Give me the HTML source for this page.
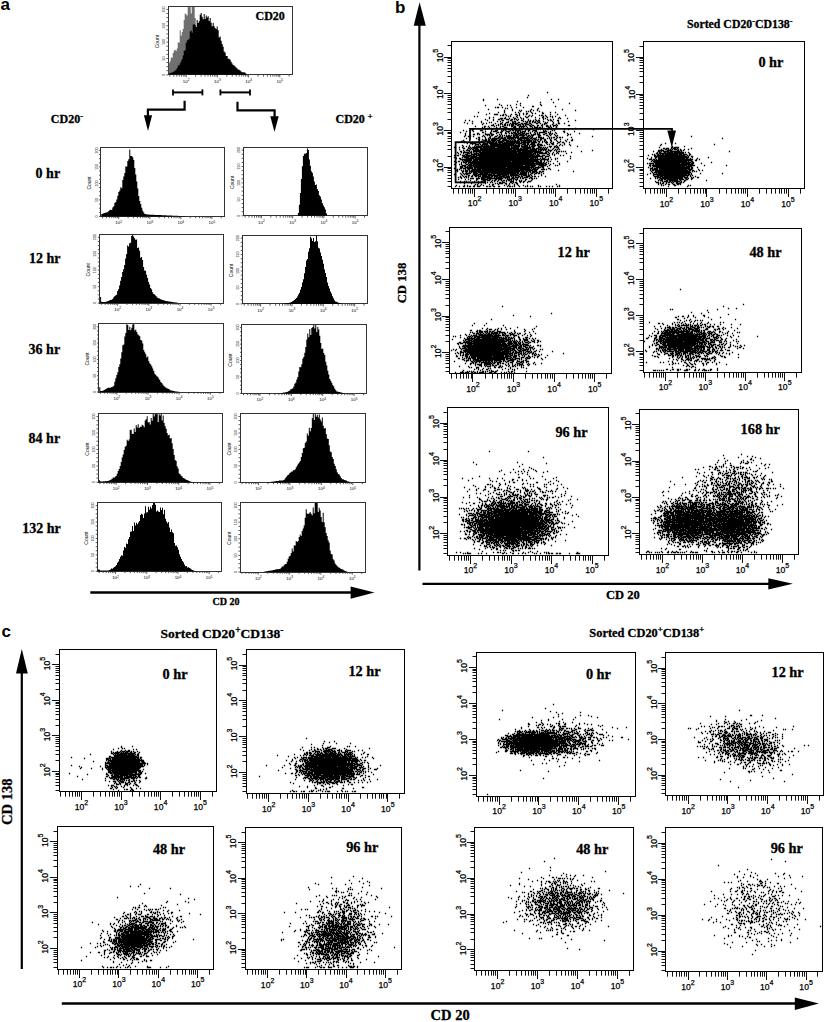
<!DOCTYPE html>
<html><head><meta charset="utf-8"><title>Figure</title>
<style>html,body{margin:0;padding:0;background:#fff;overflow:hidden;}svg{display:block;}text{fill:#000;}</style>
</head><body>
<svg width="826" height="1022" viewBox="0 0 826 1022"><text x="0.5" y="10" font-size="17" font-family="Liberation Sans" font-weight="bold" text-anchor="start" >a</text>
<text x="395" y="13.2" font-size="17" font-family="Liberation Sans" font-weight="bold" text-anchor="start" >b</text>
<text x="1.5" y="637.3" font-size="17" font-family="Liberation Sans" font-weight="bold" text-anchor="start" >c</text>
<line x1="90.3" y1="592.5" x2="352" y2="592.5" stroke="#000" stroke-width="2.7" />
<polygon points="350.6,586.4 374.5,592.5 350.6,598.8" fill="#000"/>
<line x1="419.4" y1="24" x2="419.4" y2="570.6" stroke="#000" stroke-width="2.2" />
<polygon points="413.7,25.7 419.6,2.2 425.8,25.7" fill="#000"/>
<line x1="422.5" y1="583.8" x2="770" y2="583.8" stroke="#000" stroke-width="2.2" />
<polygon points="768.3,578.3 792.9,583.8 768.3,589.6" fill="#000"/>
<line x1="21.8" y1="672" x2="21.8" y2="969" stroke="#000" stroke-width="2.2" />
<polygon points="16,673.5 21.8,649 27.8,673.5" fill="#000"/>
<line x1="61.8" y1="1003.5" x2="796" y2="1003.5" stroke="#000" stroke-width="2.4" />
<polygon points="794.8,997.5 818.9,1003.5 794.8,1010" fill="#000"/>
<polyline points="184.6,100.8 184.6,109.6 147.9,109.6 147.9,116" fill="none" stroke="#000" stroke-width="2.2"/>
<polygon points="143.9,115.2 152.1,115.2 148,131" fill="#000"/>
<polyline points="237.5,101.8 237.5,110.3 274.6,110.3 274.6,117" fill="none" stroke="#000" stroke-width="2.2"/>
<polygon points="270.3,116.3 278.7,116.3 274.5,132" fill="#000"/>
<line x1="173" y1="92.4" x2="202.4" y2="92.4" stroke="#000" stroke-width="2" />
<line x1="173" y1="89.4" x2="173" y2="95.4" stroke="#000" stroke-width="1.8" />
<line x1="202.4" y1="89.4" x2="202.4" y2="95.4" stroke="#000" stroke-width="1.8" />
<line x1="220.4" y1="92.4" x2="250" y2="92.4" stroke="#000" stroke-width="2" />
<line x1="220.4" y1="89.4" x2="220.4" y2="95.4" stroke="#000" stroke-width="1.8" />
<line x1="250" y1="89.4" x2="250" y2="95.4" stroke="#000" stroke-width="1.8" />
<text x="50.8" y="123.2" font-size="12" font-family="Liberation Serif" font-weight="bold" stroke="#000" stroke-width="0.3" text-anchor="start" ><tspan>CD20</tspan><tspan dy="-4.6" font-size="8.4">-</tspan></text>
<text x="335.5" y="123.2" font-size="12" font-family="Liberation Serif" font-weight="bold" stroke="#000" stroke-width="0.3" text-anchor="start" ><tspan>CD20 </tspan><tspan dy="-4.6" font-size="8.4">+</tspan></text>
<text x="35.6" y="178" font-size="14" font-family="Liberation Serif" font-weight="bold" stroke="#000" stroke-width="0.3" text-anchor="start" >0 hr</text>
<text x="29" y="263" font-size="14" font-family="Liberation Serif" font-weight="bold" stroke="#000" stroke-width="0.3" text-anchor="start" >12 hr</text>
<text x="28.6" y="354" font-size="14" font-family="Liberation Serif" font-weight="bold" stroke="#000" stroke-width="0.3" text-anchor="start" >36 hr</text>
<text x="28.6" y="443.3" font-size="14" font-family="Liberation Serif" font-weight="bold" stroke="#000" stroke-width="0.3" text-anchor="start" >84 hr</text>
<text x="22.3" y="533" font-size="14" font-family="Liberation Serif" font-weight="bold" stroke="#000" stroke-width="0.3" text-anchor="start" >132 hr</text>
<text x="212.5" y="605.4" font-size="10" font-family="Liberation Serif" font-weight="bold" stroke="#000" stroke-width="0.3" text-anchor="start" >CD 20</text>
<text x="606" y="598.8" font-size="12.5" font-family="Liberation Serif" font-weight="bold" stroke="#000" stroke-width="0.3" text-anchor="start" >CD 20</text>
<text x="430.6" y="1020" font-size="14.5" font-family="Liberation Serif" font-weight="bold" stroke="#000" stroke-width="0.3" text-anchor="start" >CD 20</text>
<text x="405.9" y="303.3" font-size="12.7" font-family="Liberation Serif" font-weight="bold" stroke="#000" stroke-width="0.3" text-anchor="start" transform="rotate(-90 405.9 303.3)">CD 138</text>
<text x="11.9" y="825" font-size="14.6" font-family="Liberation Serif" font-weight="bold" stroke="#000" stroke-width="0.3" text-anchor="start" transform="rotate(-90 11.9 825)">CD 138</text>
<text x="687" y="28.2" font-size="11.8" font-family="Liberation Serif" font-weight="bold" stroke="#000" stroke-width="0.3" text-anchor="start" ><tspan>Sorted CD20</tspan><tspan dy="-4.5" font-size="8.3">-</tspan><tspan dy="4.5">CD138</tspan><tspan dy="-4.5" font-size="8.3">-</tspan></text>
<text x="160.5" y="638" font-size="13.5" font-family="Liberation Serif" font-weight="bold" stroke="#000" stroke-width="0.3" text-anchor="start" ><tspan>Sorted CD20</tspan><tspan dy="-5.1" font-size="9.4">+</tspan><tspan dy="5.1">CD138</tspan><tspan dy="-5.1" font-size="9.4">-</tspan></text>
<text x="589.3" y="637" font-size="12.4" font-family="Liberation Serif" font-weight="bold" stroke="#000" stroke-width="0.3" text-anchor="start" ><tspan>Sorted CD20</tspan><tspan dy="-4.7" font-size="8.7">+</tspan><tspan dy="4.7">CD138</tspan><tspan dy="-4.7" font-size="8.7">+</tspan></text>
<rect x="168.5" y="6.5" width="124" height="68" fill="none" stroke="#333" stroke-width="1"/>
<line x1="166.4" y1="74.8" x2="168.2" y2="74.8" stroke="#333" stroke-width="0.8" />
<line x1="166.4" y1="70.7" x2="168.2" y2="70.7" stroke="#333" stroke-width="0.8" />
<line x1="166.4" y1="66.6" x2="168.2" y2="66.6" stroke="#333" stroke-width="0.8" />
<line x1="166.4" y1="62.5" x2="168.2" y2="62.5" stroke="#333" stroke-width="0.8" />
<line x1="166.4" y1="58.5" x2="168.2" y2="58.5" stroke="#333" stroke-width="0.8" />
<line x1="166.4" y1="54.4" x2="168.2" y2="54.4" stroke="#333" stroke-width="0.8" />
<line x1="166.4" y1="50.3" x2="168.2" y2="50.3" stroke="#333" stroke-width="0.8" />
<line x1="166.4" y1="46.2" x2="168.2" y2="46.2" stroke="#333" stroke-width="0.8" />
<line x1="166.4" y1="42.1" x2="168.2" y2="42.1" stroke="#333" stroke-width="0.8" />
<line x1="166.4" y1="38" x2="168.2" y2="38" stroke="#333" stroke-width="0.8" />
<line x1="166.4" y1="33.9" x2="168.2" y2="33.9" stroke="#333" stroke-width="0.8" />
<line x1="166.4" y1="29.8" x2="168.2" y2="29.8" stroke="#333" stroke-width="0.8" />
<line x1="166.4" y1="25.8" x2="168.2" y2="25.8" stroke="#333" stroke-width="0.8" />
<line x1="166.4" y1="21.7" x2="168.2" y2="21.7" stroke="#333" stroke-width="0.8" />
<line x1="166.4" y1="17.6" x2="168.2" y2="17.6" stroke="#333" stroke-width="0.8" />
<line x1="166.4" y1="13.5" x2="168.2" y2="13.5" stroke="#333" stroke-width="0.8" />
<line x1="166.4" y1="9.4" x2="168.2" y2="9.4" stroke="#333" stroke-width="0.8" />
<line x1="169.9" y1="74.8" x2="169.9" y2="76.6" stroke="#333" stroke-width="0.8" />
<line x1="173.8" y1="74.8" x2="173.8" y2="76.6" stroke="#333" stroke-width="0.8" />
<line x1="176.8" y1="74.8" x2="176.8" y2="76.6" stroke="#333" stroke-width="0.8" />
<line x1="179.3" y1="74.8" x2="179.3" y2="76.6" stroke="#333" stroke-width="0.8" />
<line x1="181.4" y1="74.8" x2="181.4" y2="76.6" stroke="#333" stroke-width="0.8" />
<line x1="183.2" y1="74.8" x2="183.2" y2="76.6" stroke="#333" stroke-width="0.8" />
<line x1="184.8" y1="74.8" x2="184.8" y2="76.6" stroke="#333" stroke-width="0.8" />
<line x1="186.2" y1="74.8" x2="186.2" y2="77.4" stroke="#333" stroke-width="0.8" />
<line x1="195.6" y1="74.8" x2="195.6" y2="76.6" stroke="#333" stroke-width="0.8" />
<line x1="201.1" y1="74.8" x2="201.1" y2="76.6" stroke="#333" stroke-width="0.8" />
<line x1="205" y1="74.8" x2="205" y2="76.6" stroke="#333" stroke-width="0.8" />
<line x1="208" y1="74.8" x2="208" y2="76.6" stroke="#333" stroke-width="0.8" />
<line x1="210.5" y1="74.8" x2="210.5" y2="76.6" stroke="#333" stroke-width="0.8" />
<line x1="212.6" y1="74.8" x2="212.6" y2="76.6" stroke="#333" stroke-width="0.8" />
<line x1="214.4" y1="74.8" x2="214.4" y2="76.6" stroke="#333" stroke-width="0.8" />
<line x1="216" y1="74.8" x2="216" y2="76.6" stroke="#333" stroke-width="0.8" />
<line x1="217.4" y1="74.8" x2="217.4" y2="77.4" stroke="#333" stroke-width="0.8" />
<line x1="226.8" y1="74.8" x2="226.8" y2="76.6" stroke="#333" stroke-width="0.8" />
<line x1="232.3" y1="74.8" x2="232.3" y2="76.6" stroke="#333" stroke-width="0.8" />
<line x1="236.2" y1="74.8" x2="236.2" y2="76.6" stroke="#333" stroke-width="0.8" />
<line x1="239.2" y1="74.8" x2="239.2" y2="76.6" stroke="#333" stroke-width="0.8" />
<line x1="241.7" y1="74.8" x2="241.7" y2="76.6" stroke="#333" stroke-width="0.8" />
<line x1="243.8" y1="74.8" x2="243.8" y2="76.6" stroke="#333" stroke-width="0.8" />
<line x1="245.6" y1="74.8" x2="245.6" y2="76.6" stroke="#333" stroke-width="0.8" />
<line x1="247.2" y1="74.8" x2="247.2" y2="76.6" stroke="#333" stroke-width="0.8" />
<line x1="248.6" y1="74.8" x2="248.6" y2="77.4" stroke="#333" stroke-width="0.8" />
<line x1="258" y1="74.8" x2="258" y2="76.6" stroke="#333" stroke-width="0.8" />
<line x1="263.5" y1="74.8" x2="263.5" y2="76.6" stroke="#333" stroke-width="0.8" />
<line x1="267.4" y1="74.8" x2="267.4" y2="76.6" stroke="#333" stroke-width="0.8" />
<line x1="270.4" y1="74.8" x2="270.4" y2="76.6" stroke="#333" stroke-width="0.8" />
<line x1="272.9" y1="74.8" x2="272.9" y2="76.6" stroke="#333" stroke-width="0.8" />
<line x1="275" y1="74.8" x2="275" y2="76.6" stroke="#333" stroke-width="0.8" />
<line x1="276.8" y1="74.8" x2="276.8" y2="76.6" stroke="#333" stroke-width="0.8" />
<line x1="278.4" y1="74.8" x2="278.4" y2="76.6" stroke="#333" stroke-width="0.8" />
<line x1="279.8" y1="74.8" x2="279.8" y2="77.4" stroke="#333" stroke-width="0.8" />
<line x1="289.2" y1="74.8" x2="289.2" y2="76.6" stroke="#333" stroke-width="0.8" />
<text x="186.2" y="82.8" font-size="4.4" font-family="Liberation Sans" fill="#333" text-anchor="middle">10<tspan dy="-1.7" font-size="3.2">2</tspan></text>
<text x="217.4" y="82.8" font-size="4.4" font-family="Liberation Sans" fill="#333" text-anchor="middle">10<tspan dy="-1.7" font-size="3.2">3</tspan></text>
<text x="248.6" y="82.8" font-size="4.4" font-family="Liberation Sans" fill="#333" text-anchor="middle">10<tspan dy="-1.7" font-size="3.2">4</tspan></text>
<text x="279.8" y="82.8" font-size="4.4" font-family="Liberation Sans" fill="#333" text-anchor="middle">10<tspan dy="-1.7" font-size="3.2">5</tspan></text>
<text x="158.8" y="41.6" font-size="5" font-family="Liberation Sans" fill="#222" text-anchor="middle" transform="rotate(-90 158.8 41.6)">Count</text>
<text x="165" y="74.8" font-size="3.6" font-family="Liberation Sans" fill="#444" text-anchor="middle" transform="rotate(-90 165 74.8)">0</text>
<text x="165" y="58.5" font-size="3.6" font-family="Liberation Sans" fill="#444" text-anchor="middle" transform="rotate(-90 165 58.5)">50</text>
<text x="165" y="42.1" font-size="3.6" font-family="Liberation Sans" fill="#444" text-anchor="middle" transform="rotate(-90 165 42.1)">100</text>
<text x="165" y="25.8" font-size="3.6" font-family="Liberation Sans" fill="#444" text-anchor="middle" transform="rotate(-90 165 25.8)">150</text>
<text x="165" y="9.4" font-size="3.6" font-family="Liberation Sans" fill="#444" text-anchor="middle" transform="rotate(-90 165 9.4)">200</text>
<path d="M168.7 74.8V63H169.7V61.2H170.7V57.4H171.7V57.8H172.7V53.1H173.7V50.6H174.7V49.7H175.7V51.1H176.7V48.4H177.7V42.3H178.7V42.7H179.7V30.2H180.7V35.7H181.7V32.1H182.7V29.1H183.7V19.9H184.7V13.6H185.7V14.6H186.7V15.4H187.7V6.9H188.7V7.3H189.7V6.9H190.7V13.5H191.7V6.9H192.7V6.9H193.7V6.9H194.7V18H195.7V28.6H196.7V30H197.7V28H198.7V36.4H199.7V42.4H200.7V51.8H201.7V62.6H202.7V71.5H203.7V74.8H204.7V74.8H205.7V74.8H206.7V74.8H207.7V74.8H208.7V74.8H209.7V74.8H210.7V74.8H211.7V74.8H212.7V74.8H213.7V74.8H214.7V74.8H215.7V74.8H216.7V74.8H217.7V74.8H218.7V74.8H219.7V74.8H220.7V74.8H221.7V74.8H222.7V74.8H223.7V74.8H224.7V74.8H225.7V74.8H226.7V74.8H227.7V74.8H228.7V74.8H229.7V74.8H230.7V74.8H231.7V74.8H232.7V74.8H233.7V74.8H234.7V74.8H235.7V74.8H236.7V74.8H237.7V74.8H238.7V74.8H239.7V74.8H240.7V74.8H241.7V74.8H242.7V74.8H243.7V74.8H244.7V74.8H245.7V74.8H246.7V74.8H247.7V74.8H248.7V74.8H249.7V74.8H250.7V74.8H251.7V74.8H252.7V74.8H253.7V74.8H254.7V74.8H255.7V74.8H256.7V74.8H257.7V74.8H258.7V74.8H259.7V74.8H260.7V74.8H261.7V74.8H262.7V74.8H263.7V74.8H264.7V74.8H265.7V74.8H266.7V74.8H267.7V74.8H268.7V74.8H269.7V74.8H270.7V74.8H271.7V74.8H272.7V74.8H273.7V74.8H274.7V74.8H275.7V74.8H276.7V74.8H277.7V74.8H278.7V74.8H279.7V74.8H280.7V74.8H281.7V74.8H282.7V74.8H283.7V74.8H284.7V74.8H285.7V74.8H286.7V74.8H287.7V74.8H288.7V74.8H289.7V74.8H290.7V74.8H291.7V74.8H292.7V74.8Z" fill="#707070"/>
<path d="M168.7 74.8V73.4H169.7V73.1H170.7V72.8H171.7V72.5H172.7V72H173.7V71.3H174.7V70.6H175.7V69.6H176.7V67.9H177.7V65.6H178.7V65.4H179.7V63.2H180.7V61.3H181.7V59.1H182.7V55.6H183.7V50.7H184.7V50.3H185.7V43H186.7V40.5H187.7V39.7H188.7V38.7H189.7V31.5H190.7V30.5H191.7V32.7H192.7V24.8H193.7V23.9H194.7V24.9H195.7V26.9H196.7V19.9H197.7V22.9H198.7V21.2H199.7V14.8H200.7V13.1H201.7V16.8H202.7V19.3H203.7V14.1H204.7V19H205.7V15.4H206.7V17.5H207.7V16.2H208.7V21H209.7V18H210.7V22.7H211.7V26.2H212.7V22.7H213.7V26.3H214.7V28.1H215.7V29.1H216.7V26.5H217.7V30.3H218.7V37.4H219.7V36.4H220.7V40.8H221.7V43.9H222.7V46.7H223.7V51.6H224.7V52.5H225.7V56H226.7V55.9H227.7V58.8H228.7V58.7H229.7V59.7H230.7V61.8H231.7V63.5H232.7V65.1H233.7V65.4H234.7V66.6H235.7V67.4H236.7V68.6H237.7V69.4H238.7V69.7H239.7V70.6H240.7V71.6H241.7V72.2H242.7V72.2H243.7V72.3H244.7V72.7H245.7V73.7H246.7V74.8H247.7V74.8H248.7V74.8H249.7V74.8H250.7V74.8H251.7V74.8H252.7V74.8H253.7V74.8H254.7V74.8H255.7V74.8H256.7V74.8H257.7V74.8H258.7V74.8H259.7V74.8H260.7V74.8H261.7V74.8H262.7V74.8H263.7V74.8H264.7V74.8H265.7V74.8H266.7V74.8H267.7V74.8H268.7V74.8H269.7V74.8H270.7V74.8H271.7V74.8H272.7V74.8H273.7V74.8H274.7V74.8H275.7V74.8H276.7V74.8H277.7V74.8H278.7V74.8H279.7V74.8H280.7V74.8H281.7V74.8H282.7V74.8H283.7V74.8H284.7V74.8H285.7V74.8H286.7V74.8H287.7V74.8H288.7V74.8H289.7V74.8H290.7V74.8H291.7V74.8H292.7V74.8Z" fill="#000"/>
<rect x="100.5" y="147.5" width="124" height="69" fill="none" stroke="#333" stroke-width="1"/>
<line x1="99" y1="216.4" x2="100.8" y2="216.4" stroke="#333" stroke-width="0.8" />
<line x1="99" y1="212.3" x2="100.8" y2="212.3" stroke="#333" stroke-width="0.8" />
<line x1="99" y1="208.2" x2="100.8" y2="208.2" stroke="#333" stroke-width="0.8" />
<line x1="99" y1="204" x2="100.8" y2="204" stroke="#333" stroke-width="0.8" />
<line x1="99" y1="199.9" x2="100.8" y2="199.9" stroke="#333" stroke-width="0.8" />
<line x1="99" y1="195.8" x2="100.8" y2="195.8" stroke="#333" stroke-width="0.8" />
<line x1="99" y1="191.7" x2="100.8" y2="191.7" stroke="#333" stroke-width="0.8" />
<line x1="99" y1="187.5" x2="100.8" y2="187.5" stroke="#333" stroke-width="0.8" />
<line x1="99" y1="183.4" x2="100.8" y2="183.4" stroke="#333" stroke-width="0.8" />
<line x1="99" y1="179.3" x2="100.8" y2="179.3" stroke="#333" stroke-width="0.8" />
<line x1="99" y1="175.2" x2="100.8" y2="175.2" stroke="#333" stroke-width="0.8" />
<line x1="99" y1="171" x2="100.8" y2="171" stroke="#333" stroke-width="0.8" />
<line x1="99" y1="166.9" x2="100.8" y2="166.9" stroke="#333" stroke-width="0.8" />
<line x1="99" y1="162.8" x2="100.8" y2="162.8" stroke="#333" stroke-width="0.8" />
<line x1="99" y1="158.7" x2="100.8" y2="158.7" stroke="#333" stroke-width="0.8" />
<line x1="99" y1="154.5" x2="100.8" y2="154.5" stroke="#333" stroke-width="0.8" />
<line x1="99" y1="150.4" x2="100.8" y2="150.4" stroke="#333" stroke-width="0.8" />
<line x1="102.5" y1="216.4" x2="102.5" y2="218.2" stroke="#333" stroke-width="0.8" />
<line x1="106.4" y1="216.4" x2="106.4" y2="218.2" stroke="#333" stroke-width="0.8" />
<line x1="109.4" y1="216.4" x2="109.4" y2="218.2" stroke="#333" stroke-width="0.8" />
<line x1="111.8" y1="216.4" x2="111.8" y2="218.2" stroke="#333" stroke-width="0.8" />
<line x1="113.9" y1="216.4" x2="113.9" y2="218.2" stroke="#333" stroke-width="0.8" />
<line x1="115.7" y1="216.4" x2="115.7" y2="218.2" stroke="#333" stroke-width="0.8" />
<line x1="117.3" y1="216.4" x2="117.3" y2="218.2" stroke="#333" stroke-width="0.8" />
<line x1="118.7" y1="216.4" x2="118.7" y2="219" stroke="#333" stroke-width="0.8" />
<line x1="128.1" y1="216.4" x2="128.1" y2="218.2" stroke="#333" stroke-width="0.8" />
<line x1="133.6" y1="216.4" x2="133.6" y2="218.2" stroke="#333" stroke-width="0.8" />
<line x1="137.4" y1="216.4" x2="137.4" y2="218.2" stroke="#333" stroke-width="0.8" />
<line x1="140.4" y1="216.4" x2="140.4" y2="218.2" stroke="#333" stroke-width="0.8" />
<line x1="142.9" y1="216.4" x2="142.9" y2="218.2" stroke="#333" stroke-width="0.8" />
<line x1="145" y1="216.4" x2="145" y2="218.2" stroke="#333" stroke-width="0.8" />
<line x1="146.8" y1="216.4" x2="146.8" y2="218.2" stroke="#333" stroke-width="0.8" />
<line x1="148.4" y1="216.4" x2="148.4" y2="218.2" stroke="#333" stroke-width="0.8" />
<line x1="149.8" y1="216.4" x2="149.8" y2="219" stroke="#333" stroke-width="0.8" />
<line x1="159.1" y1="216.4" x2="159.1" y2="218.2" stroke="#333" stroke-width="0.8" />
<line x1="164.6" y1="216.4" x2="164.6" y2="218.2" stroke="#333" stroke-width="0.8" />
<line x1="168.5" y1="216.4" x2="168.5" y2="218.2" stroke="#333" stroke-width="0.8" />
<line x1="171.5" y1="216.4" x2="171.5" y2="218.2" stroke="#333" stroke-width="0.8" />
<line x1="173.9" y1="216.4" x2="173.9" y2="218.2" stroke="#333" stroke-width="0.8" />
<line x1="176" y1="216.4" x2="176" y2="218.2" stroke="#333" stroke-width="0.8" />
<line x1="177.8" y1="216.4" x2="177.8" y2="218.2" stroke="#333" stroke-width="0.8" />
<line x1="179.4" y1="216.4" x2="179.4" y2="218.2" stroke="#333" stroke-width="0.8" />
<line x1="180.8" y1="216.4" x2="180.8" y2="219" stroke="#333" stroke-width="0.8" />
<line x1="190.2" y1="216.4" x2="190.2" y2="218.2" stroke="#333" stroke-width="0.8" />
<line x1="195.6" y1="216.4" x2="195.6" y2="218.2" stroke="#333" stroke-width="0.8" />
<line x1="199.5" y1="216.4" x2="199.5" y2="218.2" stroke="#333" stroke-width="0.8" />
<line x1="202.5" y1="216.4" x2="202.5" y2="218.2" stroke="#333" stroke-width="0.8" />
<line x1="205" y1="216.4" x2="205" y2="218.2" stroke="#333" stroke-width="0.8" />
<line x1="207.1" y1="216.4" x2="207.1" y2="218.2" stroke="#333" stroke-width="0.8" />
<line x1="208.9" y1="216.4" x2="208.9" y2="218.2" stroke="#333" stroke-width="0.8" />
<line x1="210.5" y1="216.4" x2="210.5" y2="218.2" stroke="#333" stroke-width="0.8" />
<line x1="211.9" y1="216.4" x2="211.9" y2="219" stroke="#333" stroke-width="0.8" />
<line x1="221.2" y1="216.4" x2="221.2" y2="218.2" stroke="#333" stroke-width="0.8" />
<text x="118.7" y="224.4" font-size="4.4" font-family="Liberation Sans" fill="#333" text-anchor="middle">10<tspan dy="-1.7" font-size="3.2">2</tspan></text>
<text x="149.8" y="224.4" font-size="4.4" font-family="Liberation Sans" fill="#333" text-anchor="middle">10<tspan dy="-1.7" font-size="3.2">3</tspan></text>
<text x="180.8" y="224.4" font-size="4.4" font-family="Liberation Sans" fill="#333" text-anchor="middle">10<tspan dy="-1.7" font-size="3.2">4</tspan></text>
<text x="211.9" y="224.4" font-size="4.4" font-family="Liberation Sans" fill="#333" text-anchor="middle">10<tspan dy="-1.7" font-size="3.2">5</tspan></text>
<text x="91.4" y="182.9" font-size="5" font-family="Liberation Sans" fill="#222" text-anchor="middle" transform="rotate(-90 91.4 182.9)">Count</text>
<text x="97.6" y="216.4" font-size="3.6" font-family="Liberation Sans" fill="#444" text-anchor="middle" transform="rotate(-90 97.6 216.4)">0</text>
<text x="97.6" y="199.9" font-size="3.6" font-family="Liberation Sans" fill="#444" text-anchor="middle" transform="rotate(-90 97.6 199.9)">50</text>
<text x="97.6" y="183.4" font-size="3.6" font-family="Liberation Sans" fill="#444" text-anchor="middle" transform="rotate(-90 97.6 183.4)">100</text>
<text x="97.6" y="166.9" font-size="3.6" font-family="Liberation Sans" fill="#444" text-anchor="middle" transform="rotate(-90 97.6 166.9)">150</text>
<text x="97.6" y="150.4" font-size="3.6" font-family="Liberation Sans" fill="#444" text-anchor="middle" transform="rotate(-90 97.6 150.4)">200</text>
<path d="M101.3 216.4V214.1H102.3V213.8H103.3V213.2H104.3V213.1H105.3V212.4H106.3V212.6H107.3V212.1H108.3V210.9H109.3V209.9H110.3V209.7H111.3V210.1H112.3V207.4H113.3V206.2H114.3V203H115.3V201.9H116.3V199.6H117.3V195.8H118.3V192H119.3V190.4H120.3V187.2H121.3V188.3H122.3V179.9H123.3V176.6H124.3V173H125.3V166.6H126.3V166.4H127.3V161H128.3V159.2H129.3V149.4H130.3V156H131.3V155.9H132.3V157.3H133.3V160.1H134.3V168.1H135.3V174.6H136.3V181.6H137.3V188.5H138.3V196.1H139.3V201H140.3V203.9H141.3V207.8H142.3V210.7H143.3V212.5H144.3V214.1H145.3V214.1H146.3V214.5H147.3V214.6H148.3V214.6H149.3V214.8H150.3V214.8H151.3V214.7H152.3V214.8H153.3V214.8H154.3V214.9H155.3V214.9H156.3V215H157.3V215H158.3V215H159.3V215.1H160.3V215.1H161.3V215.3H162.3V215.3H163.3V215.2H164.3V215.3H165.3V215.3H166.3V215.4H167.3V215.5H168.3V215.5H169.3V215.6H170.3V215.5H171.3V215.6H172.3V215.7H173.3V215.7H174.3V215.8H175.3V215.8H176.3V215.8H177.3V215.8H178.3V216H179.3V216H180.3V216.1H181.3V216.1H182.3V216.1H183.3V216.2H184.3V216.3H185.3V216.3H186.3V216.4H187.3V216.4H188.3V216.4H189.3V216.4H190.3V216.4H191.3V216.4H192.3V216.4H193.3V216.4H194.3V216.4H195.3V216.4H196.3V216.4H197.3V216.4H198.3V216.4H199.3V216.4H200.3V216.4H201.3V216.4H202.3V216.4H203.3V216.4H204.3V216.4H205.3V216.4H206.3V216.4H207.3V216.4H208.3V216.4H209.3V216.4H210.3V216.4H211.3V216.4H212.3V216.4H213.3V216.4H214.3V216.4H215.3V216.4H216.3V216.4H217.3V216.4H218.3V216.4H219.3V216.4H220.3V216.4H221.3V216.4H222.3V216.4H223.3V216.4H224.3V216.4Z" fill="#000"/>
<rect x="243.5" y="147.5" width="124" height="68" fill="none" stroke="#333" stroke-width="1"/>
<line x1="241.6" y1="215.8" x2="243.4" y2="215.8" stroke="#333" stroke-width="0.8" />
<line x1="241.6" y1="211.7" x2="243.4" y2="211.7" stroke="#333" stroke-width="0.8" />
<line x1="241.6" y1="207.6" x2="243.4" y2="207.6" stroke="#333" stroke-width="0.8" />
<line x1="241.6" y1="203.5" x2="243.4" y2="203.5" stroke="#333" stroke-width="0.8" />
<line x1="241.6" y1="199.4" x2="243.4" y2="199.4" stroke="#333" stroke-width="0.8" />
<line x1="241.6" y1="195.3" x2="243.4" y2="195.3" stroke="#333" stroke-width="0.8" />
<line x1="241.6" y1="191.2" x2="243.4" y2="191.2" stroke="#333" stroke-width="0.8" />
<line x1="241.6" y1="187.1" x2="243.4" y2="187.1" stroke="#333" stroke-width="0.8" />
<line x1="241.6" y1="182.9" x2="243.4" y2="182.9" stroke="#333" stroke-width="0.8" />
<line x1="241.6" y1="178.8" x2="243.4" y2="178.8" stroke="#333" stroke-width="0.8" />
<line x1="241.6" y1="174.7" x2="243.4" y2="174.7" stroke="#333" stroke-width="0.8" />
<line x1="241.6" y1="170.6" x2="243.4" y2="170.6" stroke="#333" stroke-width="0.8" />
<line x1="241.6" y1="166.5" x2="243.4" y2="166.5" stroke="#333" stroke-width="0.8" />
<line x1="241.6" y1="162.4" x2="243.4" y2="162.4" stroke="#333" stroke-width="0.8" />
<line x1="241.6" y1="158.3" x2="243.4" y2="158.3" stroke="#333" stroke-width="0.8" />
<line x1="241.6" y1="154.2" x2="243.4" y2="154.2" stroke="#333" stroke-width="0.8" />
<line x1="241.6" y1="150.1" x2="243.4" y2="150.1" stroke="#333" stroke-width="0.8" />
<line x1="245.1" y1="215.8" x2="245.1" y2="217.6" stroke="#333" stroke-width="0.8" />
<line x1="249" y1="215.8" x2="249" y2="217.6" stroke="#333" stroke-width="0.8" />
<line x1="252" y1="215.8" x2="252" y2="217.6" stroke="#333" stroke-width="0.8" />
<line x1="254.5" y1="215.8" x2="254.5" y2="217.6" stroke="#333" stroke-width="0.8" />
<line x1="256.6" y1="215.8" x2="256.6" y2="217.6" stroke="#333" stroke-width="0.8" />
<line x1="258.4" y1="215.8" x2="258.4" y2="217.6" stroke="#333" stroke-width="0.8" />
<line x1="260" y1="215.8" x2="260" y2="217.6" stroke="#333" stroke-width="0.8" />
<line x1="261.4" y1="215.8" x2="261.4" y2="218.4" stroke="#333" stroke-width="0.8" />
<line x1="270.8" y1="215.8" x2="270.8" y2="217.6" stroke="#333" stroke-width="0.8" />
<line x1="276.3" y1="215.8" x2="276.3" y2="217.6" stroke="#333" stroke-width="0.8" />
<line x1="280.2" y1="215.8" x2="280.2" y2="217.6" stroke="#333" stroke-width="0.8" />
<line x1="283.3" y1="215.8" x2="283.3" y2="217.6" stroke="#333" stroke-width="0.8" />
<line x1="285.7" y1="215.8" x2="285.7" y2="217.6" stroke="#333" stroke-width="0.8" />
<line x1="287.8" y1="215.8" x2="287.8" y2="217.6" stroke="#333" stroke-width="0.8" />
<line x1="289.6" y1="215.8" x2="289.6" y2="217.6" stroke="#333" stroke-width="0.8" />
<line x1="291.2" y1="215.8" x2="291.2" y2="217.6" stroke="#333" stroke-width="0.8" />
<line x1="292.7" y1="215.8" x2="292.7" y2="218.4" stroke="#333" stroke-width="0.8" />
<line x1="302.1" y1="215.8" x2="302.1" y2="217.6" stroke="#333" stroke-width="0.8" />
<line x1="307.6" y1="215.8" x2="307.6" y2="217.6" stroke="#333" stroke-width="0.8" />
<line x1="311.5" y1="215.8" x2="311.5" y2="217.6" stroke="#333" stroke-width="0.8" />
<line x1="314.5" y1="215.8" x2="314.5" y2="217.6" stroke="#333" stroke-width="0.8" />
<line x1="317" y1="215.8" x2="317" y2="217.6" stroke="#333" stroke-width="0.8" />
<line x1="319.1" y1="215.8" x2="319.1" y2="217.6" stroke="#333" stroke-width="0.8" />
<line x1="320.9" y1="215.8" x2="320.9" y2="217.6" stroke="#333" stroke-width="0.8" />
<line x1="322.5" y1="215.8" x2="322.5" y2="217.6" stroke="#333" stroke-width="0.8" />
<line x1="323.9" y1="215.8" x2="323.9" y2="218.4" stroke="#333" stroke-width="0.8" />
<line x1="333.3" y1="215.8" x2="333.3" y2="217.6" stroke="#333" stroke-width="0.8" />
<line x1="338.8" y1="215.8" x2="338.8" y2="217.6" stroke="#333" stroke-width="0.8" />
<line x1="342.7" y1="215.8" x2="342.7" y2="217.6" stroke="#333" stroke-width="0.8" />
<line x1="345.7" y1="215.8" x2="345.7" y2="217.6" stroke="#333" stroke-width="0.8" />
<line x1="348.2" y1="215.8" x2="348.2" y2="217.6" stroke="#333" stroke-width="0.8" />
<line x1="350.3" y1="215.8" x2="350.3" y2="217.6" stroke="#333" stroke-width="0.8" />
<line x1="352.1" y1="215.8" x2="352.1" y2="217.6" stroke="#333" stroke-width="0.8" />
<line x1="353.7" y1="215.8" x2="353.7" y2="217.6" stroke="#333" stroke-width="0.8" />
<line x1="355.1" y1="215.8" x2="355.1" y2="218.4" stroke="#333" stroke-width="0.8" />
<line x1="364.5" y1="215.8" x2="364.5" y2="217.6" stroke="#333" stroke-width="0.8" />
<text x="261.4" y="223.8" font-size="4.4" font-family="Liberation Sans" fill="#333" text-anchor="middle">10<tspan dy="-1.7" font-size="3.2">2</tspan></text>
<text x="292.7" y="223.8" font-size="4.4" font-family="Liberation Sans" fill="#333" text-anchor="middle">10<tspan dy="-1.7" font-size="3.2">3</tspan></text>
<text x="323.9" y="223.8" font-size="4.4" font-family="Liberation Sans" fill="#333" text-anchor="middle">10<tspan dy="-1.7" font-size="3.2">4</tspan></text>
<text x="355.1" y="223.8" font-size="4.4" font-family="Liberation Sans" fill="#333" text-anchor="middle">10<tspan dy="-1.7" font-size="3.2">5</tspan></text>
<text x="234" y="182.4" font-size="5" font-family="Liberation Sans" fill="#222" text-anchor="middle" transform="rotate(-90 234 182.4)">Count</text>
<text x="240.2" y="215.8" font-size="3.6" font-family="Liberation Sans" fill="#444" text-anchor="middle" transform="rotate(-90 240.2 215.8)">0</text>
<text x="240.2" y="199.4" font-size="3.6" font-family="Liberation Sans" fill="#444" text-anchor="middle" transform="rotate(-90 240.2 199.4)">50</text>
<text x="240.2" y="182.9" font-size="3.6" font-family="Liberation Sans" fill="#444" text-anchor="middle" transform="rotate(-90 240.2 182.9)">100</text>
<text x="240.2" y="166.5" font-size="3.6" font-family="Liberation Sans" fill="#444" text-anchor="middle" transform="rotate(-90 240.2 166.5)">150</text>
<text x="240.2" y="150.1" font-size="3.6" font-family="Liberation Sans" fill="#444" text-anchor="middle" transform="rotate(-90 240.2 150.1)">200</text>
<path d="M243.9 215.8V215.8H244.9V215.8H245.9V215.8H246.9V215.8H247.9V215.8H248.9V215.8H249.9V215.8H250.9V215.8H251.9V215.8H252.9V215.8H253.9V215.8H254.9V215.8H255.9V215.8H256.9V215.8H257.9V215.8H258.9V215.8H259.9V215.8H260.9V215.8H261.9V215.8H262.9V215.8H263.9V215.8H264.9V215.8H265.9V215.8H266.9V215.8H267.9V215.8H268.9V215.8H269.9V215.8H270.9V215.8H271.9V215.8H272.9V215.8H273.9V215.8H274.9V215.8H275.9V215.8H276.9V215.8H277.9V215.8H278.9V215.8H279.9V215.8H280.9V215.8H281.9V215.8H282.9V215.8H283.9V215.8H284.9V215.8H285.9V215.8H286.9V215.8H287.9V215.8H288.9V215.8H289.9V215.8H290.9V215.8H291.9V215.8H292.9V215.8H293.9V215.8H294.9V215.8H295.9V215.8H296.9V215.8H297.9V212.9H298.9V204.8H299.9V192.9H300.9V179H301.9V166.2H302.9V156H303.9V153.7H304.9V153.8H305.9V152.9H306.9V148.4H307.9V149.9H308.9V159.4H309.9V165.8H310.9V171.2H311.9V172.8H312.9V176.5H313.9V181.5H314.9V184.9H315.9V184.5H316.9V189.1H317.9V191.1H318.9V195.3H319.9V196.5H320.9V199.6H321.9V202.9H322.9V205.4H323.9V207.3H324.9V209.6H325.9V213.2H326.9V215.8H327.9V215.8H328.9V215.8H329.9V215.8H330.9V215.8H331.9V215.8H332.9V215.8H333.9V215.8H334.9V215.8H335.9V215.8H336.9V215.8H337.9V215.8H338.9V215.8H339.9V215.8H340.9V215.8H341.9V215.8H342.9V215.8H343.9V215.8H344.9V215.8H345.9V215.8H346.9V215.8H347.9V215.8H348.9V215.8H349.9V215.8H350.9V215.8H351.9V215.8H352.9V215.8H353.9V215.8H354.9V215.8H355.9V215.8H356.9V215.8H357.9V215.8H358.9V215.8H359.9V215.8H360.9V215.8H361.9V215.8H362.9V215.8H363.9V215.8H364.9V215.8H365.9V215.8H366.9V215.8H367.9V215.8Z" fill="#000"/>
<rect x="99.5" y="234.5" width="124" height="69" fill="none" stroke="#333" stroke-width="1"/>
<line x1="97.8" y1="303.1" x2="99.6" y2="303.1" stroke="#333" stroke-width="0.8" />
<line x1="97.8" y1="299" x2="99.6" y2="299" stroke="#333" stroke-width="0.8" />
<line x1="97.8" y1="294.9" x2="99.6" y2="294.9" stroke="#333" stroke-width="0.8" />
<line x1="97.8" y1="290.8" x2="99.6" y2="290.8" stroke="#333" stroke-width="0.8" />
<line x1="97.8" y1="286.7" x2="99.6" y2="286.7" stroke="#333" stroke-width="0.8" />
<line x1="97.8" y1="282.5" x2="99.6" y2="282.5" stroke="#333" stroke-width="0.8" />
<line x1="97.8" y1="278.4" x2="99.6" y2="278.4" stroke="#333" stroke-width="0.8" />
<line x1="97.8" y1="274.3" x2="99.6" y2="274.3" stroke="#333" stroke-width="0.8" />
<line x1="97.8" y1="270.2" x2="99.6" y2="270.2" stroke="#333" stroke-width="0.8" />
<line x1="97.8" y1="266.1" x2="99.6" y2="266.1" stroke="#333" stroke-width="0.8" />
<line x1="97.8" y1="262" x2="99.6" y2="262" stroke="#333" stroke-width="0.8" />
<line x1="97.8" y1="257.9" x2="99.6" y2="257.9" stroke="#333" stroke-width="0.8" />
<line x1="97.8" y1="253.8" x2="99.6" y2="253.8" stroke="#333" stroke-width="0.8" />
<line x1="97.8" y1="249.6" x2="99.6" y2="249.6" stroke="#333" stroke-width="0.8" />
<line x1="97.8" y1="245.5" x2="99.6" y2="245.5" stroke="#333" stroke-width="0.8" />
<line x1="97.8" y1="241.4" x2="99.6" y2="241.4" stroke="#333" stroke-width="0.8" />
<line x1="97.8" y1="237.3" x2="99.6" y2="237.3" stroke="#333" stroke-width="0.8" />
<line x1="101.3" y1="303.1" x2="101.3" y2="304.9" stroke="#333" stroke-width="0.8" />
<line x1="105.2" y1="303.1" x2="105.2" y2="304.9" stroke="#333" stroke-width="0.8" />
<line x1="108.2" y1="303.1" x2="108.2" y2="304.9" stroke="#333" stroke-width="0.8" />
<line x1="110.7" y1="303.1" x2="110.7" y2="304.9" stroke="#333" stroke-width="0.8" />
<line x1="112.8" y1="303.1" x2="112.8" y2="304.9" stroke="#333" stroke-width="0.8" />
<line x1="114.6" y1="303.1" x2="114.6" y2="304.9" stroke="#333" stroke-width="0.8" />
<line x1="116.2" y1="303.1" x2="116.2" y2="304.9" stroke="#333" stroke-width="0.8" />
<line x1="117.6" y1="303.1" x2="117.6" y2="305.7" stroke="#333" stroke-width="0.8" />
<line x1="127" y1="303.1" x2="127" y2="304.9" stroke="#333" stroke-width="0.8" />
<line x1="132.5" y1="303.1" x2="132.5" y2="304.9" stroke="#333" stroke-width="0.8" />
<line x1="136.4" y1="303.1" x2="136.4" y2="304.9" stroke="#333" stroke-width="0.8" />
<line x1="139.4" y1="303.1" x2="139.4" y2="304.9" stroke="#333" stroke-width="0.8" />
<line x1="141.9" y1="303.1" x2="141.9" y2="304.9" stroke="#333" stroke-width="0.8" />
<line x1="144" y1="303.1" x2="144" y2="304.9" stroke="#333" stroke-width="0.8" />
<line x1="145.8" y1="303.1" x2="145.8" y2="304.9" stroke="#333" stroke-width="0.8" />
<line x1="147.4" y1="303.1" x2="147.4" y2="304.9" stroke="#333" stroke-width="0.8" />
<line x1="148.8" y1="303.1" x2="148.8" y2="305.7" stroke="#333" stroke-width="0.8" />
<line x1="158.2" y1="303.1" x2="158.2" y2="304.9" stroke="#333" stroke-width="0.8" />
<line x1="163.7" y1="303.1" x2="163.7" y2="304.9" stroke="#333" stroke-width="0.8" />
<line x1="167.6" y1="303.1" x2="167.6" y2="304.9" stroke="#333" stroke-width="0.8" />
<line x1="170.6" y1="303.1" x2="170.6" y2="304.9" stroke="#333" stroke-width="0.8" />
<line x1="173" y1="303.1" x2="173" y2="304.9" stroke="#333" stroke-width="0.8" />
<line x1="175.1" y1="303.1" x2="175.1" y2="304.9" stroke="#333" stroke-width="0.8" />
<line x1="176.9" y1="303.1" x2="176.9" y2="304.9" stroke="#333" stroke-width="0.8" />
<line x1="178.5" y1="303.1" x2="178.5" y2="304.9" stroke="#333" stroke-width="0.8" />
<line x1="180" y1="303.1" x2="180" y2="305.7" stroke="#333" stroke-width="0.8" />
<line x1="189.3" y1="303.1" x2="189.3" y2="304.9" stroke="#333" stroke-width="0.8" />
<line x1="194.8" y1="303.1" x2="194.8" y2="304.9" stroke="#333" stroke-width="0.8" />
<line x1="198.7" y1="303.1" x2="198.7" y2="304.9" stroke="#333" stroke-width="0.8" />
<line x1="201.7" y1="303.1" x2="201.7" y2="304.9" stroke="#333" stroke-width="0.8" />
<line x1="204.2" y1="303.1" x2="204.2" y2="304.9" stroke="#333" stroke-width="0.8" />
<line x1="206.3" y1="303.1" x2="206.3" y2="304.9" stroke="#333" stroke-width="0.8" />
<line x1="208.1" y1="303.1" x2="208.1" y2="304.9" stroke="#333" stroke-width="0.8" />
<line x1="209.7" y1="303.1" x2="209.7" y2="304.9" stroke="#333" stroke-width="0.8" />
<line x1="211.1" y1="303.1" x2="211.1" y2="305.7" stroke="#333" stroke-width="0.8" />
<line x1="220.5" y1="303.1" x2="220.5" y2="304.9" stroke="#333" stroke-width="0.8" />
<text x="117.6" y="311.1" font-size="4.4" font-family="Liberation Sans" fill="#333" text-anchor="middle">10<tspan dy="-1.7" font-size="3.2">2</tspan></text>
<text x="148.8" y="311.1" font-size="4.4" font-family="Liberation Sans" fill="#333" text-anchor="middle">10<tspan dy="-1.7" font-size="3.2">3</tspan></text>
<text x="180" y="311.1" font-size="4.4" font-family="Liberation Sans" fill="#333" text-anchor="middle">10<tspan dy="-1.7" font-size="3.2">4</tspan></text>
<text x="211.1" y="311.1" font-size="4.4" font-family="Liberation Sans" fill="#333" text-anchor="middle">10<tspan dy="-1.7" font-size="3.2">5</tspan></text>
<text x="90.2" y="269.7" font-size="5" font-family="Liberation Sans" fill="#222" text-anchor="middle" transform="rotate(-90 90.2 269.7)">Count</text>
<text x="96.4" y="303.1" font-size="3.6" font-family="Liberation Sans" fill="#444" text-anchor="middle" transform="rotate(-90 96.4 303.1)">0</text>
<text x="96.4" y="286.7" font-size="3.6" font-family="Liberation Sans" fill="#444" text-anchor="middle" transform="rotate(-90 96.4 286.7)">50</text>
<text x="96.4" y="270.2" font-size="3.6" font-family="Liberation Sans" fill="#444" text-anchor="middle" transform="rotate(-90 96.4 270.2)">100</text>
<text x="96.4" y="253.8" font-size="3.6" font-family="Liberation Sans" fill="#444" text-anchor="middle" transform="rotate(-90 96.4 253.8)">150</text>
<text x="96.4" y="237.3" font-size="3.6" font-family="Liberation Sans" fill="#444" text-anchor="middle" transform="rotate(-90 96.4 237.3)">200</text>
<path d="M100.1 303.1V296.9H101.1V301.7H102.1V301.9H103.1V301.9H104.1V302H105.1V301.9H106.1V301.6H107.1V301.3H108.1V300.9H109.1V300.3H110.1V300H111.1V299.7H112.1V298.9H113.1V297.6H114.1V296.3H115.1V295.6H116.1V294.7H117.1V290.9H118.1V289.2H119.1V285.6H120.1V280.8H121.1V276.9H122.1V272H123.1V269.2H124.1V265H125.1V258.4H126.1V253.9H127.1V245.4H128.1V246.4H129.1V243.2H130.1V242.7H131.1V235.9H132.1V234.8H133.1V236.4H134.1V238.2H135.1V239.7H136.1V239.5H137.1V247.9H138.1V247.5H139.1V250.8H140.1V257.7H141.1V256.9H142.1V260H143.1V267H144.1V270.5H145.1V270.7H146.1V274.7H147.1V277.9H148.1V282H149.1V284.6H150.1V288.1H151.1V289.2H152.1V292.2H153.1V294.1H154.1V294.4H155.1V295.5H156.1V296.5H157.1V297.8H158.1V298.2H159.1V298.6H160.1V299.2H161.1V299.4H162.1V299.9H163.1V300.3H164.1V300.6H165.1V300.9H166.1V301.1H167.1V301.2H168.1V301.4H169.1V301.6H170.1V301.7H171.1V301.8H172.1V302.1H173.1V302.2H174.1V302.3H175.1V302.5H176.1V302.6H177.1V302.7H178.1V302.9H179.1V303H180.1V303.1H181.1V303.1H182.1V303.1H183.1V303.1H184.1V303.1H185.1V303.1H186.1V303.1H187.1V303.1H188.1V303.1H189.1V303.1H190.1V303.1H191.1V303.1H192.1V303.1H193.1V303.1H194.1V303.1H195.1V303.1H196.1V303.1H197.1V303.1H198.1V303.1H199.1V303.1H200.1V303.1H201.1V303.1H202.1V303.1H203.1V303.1H204.1V303.1H205.1V303.1H206.1V303.1H207.1V303.1H208.1V303.1H209.1V303.1H210.1V303.1H211.1V303.1H212.1V303.1H213.1V303.1H214.1V303.1H215.1V303.1H216.1V303.1H217.1V303.1H218.1V303.1H219.1V303.1H220.1V303.1H221.1V303.1H222.1V303.1H223.1V303.1H224.1V303.1Z" fill="#000"/>
<rect x="242.5" y="235.5" width="125" height="68" fill="none" stroke="#333" stroke-width="1"/>
<line x1="240.7" y1="303.9" x2="242.5" y2="303.9" stroke="#333" stroke-width="0.8" />
<line x1="240.7" y1="299.8" x2="242.5" y2="299.8" stroke="#333" stroke-width="0.8" />
<line x1="240.7" y1="295.7" x2="242.5" y2="295.7" stroke="#333" stroke-width="0.8" />
<line x1="240.7" y1="291.6" x2="242.5" y2="291.6" stroke="#333" stroke-width="0.8" />
<line x1="240.7" y1="287.5" x2="242.5" y2="287.5" stroke="#333" stroke-width="0.8" />
<line x1="240.7" y1="283.4" x2="242.5" y2="283.4" stroke="#333" stroke-width="0.8" />
<line x1="240.7" y1="279.3" x2="242.5" y2="279.3" stroke="#333" stroke-width="0.8" />
<line x1="240.7" y1="275.2" x2="242.5" y2="275.2" stroke="#333" stroke-width="0.8" />
<line x1="240.7" y1="271" x2="242.5" y2="271" stroke="#333" stroke-width="0.8" />
<line x1="240.7" y1="266.9" x2="242.5" y2="266.9" stroke="#333" stroke-width="0.8" />
<line x1="240.7" y1="262.8" x2="242.5" y2="262.8" stroke="#333" stroke-width="0.8" />
<line x1="240.7" y1="258.7" x2="242.5" y2="258.7" stroke="#333" stroke-width="0.8" />
<line x1="240.7" y1="254.6" x2="242.5" y2="254.6" stroke="#333" stroke-width="0.8" />
<line x1="240.7" y1="250.5" x2="242.5" y2="250.5" stroke="#333" stroke-width="0.8" />
<line x1="240.7" y1="246.4" x2="242.5" y2="246.4" stroke="#333" stroke-width="0.8" />
<line x1="240.7" y1="242.3" x2="242.5" y2="242.3" stroke="#333" stroke-width="0.8" />
<line x1="240.7" y1="238.2" x2="242.5" y2="238.2" stroke="#333" stroke-width="0.8" />
<line x1="244.2" y1="303.9" x2="244.2" y2="305.7" stroke="#333" stroke-width="0.8" />
<line x1="248.1" y1="303.9" x2="248.1" y2="305.7" stroke="#333" stroke-width="0.8" />
<line x1="251.2" y1="303.9" x2="251.2" y2="305.7" stroke="#333" stroke-width="0.8" />
<line x1="253.7" y1="303.9" x2="253.7" y2="305.7" stroke="#333" stroke-width="0.8" />
<line x1="255.8" y1="303.9" x2="255.8" y2="305.7" stroke="#333" stroke-width="0.8" />
<line x1="257.6" y1="303.9" x2="257.6" y2="305.7" stroke="#333" stroke-width="0.8" />
<line x1="259.2" y1="303.9" x2="259.2" y2="305.7" stroke="#333" stroke-width="0.8" />
<line x1="260.6" y1="303.9" x2="260.6" y2="306.5" stroke="#333" stroke-width="0.8" />
<line x1="270" y1="303.9" x2="270" y2="305.7" stroke="#333" stroke-width="0.8" />
<line x1="275.6" y1="303.9" x2="275.6" y2="305.7" stroke="#333" stroke-width="0.8" />
<line x1="279.5" y1="303.9" x2="279.5" y2="305.7" stroke="#333" stroke-width="0.8" />
<line x1="282.5" y1="303.9" x2="282.5" y2="305.7" stroke="#333" stroke-width="0.8" />
<line x1="285" y1="303.9" x2="285" y2="305.7" stroke="#333" stroke-width="0.8" />
<line x1="287.1" y1="303.9" x2="287.1" y2="305.7" stroke="#333" stroke-width="0.8" />
<line x1="288.9" y1="303.9" x2="288.9" y2="305.7" stroke="#333" stroke-width="0.8" />
<line x1="290.5" y1="303.9" x2="290.5" y2="305.7" stroke="#333" stroke-width="0.8" />
<line x1="292" y1="303.9" x2="292" y2="306.5" stroke="#333" stroke-width="0.8" />
<line x1="301.4" y1="303.9" x2="301.4" y2="305.7" stroke="#333" stroke-width="0.8" />
<line x1="306.9" y1="303.9" x2="306.9" y2="305.7" stroke="#333" stroke-width="0.8" />
<line x1="310.8" y1="303.9" x2="310.8" y2="305.7" stroke="#333" stroke-width="0.8" />
<line x1="313.9" y1="303.9" x2="313.9" y2="305.7" stroke="#333" stroke-width="0.8" />
<line x1="316.4" y1="303.9" x2="316.4" y2="305.7" stroke="#333" stroke-width="0.8" />
<line x1="318.5" y1="303.9" x2="318.5" y2="305.7" stroke="#333" stroke-width="0.8" />
<line x1="320.3" y1="303.9" x2="320.3" y2="305.7" stroke="#333" stroke-width="0.8" />
<line x1="321.9" y1="303.9" x2="321.9" y2="305.7" stroke="#333" stroke-width="0.8" />
<line x1="323.3" y1="303.9" x2="323.3" y2="306.5" stroke="#333" stroke-width="0.8" />
<line x1="332.7" y1="303.9" x2="332.7" y2="305.7" stroke="#333" stroke-width="0.8" />
<line x1="338.3" y1="303.9" x2="338.3" y2="305.7" stroke="#333" stroke-width="0.8" />
<line x1="342.2" y1="303.9" x2="342.2" y2="305.7" stroke="#333" stroke-width="0.8" />
<line x1="345.2" y1="303.9" x2="345.2" y2="305.7" stroke="#333" stroke-width="0.8" />
<line x1="347.7" y1="303.9" x2="347.7" y2="305.7" stroke="#333" stroke-width="0.8" />
<line x1="349.8" y1="303.9" x2="349.8" y2="305.7" stroke="#333" stroke-width="0.8" />
<line x1="351.6" y1="303.9" x2="351.6" y2="305.7" stroke="#333" stroke-width="0.8" />
<line x1="353.2" y1="303.9" x2="353.2" y2="305.7" stroke="#333" stroke-width="0.8" />
<line x1="354.7" y1="303.9" x2="354.7" y2="306.5" stroke="#333" stroke-width="0.8" />
<line x1="364.1" y1="303.9" x2="364.1" y2="305.7" stroke="#333" stroke-width="0.8" />
<text x="260.6" y="311.9" font-size="4.4" font-family="Liberation Sans" fill="#333" text-anchor="middle">10<tspan dy="-1.7" font-size="3.2">2</tspan></text>
<text x="292" y="311.9" font-size="4.4" font-family="Liberation Sans" fill="#333" text-anchor="middle">10<tspan dy="-1.7" font-size="3.2">3</tspan></text>
<text x="323.3" y="311.9" font-size="4.4" font-family="Liberation Sans" fill="#333" text-anchor="middle">10<tspan dy="-1.7" font-size="3.2">4</tspan></text>
<text x="354.7" y="311.9" font-size="4.4" font-family="Liberation Sans" fill="#333" text-anchor="middle">10<tspan dy="-1.7" font-size="3.2">5</tspan></text>
<text x="233.1" y="270.5" font-size="5" font-family="Liberation Sans" fill="#222" text-anchor="middle" transform="rotate(-90 233.1 270.5)">Count</text>
<text x="239.3" y="303.9" font-size="3.6" font-family="Liberation Sans" fill="#444" text-anchor="middle" transform="rotate(-90 239.3 303.9)">0</text>
<text x="239.3" y="287.5" font-size="3.6" font-family="Liberation Sans" fill="#444" text-anchor="middle" transform="rotate(-90 239.3 287.5)">50</text>
<text x="239.3" y="271" font-size="3.6" font-family="Liberation Sans" fill="#444" text-anchor="middle" transform="rotate(-90 239.3 271)">100</text>
<text x="239.3" y="254.6" font-size="3.6" font-family="Liberation Sans" fill="#444" text-anchor="middle" transform="rotate(-90 239.3 254.6)">150</text>
<text x="239.3" y="238.2" font-size="3.6" font-family="Liberation Sans" fill="#444" text-anchor="middle" transform="rotate(-90 239.3 238.2)">200</text>
<path d="M243 303.9V303.9H244V303.9H245V303.9H246V303.9H247V303.9H248V303.9H249V303.9H250V303.9H251V303.9H252V303.9H253V303.9H254V303.9H255V303.9H256V303.9H257V303.9H258V303.9H259V303.9H260V303.9H261V303.9H262V303.9H263V303.9H264V303.9H265V303.9H266V303.9H267V303.9H268V303.9H269V303.9H270V303.9H271V303.9H272V303.9H273V303.9H274V303.9H275V303.9H276V303.9H277V303.9H278V303.9H279V303.9H280V303.9H281V303.9H282V303.9H283V303.6H284V303.5H285V303.4H286V303.2H287V303.1H288V302.9H289V302.7H290V302.5H291V301.9H292V301.2H293V300.8H294V300.1H295V299.1H296V297.9H297V296.5H298V294.4H299V292.7H300V289.7H301V287H302V282.5H303V279.2H304V273.2H305V267.1H306V260.6H307V259.1H308V251.8H309V248.3H310V236.8H311V238.3H312V240.9H313V237.9H314V242.1H315V241.2H316V235.7H317V241.5H318V247.7H319V248.6H320V252.4H321V256H322V259.8H323V263.8H324V269.6H325V273H326V277.1H327V282.6H328V286H329V288.6H330V291.6H331V293.5H332V296.2H333V298.3H334V300.3H335V301.4H336V301.8H337V302.3H338V302.7H339V303.1H340V303.4H341V303.6H342V303.9H343V303.9H344V303.9H345V303.9H346V303.9H347V303.9H348V303.9H349V303.9H350V303.9H351V303.9H352V303.9H353V303.9H354V303.9H355V303.9H356V303.9H357V303.9H358V303.9H359V303.9H360V303.9H361V303.9H362V303.9H363V303.9H364V303.9H365V303.9H366V303.9H367V303.9Z" fill="#000"/>
<rect x="98.5" y="323.5" width="125" height="69" fill="none" stroke="#333" stroke-width="1"/>
<line x1="97" y1="392" x2="98.8" y2="392" stroke="#333" stroke-width="0.8" />
<line x1="97" y1="387.9" x2="98.8" y2="387.9" stroke="#333" stroke-width="0.8" />
<line x1="97" y1="383.9" x2="98.8" y2="383.9" stroke="#333" stroke-width="0.8" />
<line x1="97" y1="379.8" x2="98.8" y2="379.8" stroke="#333" stroke-width="0.8" />
<line x1="97" y1="375.7" x2="98.8" y2="375.7" stroke="#333" stroke-width="0.8" />
<line x1="97" y1="371.6" x2="98.8" y2="371.6" stroke="#333" stroke-width="0.8" />
<line x1="97" y1="367.6" x2="98.8" y2="367.6" stroke="#333" stroke-width="0.8" />
<line x1="97" y1="363.5" x2="98.8" y2="363.5" stroke="#333" stroke-width="0.8" />
<line x1="97" y1="359.4" x2="98.8" y2="359.4" stroke="#333" stroke-width="0.8" />
<line x1="97" y1="355.3" x2="98.8" y2="355.3" stroke="#333" stroke-width="0.8" />
<line x1="97" y1="351.2" x2="98.8" y2="351.2" stroke="#333" stroke-width="0.8" />
<line x1="97" y1="347.2" x2="98.8" y2="347.2" stroke="#333" stroke-width="0.8" />
<line x1="97" y1="343.1" x2="98.8" y2="343.1" stroke="#333" stroke-width="0.8" />
<line x1="97" y1="339" x2="98.8" y2="339" stroke="#333" stroke-width="0.8" />
<line x1="97" y1="334.9" x2="98.8" y2="334.9" stroke="#333" stroke-width="0.8" />
<line x1="97" y1="330.9" x2="98.8" y2="330.9" stroke="#333" stroke-width="0.8" />
<line x1="97" y1="326.8" x2="98.8" y2="326.8" stroke="#333" stroke-width="0.8" />
<line x1="100.5" y1="392" x2="100.5" y2="393.8" stroke="#333" stroke-width="0.8" />
<line x1="104.4" y1="392" x2="104.4" y2="393.8" stroke="#333" stroke-width="0.8" />
<line x1="107.4" y1="392" x2="107.4" y2="393.8" stroke="#333" stroke-width="0.8" />
<line x1="109.9" y1="392" x2="109.9" y2="393.8" stroke="#333" stroke-width="0.8" />
<line x1="112" y1="392" x2="112" y2="393.8" stroke="#333" stroke-width="0.8" />
<line x1="113.8" y1="392" x2="113.8" y2="393.8" stroke="#333" stroke-width="0.8" />
<line x1="115.4" y1="392" x2="115.4" y2="393.8" stroke="#333" stroke-width="0.8" />
<line x1="116.8" y1="392" x2="116.8" y2="394.6" stroke="#333" stroke-width="0.8" />
<line x1="126.2" y1="392" x2="126.2" y2="393.8" stroke="#333" stroke-width="0.8" />
<line x1="131.7" y1="392" x2="131.7" y2="393.8" stroke="#333" stroke-width="0.8" />
<line x1="135.6" y1="392" x2="135.6" y2="393.8" stroke="#333" stroke-width="0.8" />
<line x1="138.6" y1="392" x2="138.6" y2="393.8" stroke="#333" stroke-width="0.8" />
<line x1="141.1" y1="392" x2="141.1" y2="393.8" stroke="#333" stroke-width="0.8" />
<line x1="143.2" y1="392" x2="143.2" y2="393.8" stroke="#333" stroke-width="0.8" />
<line x1="145" y1="392" x2="145" y2="393.8" stroke="#333" stroke-width="0.8" />
<line x1="146.6" y1="392" x2="146.6" y2="393.8" stroke="#333" stroke-width="0.8" />
<line x1="148" y1="392" x2="148" y2="394.6" stroke="#333" stroke-width="0.8" />
<line x1="157.4" y1="392" x2="157.4" y2="393.8" stroke="#333" stroke-width="0.8" />
<line x1="162.9" y1="392" x2="162.9" y2="393.8" stroke="#333" stroke-width="0.8" />
<line x1="166.8" y1="392" x2="166.8" y2="393.8" stroke="#333" stroke-width="0.8" />
<line x1="169.8" y1="392" x2="169.8" y2="393.8" stroke="#333" stroke-width="0.8" />
<line x1="172.3" y1="392" x2="172.3" y2="393.8" stroke="#333" stroke-width="0.8" />
<line x1="174.4" y1="392" x2="174.4" y2="393.8" stroke="#333" stroke-width="0.8" />
<line x1="176.2" y1="392" x2="176.2" y2="393.8" stroke="#333" stroke-width="0.8" />
<line x1="177.8" y1="392" x2="177.8" y2="393.8" stroke="#333" stroke-width="0.8" />
<line x1="179.2" y1="392" x2="179.2" y2="394.6" stroke="#333" stroke-width="0.8" />
<line x1="188.6" y1="392" x2="188.6" y2="393.8" stroke="#333" stroke-width="0.8" />
<line x1="194.1" y1="392" x2="194.1" y2="393.8" stroke="#333" stroke-width="0.8" />
<line x1="198" y1="392" x2="198" y2="393.8" stroke="#333" stroke-width="0.8" />
<line x1="201" y1="392" x2="201" y2="393.8" stroke="#333" stroke-width="0.8" />
<line x1="203.5" y1="392" x2="203.5" y2="393.8" stroke="#333" stroke-width="0.8" />
<line x1="205.6" y1="392" x2="205.6" y2="393.8" stroke="#333" stroke-width="0.8" />
<line x1="207.4" y1="392" x2="207.4" y2="393.8" stroke="#333" stroke-width="0.8" />
<line x1="209" y1="392" x2="209" y2="393.8" stroke="#333" stroke-width="0.8" />
<line x1="210.4" y1="392" x2="210.4" y2="394.6" stroke="#333" stroke-width="0.8" />
<line x1="219.8" y1="392" x2="219.8" y2="393.8" stroke="#333" stroke-width="0.8" />
<text x="116.8" y="400" font-size="4.4" font-family="Liberation Sans" fill="#333" text-anchor="middle">10<tspan dy="-1.7" font-size="3.2">2</tspan></text>
<text x="148" y="400" font-size="4.4" font-family="Liberation Sans" fill="#333" text-anchor="middle">10<tspan dy="-1.7" font-size="3.2">3</tspan></text>
<text x="179.2" y="400" font-size="4.4" font-family="Liberation Sans" fill="#333" text-anchor="middle">10<tspan dy="-1.7" font-size="3.2">4</tspan></text>
<text x="210.4" y="400" font-size="4.4" font-family="Liberation Sans" fill="#333" text-anchor="middle">10<tspan dy="-1.7" font-size="3.2">5</tspan></text>
<text x="89.4" y="358.9" font-size="5" font-family="Liberation Sans" fill="#222" text-anchor="middle" transform="rotate(-90 89.4 358.9)">Count</text>
<text x="95.6" y="392" font-size="3.6" font-family="Liberation Sans" fill="#444" text-anchor="middle" transform="rotate(-90 95.6 392)">0</text>
<text x="95.6" y="375.7" font-size="3.6" font-family="Liberation Sans" fill="#444" text-anchor="middle" transform="rotate(-90 95.6 375.7)">50</text>
<text x="95.6" y="359.4" font-size="3.6" font-family="Liberation Sans" fill="#444" text-anchor="middle" transform="rotate(-90 95.6 359.4)">100</text>
<text x="95.6" y="343.1" font-size="3.6" font-family="Liberation Sans" fill="#444" text-anchor="middle" transform="rotate(-90 95.6 343.1)">150</text>
<text x="95.6" y="326.8" font-size="3.6" font-family="Liberation Sans" fill="#444" text-anchor="middle" transform="rotate(-90 95.6 326.8)">200</text>
<path d="M99.3 392V387.3H100.3V391H101.3V391H102.3V390.7H103.3V390.2H104.3V389.7H105.3V389.1H106.3V388.5H107.3V388.1H108.3V387.6H109.3V387.9H110.3V387.5H111.3V386.9H112.3V386.8H113.3V385.7H114.3V381.8H115.3V378.3H116.3V375H117.3V372.2H118.3V366.9H119.3V364.3H120.3V358.5H121.3V352.3H122.3V345.3H123.3V344.5H124.3V336.4H125.3V333H126.3V324.3H127.3V324.9H128.3V330H129.3V326.8H130.3V330.2H131.3V327.8H132.3V324.3H133.3V324.3H134.3V330.4H135.3V329.4H136.3V332H137.3V334.2H138.3V335.3H139.3V336.3H140.3V340.1H141.3V340.4H142.3V343.6H143.3V350.1H144.3V352.3H145.3V354.3H146.3V357.4H147.3V356.4H148.3V360.9H149.3V363.3H150.3V364.5H151.3V366.3H152.3V368.4H153.3V371.1H154.3V373.7H155.3V374.7H156.3V376.3H157.3V376.7H158.3V378.4H159.3V380.1H160.3V382H161.3V383H162.3V384.6H163.3V385.8H164.3V386.7H165.3V387.5H166.3V388.3H167.3V388.5H168.3V389.1H169.3V389.8H170.3V390.4H171.3V390.6H172.3V390.8H173.3V391H174.3V391.2H175.3V391.4H176.3V391.6H177.3V391.7H178.3V391.8H179.3V391.9H180.3V392H181.3V392H182.3V392H183.3V392H184.3V392H185.3V392H186.3V392H187.3V392H188.3V392H189.3V392H190.3V392H191.3V392H192.3V392H193.3V392H194.3V392H195.3V392H196.3V392H197.3V392H198.3V392H199.3V392H200.3V392H201.3V392H202.3V392H203.3V392H204.3V392H205.3V392H206.3V392H207.3V392H208.3V392H209.3V392H210.3V392H211.3V392H212.3V392H213.3V392H214.3V392H215.3V392H216.3V392H217.3V392H218.3V392H219.3V392H220.3V392H221.3V392H222.3V392H223.3V392Z" fill="#000"/>
<rect x="241.5" y="324.5" width="125" height="69" fill="none" stroke="#333" stroke-width="1"/>
<line x1="240" y1="393.4" x2="241.8" y2="393.4" stroke="#333" stroke-width="0.8" />
<line x1="240" y1="389.3" x2="241.8" y2="389.3" stroke="#333" stroke-width="0.8" />
<line x1="240" y1="385.2" x2="241.8" y2="385.2" stroke="#333" stroke-width="0.8" />
<line x1="240" y1="381.1" x2="241.8" y2="381.1" stroke="#333" stroke-width="0.8" />
<line x1="240" y1="376.9" x2="241.8" y2="376.9" stroke="#333" stroke-width="0.8" />
<line x1="240" y1="372.8" x2="241.8" y2="372.8" stroke="#333" stroke-width="0.8" />
<line x1="240" y1="368.7" x2="241.8" y2="368.7" stroke="#333" stroke-width="0.8" />
<line x1="240" y1="364.6" x2="241.8" y2="364.6" stroke="#333" stroke-width="0.8" />
<line x1="240" y1="360.5" x2="241.8" y2="360.5" stroke="#333" stroke-width="0.8" />
<line x1="240" y1="356.4" x2="241.8" y2="356.4" stroke="#333" stroke-width="0.8" />
<line x1="240" y1="352.3" x2="241.8" y2="352.3" stroke="#333" stroke-width="0.8" />
<line x1="240" y1="348.2" x2="241.8" y2="348.2" stroke="#333" stroke-width="0.8" />
<line x1="240" y1="344.1" x2="241.8" y2="344.1" stroke="#333" stroke-width="0.8" />
<line x1="240" y1="339.9" x2="241.8" y2="339.9" stroke="#333" stroke-width="0.8" />
<line x1="240" y1="335.8" x2="241.8" y2="335.8" stroke="#333" stroke-width="0.8" />
<line x1="240" y1="331.7" x2="241.8" y2="331.7" stroke="#333" stroke-width="0.8" />
<line x1="240" y1="327.6" x2="241.8" y2="327.6" stroke="#333" stroke-width="0.8" />
<line x1="243.5" y1="393.4" x2="243.5" y2="395.2" stroke="#333" stroke-width="0.8" />
<line x1="247.4" y1="393.4" x2="247.4" y2="395.2" stroke="#333" stroke-width="0.8" />
<line x1="250.5" y1="393.4" x2="250.5" y2="395.2" stroke="#333" stroke-width="0.8" />
<line x1="253" y1="393.4" x2="253" y2="395.2" stroke="#333" stroke-width="0.8" />
<line x1="255.1" y1="393.4" x2="255.1" y2="395.2" stroke="#333" stroke-width="0.8" />
<line x1="256.9" y1="393.4" x2="256.9" y2="395.2" stroke="#333" stroke-width="0.8" />
<line x1="258.5" y1="393.4" x2="258.5" y2="395.2" stroke="#333" stroke-width="0.8" />
<line x1="259.9" y1="393.4" x2="259.9" y2="396" stroke="#333" stroke-width="0.8" />
<line x1="269.4" y1="393.4" x2="269.4" y2="395.2" stroke="#333" stroke-width="0.8" />
<line x1="274.9" y1="393.4" x2="274.9" y2="395.2" stroke="#333" stroke-width="0.8" />
<line x1="278.8" y1="393.4" x2="278.8" y2="395.2" stroke="#333" stroke-width="0.8" />
<line x1="281.9" y1="393.4" x2="281.9" y2="395.2" stroke="#333" stroke-width="0.8" />
<line x1="284.4" y1="393.4" x2="284.4" y2="395.2" stroke="#333" stroke-width="0.8" />
<line x1="286.5" y1="393.4" x2="286.5" y2="395.2" stroke="#333" stroke-width="0.8" />
<line x1="288.3" y1="393.4" x2="288.3" y2="395.2" stroke="#333" stroke-width="0.8" />
<line x1="289.9" y1="393.4" x2="289.9" y2="395.2" stroke="#333" stroke-width="0.8" />
<line x1="291.3" y1="393.4" x2="291.3" y2="396" stroke="#333" stroke-width="0.8" />
<line x1="300.8" y1="393.4" x2="300.8" y2="395.2" stroke="#333" stroke-width="0.8" />
<line x1="306.3" y1="393.4" x2="306.3" y2="395.2" stroke="#333" stroke-width="0.8" />
<line x1="310.2" y1="393.4" x2="310.2" y2="395.2" stroke="#333" stroke-width="0.8" />
<line x1="313.3" y1="393.4" x2="313.3" y2="395.2" stroke="#333" stroke-width="0.8" />
<line x1="315.8" y1="393.4" x2="315.8" y2="395.2" stroke="#333" stroke-width="0.8" />
<line x1="317.9" y1="393.4" x2="317.9" y2="395.2" stroke="#333" stroke-width="0.8" />
<line x1="319.7" y1="393.4" x2="319.7" y2="395.2" stroke="#333" stroke-width="0.8" />
<line x1="321.3" y1="393.4" x2="321.3" y2="395.2" stroke="#333" stroke-width="0.8" />
<line x1="322.7" y1="393.4" x2="322.7" y2="396" stroke="#333" stroke-width="0.8" />
<line x1="332.2" y1="393.4" x2="332.2" y2="395.2" stroke="#333" stroke-width="0.8" />
<line x1="337.7" y1="393.4" x2="337.7" y2="395.2" stroke="#333" stroke-width="0.8" />
<line x1="341.6" y1="393.4" x2="341.6" y2="395.2" stroke="#333" stroke-width="0.8" />
<line x1="344.7" y1="393.4" x2="344.7" y2="395.2" stroke="#333" stroke-width="0.8" />
<line x1="347.2" y1="393.4" x2="347.2" y2="395.2" stroke="#333" stroke-width="0.8" />
<line x1="349.3" y1="393.4" x2="349.3" y2="395.2" stroke="#333" stroke-width="0.8" />
<line x1="351.1" y1="393.4" x2="351.1" y2="395.2" stroke="#333" stroke-width="0.8" />
<line x1="352.7" y1="393.4" x2="352.7" y2="395.2" stroke="#333" stroke-width="0.8" />
<line x1="354.1" y1="393.4" x2="354.1" y2="396" stroke="#333" stroke-width="0.8" />
<line x1="363.6" y1="393.4" x2="363.6" y2="395.2" stroke="#333" stroke-width="0.8" />
<text x="259.9" y="401.4" font-size="4.4" font-family="Liberation Sans" fill="#333" text-anchor="middle">10<tspan dy="-1.7" font-size="3.2">2</tspan></text>
<text x="291.3" y="401.4" font-size="4.4" font-family="Liberation Sans" fill="#333" text-anchor="middle">10<tspan dy="-1.7" font-size="3.2">3</tspan></text>
<text x="322.7" y="401.4" font-size="4.4" font-family="Liberation Sans" fill="#333" text-anchor="middle">10<tspan dy="-1.7" font-size="3.2">4</tspan></text>
<text x="354.1" y="401.4" font-size="4.4" font-family="Liberation Sans" fill="#333" text-anchor="middle">10<tspan dy="-1.7" font-size="3.2">5</tspan></text>
<text x="232.4" y="360" font-size="5" font-family="Liberation Sans" fill="#222" text-anchor="middle" transform="rotate(-90 232.4 360)">Count</text>
<text x="238.6" y="393.4" font-size="3.6" font-family="Liberation Sans" fill="#444" text-anchor="middle" transform="rotate(-90 238.6 393.4)">0</text>
<text x="238.6" y="376.9" font-size="3.6" font-family="Liberation Sans" fill="#444" text-anchor="middle" transform="rotate(-90 238.6 376.9)">50</text>
<text x="238.6" y="360.5" font-size="3.6" font-family="Liberation Sans" fill="#444" text-anchor="middle" transform="rotate(-90 238.6 360.5)">100</text>
<text x="238.6" y="344.1" font-size="3.6" font-family="Liberation Sans" fill="#444" text-anchor="middle" transform="rotate(-90 238.6 344.1)">150</text>
<text x="238.6" y="327.6" font-size="3.6" font-family="Liberation Sans" fill="#444" text-anchor="middle" transform="rotate(-90 238.6 327.6)">200</text>
<path d="M242.3 393.4V393.4H243.3V393.4H244.3V393.4H245.3V393.4H246.3V393.4H247.3V393.4H248.3V393.4H249.3V393.4H250.3V393.4H251.3V393.4H252.3V393.4H253.3V393.4H254.3V393.4H255.3V393.4H256.3V393.4H257.3V393.4H258.3V393.4H259.3V393.4H260.3V393.4H261.3V393.4H262.3V393.4H263.3V393.4H264.3V393.4H265.3V393.4H266.3V393.4H267.3V393.4H268.3V393.4H269.3V393.4H270.3V393.4H271.3V393.4H272.3V393.4H273.3V393.4H274.3V393.4H275.3V393.4H276.3V393.4H277.3V393.4H278.3V393.4H279.3V393.4H280.3V393.1H281.3V393H282.3V392.7H283.3V392.6H284.3V392.5H285.3V392.3H286.3V392.1H287.3V391.8H288.3V391H289.3V390.6H290.3V389.2H291.3V389H292.3V388.2H293.3V386.5H294.3V383.8H295.3V382.4H296.3V379.6H297.3V376.9H298.3V371.6H299.3V367.1H300.3V367.2H301.3V364.2H302.3V358.8H303.3V357H304.3V352.8H305.3V347.1H306.3V339.5H307.3V333.4H308.3V337.2H309.3V328.9H310.3V334.9H311.3V327.9H312.3V326.9H313.3V325.1H314.3V328.4H315.3V325.1H316.3V332H317.3V327.1H318.3V329.6H319.3V335.8H320.3V343.1H321.3V349.1H322.3V348.4H323.3V353H324.3V355.1H325.3V361.8H326.3V365.5H327.3V370.7H328.3V374.6H329.3V379.1H330.3V380.8H331.3V382.7H332.3V385.1H333.3V386.6H334.3V388.7H335.3V390.3H336.3V391.4H337.3V391.5H338.3V391.9H339.3V392.1H340.3V392.4H341.3V392.6H342.3V392.9H343.3V393H344.3V393.3H345.3V393.4H346.3V393.4H347.3V393.4H348.3V393.4H349.3V393.4H350.3V393.4H351.3V393.4H352.3V393.4H353.3V393.4H354.3V393.4H355.3V393.4H356.3V393.4H357.3V393.4H358.3V393.4H359.3V393.4H360.3V393.4H361.3V393.4H362.3V393.4H363.3V393.4H364.3V393.4H365.3V393.4H366.3V393.4H367.3V393.4Z" fill="#000"/>
<rect x="98.5" y="413.5" width="124" height="69" fill="none" stroke="#333" stroke-width="1"/>
<line x1="96.4" y1="482.3" x2="98.2" y2="482.3" stroke="#333" stroke-width="0.8" />
<line x1="96.4" y1="478.2" x2="98.2" y2="478.2" stroke="#333" stroke-width="0.8" />
<line x1="96.4" y1="474.1" x2="98.2" y2="474.1" stroke="#333" stroke-width="0.8" />
<line x1="96.4" y1="470" x2="98.2" y2="470" stroke="#333" stroke-width="0.8" />
<line x1="96.4" y1="465.9" x2="98.2" y2="465.9" stroke="#333" stroke-width="0.8" />
<line x1="96.4" y1="461.8" x2="98.2" y2="461.8" stroke="#333" stroke-width="0.8" />
<line x1="96.4" y1="457.7" x2="98.2" y2="457.7" stroke="#333" stroke-width="0.8" />
<line x1="96.4" y1="453.6" x2="98.2" y2="453.6" stroke="#333" stroke-width="0.8" />
<line x1="96.4" y1="449.5" x2="98.2" y2="449.5" stroke="#333" stroke-width="0.8" />
<line x1="96.4" y1="445.3" x2="98.2" y2="445.3" stroke="#333" stroke-width="0.8" />
<line x1="96.4" y1="441.2" x2="98.2" y2="441.2" stroke="#333" stroke-width="0.8" />
<line x1="96.4" y1="437.1" x2="98.2" y2="437.1" stroke="#333" stroke-width="0.8" />
<line x1="96.4" y1="433" x2="98.2" y2="433" stroke="#333" stroke-width="0.8" />
<line x1="96.4" y1="428.9" x2="98.2" y2="428.9" stroke="#333" stroke-width="0.8" />
<line x1="96.4" y1="424.8" x2="98.2" y2="424.8" stroke="#333" stroke-width="0.8" />
<line x1="96.4" y1="420.7" x2="98.2" y2="420.7" stroke="#333" stroke-width="0.8" />
<line x1="96.4" y1="416.6" x2="98.2" y2="416.6" stroke="#333" stroke-width="0.8" />
<line x1="99.9" y1="482.3" x2="99.9" y2="484.1" stroke="#333" stroke-width="0.8" />
<line x1="103.8" y1="482.3" x2="103.8" y2="484.1" stroke="#333" stroke-width="0.8" />
<line x1="106.8" y1="482.3" x2="106.8" y2="484.1" stroke="#333" stroke-width="0.8" />
<line x1="109.3" y1="482.3" x2="109.3" y2="484.1" stroke="#333" stroke-width="0.8" />
<line x1="111.4" y1="482.3" x2="111.4" y2="484.1" stroke="#333" stroke-width="0.8" />
<line x1="113.2" y1="482.3" x2="113.2" y2="484.1" stroke="#333" stroke-width="0.8" />
<line x1="114.8" y1="482.3" x2="114.8" y2="484.1" stroke="#333" stroke-width="0.8" />
<line x1="116.2" y1="482.3" x2="116.2" y2="484.9" stroke="#333" stroke-width="0.8" />
<line x1="125.6" y1="482.3" x2="125.6" y2="484.1" stroke="#333" stroke-width="0.8" />
<line x1="131.1" y1="482.3" x2="131.1" y2="484.1" stroke="#333" stroke-width="0.8" />
<line x1="135" y1="482.3" x2="135" y2="484.1" stroke="#333" stroke-width="0.8" />
<line x1="138.1" y1="482.3" x2="138.1" y2="484.1" stroke="#333" stroke-width="0.8" />
<line x1="140.5" y1="482.3" x2="140.5" y2="484.1" stroke="#333" stroke-width="0.8" />
<line x1="142.6" y1="482.3" x2="142.6" y2="484.1" stroke="#333" stroke-width="0.8" />
<line x1="144.4" y1="482.3" x2="144.4" y2="484.1" stroke="#333" stroke-width="0.8" />
<line x1="146" y1="482.3" x2="146" y2="484.1" stroke="#333" stroke-width="0.8" />
<line x1="147.5" y1="482.3" x2="147.5" y2="484.9" stroke="#333" stroke-width="0.8" />
<line x1="156.9" y1="482.3" x2="156.9" y2="484.1" stroke="#333" stroke-width="0.8" />
<line x1="162.4" y1="482.3" x2="162.4" y2="484.1" stroke="#333" stroke-width="0.8" />
<line x1="166.3" y1="482.3" x2="166.3" y2="484.1" stroke="#333" stroke-width="0.8" />
<line x1="169.3" y1="482.3" x2="169.3" y2="484.1" stroke="#333" stroke-width="0.8" />
<line x1="171.8" y1="482.3" x2="171.8" y2="484.1" stroke="#333" stroke-width="0.8" />
<line x1="173.9" y1="482.3" x2="173.9" y2="484.1" stroke="#333" stroke-width="0.8" />
<line x1="175.7" y1="482.3" x2="175.7" y2="484.1" stroke="#333" stroke-width="0.8" />
<line x1="177.3" y1="482.3" x2="177.3" y2="484.1" stroke="#333" stroke-width="0.8" />
<line x1="178.7" y1="482.3" x2="178.7" y2="484.9" stroke="#333" stroke-width="0.8" />
<line x1="188.1" y1="482.3" x2="188.1" y2="484.1" stroke="#333" stroke-width="0.8" />
<line x1="193.6" y1="482.3" x2="193.6" y2="484.1" stroke="#333" stroke-width="0.8" />
<line x1="197.5" y1="482.3" x2="197.5" y2="484.1" stroke="#333" stroke-width="0.8" />
<line x1="200.5" y1="482.3" x2="200.5" y2="484.1" stroke="#333" stroke-width="0.8" />
<line x1="203" y1="482.3" x2="203" y2="484.1" stroke="#333" stroke-width="0.8" />
<line x1="205.1" y1="482.3" x2="205.1" y2="484.1" stroke="#333" stroke-width="0.8" />
<line x1="206.9" y1="482.3" x2="206.9" y2="484.1" stroke="#333" stroke-width="0.8" />
<line x1="208.5" y1="482.3" x2="208.5" y2="484.1" stroke="#333" stroke-width="0.8" />
<line x1="209.9" y1="482.3" x2="209.9" y2="484.9" stroke="#333" stroke-width="0.8" />
<line x1="219.3" y1="482.3" x2="219.3" y2="484.1" stroke="#333" stroke-width="0.8" />
<text x="116.2" y="490.3" font-size="4.4" font-family="Liberation Sans" fill="#333" text-anchor="middle">10<tspan dy="-1.7" font-size="3.2">2</tspan></text>
<text x="147.5" y="490.3" font-size="4.4" font-family="Liberation Sans" fill="#333" text-anchor="middle">10<tspan dy="-1.7" font-size="3.2">3</tspan></text>
<text x="178.7" y="490.3" font-size="4.4" font-family="Liberation Sans" fill="#333" text-anchor="middle">10<tspan dy="-1.7" font-size="3.2">4</tspan></text>
<text x="209.9" y="490.3" font-size="4.4" font-family="Liberation Sans" fill="#333" text-anchor="middle">10<tspan dy="-1.7" font-size="3.2">5</tspan></text>
<text x="88.8" y="449" font-size="5" font-family="Liberation Sans" fill="#222" text-anchor="middle" transform="rotate(-90 88.8 449)">Count</text>
<text x="95" y="482.3" font-size="3.6" font-family="Liberation Sans" fill="#444" text-anchor="middle" transform="rotate(-90 95 482.3)">0</text>
<text x="95" y="465.9" font-size="3.6" font-family="Liberation Sans" fill="#444" text-anchor="middle" transform="rotate(-90 95 465.9)">50</text>
<text x="95" y="449.5" font-size="3.6" font-family="Liberation Sans" fill="#444" text-anchor="middle" transform="rotate(-90 95 449.5)">100</text>
<text x="95" y="433" font-size="3.6" font-family="Liberation Sans" fill="#444" text-anchor="middle" transform="rotate(-90 95 433)">150</text>
<text x="95" y="416.6" font-size="3.6" font-family="Liberation Sans" fill="#444" text-anchor="middle" transform="rotate(-90 95 416.6)">200</text>
<path d="M98.7 482.3V480H99.7V481.2H100.7V481.5H101.7V481.5H102.7V481.3H103.7V481.4H104.7V481.1H105.7V481.2H106.7V481H107.7V480.9H108.7V480.5H109.7V479.9H110.7V479.4H111.7V478.8H112.7V477.6H113.7V477.7H114.7V476.7H115.7V476.1H116.7V473.7H117.7V471.1H118.7V469.1H119.7V466H120.7V461.9H121.7V457.6H122.7V454.4H123.7V449.9H124.7V446.8H125.7V445.8H126.7V439.8H127.7V441.1H128.7V439.6H129.7V429.9H130.7V429.8H131.7V433.7H132.7V434.1H133.7V428.5H134.7V432.1H135.7V425.1H136.7V427.5H137.7V424.3H138.7V428.1H139.7V426.8H140.7V426.7H141.7V424.8H142.7V425.6H143.7V427.2H144.7V420.5H145.7V419.3H146.7V416.3H147.7V422.6H148.7V422.1H149.7V424.5H150.7V418H151.7V420.8H152.7V414.1H153.7V416.6H154.7V414.1H155.7V414.2H156.7V414.1H157.7V422H158.7V414.2H159.7V415.5H160.7V414.1H161.7V420.5H162.7V415.6H163.7V423H164.7V426.2H165.7V428.8H166.7V433.1H167.7V435.2H168.7V434.7H169.7V438.4H170.7V438.1H171.7V443.3H172.7V448.9H173.7V455.1H174.7V460.1H175.7V461H176.7V466.2H177.7V468.6H178.7V473.6H179.7V474.2H180.7V475.8H181.7V476.5H182.7V477.9H183.7V478.3H184.7V479.1H185.7V479.7H186.7V480.1H187.7V480.5H188.7V481.1H189.7V481.6H190.7V481.7H191.7V481.9H192.7V482H193.7V482.1H194.7V482.3H195.7V482.3H196.7V482.3H197.7V482.3H198.7V482.3H199.7V482.3H200.7V482.3H201.7V482.3H202.7V482.3H203.7V482.3H204.7V482.3H205.7V482.3H206.7V482.3H207.7V482.3H208.7V482.3H209.7V482.3H210.7V482.3H211.7V482.3H212.7V482.3H213.7V482.3H214.7V482.3H215.7V482.3H216.7V482.3H217.7V482.3H218.7V482.3H219.7V482.3H220.7V482.3H221.7V482.3H222.7V482.3Z" fill="#000"/>
<rect x="240.5" y="413.5" width="125" height="69" fill="none" stroke="#333" stroke-width="1"/>
<line x1="238.5" y1="482.4" x2="240.3" y2="482.4" stroke="#333" stroke-width="0.8" />
<line x1="238.5" y1="478.3" x2="240.3" y2="478.3" stroke="#333" stroke-width="0.8" />
<line x1="238.5" y1="474.2" x2="240.3" y2="474.2" stroke="#333" stroke-width="0.8" />
<line x1="238.5" y1="470" x2="240.3" y2="470" stroke="#333" stroke-width="0.8" />
<line x1="238.5" y1="465.9" x2="240.3" y2="465.9" stroke="#333" stroke-width="0.8" />
<line x1="238.5" y1="461.8" x2="240.3" y2="461.8" stroke="#333" stroke-width="0.8" />
<line x1="238.5" y1="457.7" x2="240.3" y2="457.7" stroke="#333" stroke-width="0.8" />
<line x1="238.5" y1="453.6" x2="240.3" y2="453.6" stroke="#333" stroke-width="0.8" />
<line x1="238.5" y1="449.4" x2="240.3" y2="449.4" stroke="#333" stroke-width="0.8" />
<line x1="238.5" y1="445.3" x2="240.3" y2="445.3" stroke="#333" stroke-width="0.8" />
<line x1="238.5" y1="441.2" x2="240.3" y2="441.2" stroke="#333" stroke-width="0.8" />
<line x1="238.5" y1="437.1" x2="240.3" y2="437.1" stroke="#333" stroke-width="0.8" />
<line x1="238.5" y1="433" x2="240.3" y2="433" stroke="#333" stroke-width="0.8" />
<line x1="238.5" y1="428.9" x2="240.3" y2="428.9" stroke="#333" stroke-width="0.8" />
<line x1="238.5" y1="424.7" x2="240.3" y2="424.7" stroke="#333" stroke-width="0.8" />
<line x1="238.5" y1="420.6" x2="240.3" y2="420.6" stroke="#333" stroke-width="0.8" />
<line x1="238.5" y1="416.5" x2="240.3" y2="416.5" stroke="#333" stroke-width="0.8" />
<line x1="242" y1="482.4" x2="242" y2="484.2" stroke="#333" stroke-width="0.8" />
<line x1="246" y1="482.4" x2="246" y2="484.2" stroke="#333" stroke-width="0.8" />
<line x1="249" y1="482.4" x2="249" y2="484.2" stroke="#333" stroke-width="0.8" />
<line x1="251.5" y1="482.4" x2="251.5" y2="484.2" stroke="#333" stroke-width="0.8" />
<line x1="253.6" y1="482.4" x2="253.6" y2="484.2" stroke="#333" stroke-width="0.8" />
<line x1="255.4" y1="482.4" x2="255.4" y2="484.2" stroke="#333" stroke-width="0.8" />
<line x1="257" y1="482.4" x2="257" y2="484.2" stroke="#333" stroke-width="0.8" />
<line x1="258.5" y1="482.4" x2="258.5" y2="485" stroke="#333" stroke-width="0.8" />
<line x1="267.9" y1="482.4" x2="267.9" y2="484.2" stroke="#333" stroke-width="0.8" />
<line x1="273.5" y1="482.4" x2="273.5" y2="484.2" stroke="#333" stroke-width="0.8" />
<line x1="277.4" y1="482.4" x2="277.4" y2="484.2" stroke="#333" stroke-width="0.8" />
<line x1="280.5" y1="482.4" x2="280.5" y2="484.2" stroke="#333" stroke-width="0.8" />
<line x1="282.9" y1="482.4" x2="282.9" y2="484.2" stroke="#333" stroke-width="0.8" />
<line x1="285" y1="482.4" x2="285" y2="484.2" stroke="#333" stroke-width="0.8" />
<line x1="286.9" y1="482.4" x2="286.9" y2="484.2" stroke="#333" stroke-width="0.8" />
<line x1="288.5" y1="482.4" x2="288.5" y2="484.2" stroke="#333" stroke-width="0.8" />
<line x1="289.9" y1="482.4" x2="289.9" y2="485" stroke="#333" stroke-width="0.8" />
<line x1="299.4" y1="482.4" x2="299.4" y2="484.2" stroke="#333" stroke-width="0.8" />
<line x1="304.9" y1="482.4" x2="304.9" y2="484.2" stroke="#333" stroke-width="0.8" />
<line x1="308.9" y1="482.4" x2="308.9" y2="484.2" stroke="#333" stroke-width="0.8" />
<line x1="311.9" y1="482.4" x2="311.9" y2="484.2" stroke="#333" stroke-width="0.8" />
<line x1="314.4" y1="482.4" x2="314.4" y2="484.2" stroke="#333" stroke-width="0.8" />
<line x1="316.5" y1="482.4" x2="316.5" y2="484.2" stroke="#333" stroke-width="0.8" />
<line x1="318.3" y1="482.4" x2="318.3" y2="484.2" stroke="#333" stroke-width="0.8" />
<line x1="319.9" y1="482.4" x2="319.9" y2="484.2" stroke="#333" stroke-width="0.8" />
<line x1="321.4" y1="482.4" x2="321.4" y2="485" stroke="#333" stroke-width="0.8" />
<line x1="330.8" y1="482.4" x2="330.8" y2="484.2" stroke="#333" stroke-width="0.8" />
<line x1="336.4" y1="482.4" x2="336.4" y2="484.2" stroke="#333" stroke-width="0.8" />
<line x1="340.3" y1="482.4" x2="340.3" y2="484.2" stroke="#333" stroke-width="0.8" />
<line x1="343.4" y1="482.4" x2="343.4" y2="484.2" stroke="#333" stroke-width="0.8" />
<line x1="345.8" y1="482.4" x2="345.8" y2="484.2" stroke="#333" stroke-width="0.8" />
<line x1="347.9" y1="482.4" x2="347.9" y2="484.2" stroke="#333" stroke-width="0.8" />
<line x1="349.8" y1="482.4" x2="349.8" y2="484.2" stroke="#333" stroke-width="0.8" />
<line x1="351.4" y1="482.4" x2="351.4" y2="484.2" stroke="#333" stroke-width="0.8" />
<line x1="352.8" y1="482.4" x2="352.8" y2="485" stroke="#333" stroke-width="0.8" />
<line x1="362.3" y1="482.4" x2="362.3" y2="484.2" stroke="#333" stroke-width="0.8" />
<text x="258.5" y="490.4" font-size="4.4" font-family="Liberation Sans" fill="#333" text-anchor="middle">10<tspan dy="-1.7" font-size="3.2">2</tspan></text>
<text x="289.9" y="490.4" font-size="4.4" font-family="Liberation Sans" fill="#333" text-anchor="middle">10<tspan dy="-1.7" font-size="3.2">3</tspan></text>
<text x="321.4" y="490.4" font-size="4.4" font-family="Liberation Sans" fill="#333" text-anchor="middle">10<tspan dy="-1.7" font-size="3.2">4</tspan></text>
<text x="352.8" y="490.4" font-size="4.4" font-family="Liberation Sans" fill="#333" text-anchor="middle">10<tspan dy="-1.7" font-size="3.2">5</tspan></text>
<text x="230.9" y="448.9" font-size="5" font-family="Liberation Sans" fill="#222" text-anchor="middle" transform="rotate(-90 230.9 448.9)">Count</text>
<text x="237.1" y="482.4" font-size="3.6" font-family="Liberation Sans" fill="#444" text-anchor="middle" transform="rotate(-90 237.1 482.4)">0</text>
<text x="237.1" y="465.9" font-size="3.6" font-family="Liberation Sans" fill="#444" text-anchor="middle" transform="rotate(-90 237.1 465.9)">50</text>
<text x="237.1" y="449.4" font-size="3.6" font-family="Liberation Sans" fill="#444" text-anchor="middle" transform="rotate(-90 237.1 449.4)">100</text>
<text x="237.1" y="433" font-size="3.6" font-family="Liberation Sans" fill="#444" text-anchor="middle" transform="rotate(-90 237.1 433)">150</text>
<text x="237.1" y="416.5" font-size="3.6" font-family="Liberation Sans" fill="#444" text-anchor="middle" transform="rotate(-90 237.1 416.5)">200</text>
<path d="M240.8 482.4V482.4H241.8V482.4H242.8V482.4H243.8V482.4H244.8V482.4H245.8V482.4H246.8V482.4H247.8V482.4H248.8V482.4H249.8V482.4H250.8V482.4H251.8V482.4H252.8V482.4H253.8V482.4H254.8V482.4H255.8V482.4H256.8V482.4H257.8V482.4H258.8V482.4H259.8V482.4H260.8V482.4H261.8V482.4H262.8V482.4H263.8V482.4H264.8V482.4H265.8V482.4H266.8V482.4H267.8V482.1H268.8V482H269.8V481.9H270.8V481.7H271.8V481.7H272.8V481.5H273.8V481.5H274.8V481.2H275.8V481.1H276.8V481H277.8V480.9H278.8V480.6H279.8V480.5H280.8V480.6H281.8V480.4H282.8V480.2H283.8V479.7H284.8V478.2H285.8V477H286.8V475.6H287.8V475.1H288.8V473.5H289.8V472.7H290.8V471.7H291.8V471.5H292.8V470.3H293.8V470.3H294.8V469.3H295.8V467.2H296.8V465.6H297.8V463.7H298.8V462.5H299.8V461H300.8V457.1H301.8V453H302.8V448.2H303.8V447.8H304.8V442.9H305.8V441.5H306.8V433.4H307.8V435.8H308.8V427.7H309.8V431.2H310.8V427.9H311.8V418.2H312.8V414H313.8V419.9H314.8V414H315.8V416.8H316.8V414.8H317.8V417.5H318.8V414.5H319.8V419.4H320.8V421.5H321.8V417.6H322.8V425.8H323.8V428.5H324.8V427.9H325.8V434.1H326.8V438.6H327.8V438.9H328.8V445.3H329.8V451.5H330.8V452.3H331.8V457H332.8V458.9H333.8V463.7H334.8V466H335.8V469.2H336.8V472.2H337.8V474H338.8V474.6H339.8V476.2H340.8V478.1H341.8V479.2H342.8V479.2H343.8V480H344.8V480.3H345.8V480.6H346.8V481.2H347.8V481.4H348.8V481.8H349.8V482.2H350.8V482.4H351.8V482.4H352.8V482.4H353.8V482.4H354.8V482.4H355.8V482.4H356.8V482.4H357.8V482.4H358.8V482.4H359.8V482.4H360.8V482.4H361.8V482.4H362.8V482.4H363.8V482.4H364.8V482.4H365.8V482.4Z" fill="#000"/>
<rect x="97.5" y="502.5" width="124" height="69" fill="none" stroke="#333" stroke-width="1"/>
<line x1="95.7" y1="571.3" x2="97.5" y2="571.3" stroke="#333" stroke-width="0.8" />
<line x1="95.7" y1="567.2" x2="97.5" y2="567.2" stroke="#333" stroke-width="0.8" />
<line x1="95.7" y1="563.1" x2="97.5" y2="563.1" stroke="#333" stroke-width="0.8" />
<line x1="95.7" y1="559" x2="97.5" y2="559" stroke="#333" stroke-width="0.8" />
<line x1="95.7" y1="554.9" x2="97.5" y2="554.9" stroke="#333" stroke-width="0.8" />
<line x1="95.7" y1="550.8" x2="97.5" y2="550.8" stroke="#333" stroke-width="0.8" />
<line x1="95.7" y1="546.7" x2="97.5" y2="546.7" stroke="#333" stroke-width="0.8" />
<line x1="95.7" y1="542.6" x2="97.5" y2="542.6" stroke="#333" stroke-width="0.8" />
<line x1="95.7" y1="538.5" x2="97.5" y2="538.5" stroke="#333" stroke-width="0.8" />
<line x1="95.7" y1="534.3" x2="97.5" y2="534.3" stroke="#333" stroke-width="0.8" />
<line x1="95.7" y1="530.2" x2="97.5" y2="530.2" stroke="#333" stroke-width="0.8" />
<line x1="95.7" y1="526.1" x2="97.5" y2="526.1" stroke="#333" stroke-width="0.8" />
<line x1="95.7" y1="522" x2="97.5" y2="522" stroke="#333" stroke-width="0.8" />
<line x1="95.7" y1="517.9" x2="97.5" y2="517.9" stroke="#333" stroke-width="0.8" />
<line x1="95.7" y1="513.8" x2="97.5" y2="513.8" stroke="#333" stroke-width="0.8" />
<line x1="95.7" y1="509.7" x2="97.5" y2="509.7" stroke="#333" stroke-width="0.8" />
<line x1="95.7" y1="505.6" x2="97.5" y2="505.6" stroke="#333" stroke-width="0.8" />
<line x1="99.2" y1="571.3" x2="99.2" y2="573.1" stroke="#333" stroke-width="0.8" />
<line x1="103.1" y1="571.3" x2="103.1" y2="573.1" stroke="#333" stroke-width="0.8" />
<line x1="106.1" y1="571.3" x2="106.1" y2="573.1" stroke="#333" stroke-width="0.8" />
<line x1="108.6" y1="571.3" x2="108.6" y2="573.1" stroke="#333" stroke-width="0.8" />
<line x1="110.7" y1="571.3" x2="110.7" y2="573.1" stroke="#333" stroke-width="0.8" />
<line x1="112.5" y1="571.3" x2="112.5" y2="573.1" stroke="#333" stroke-width="0.8" />
<line x1="114.1" y1="571.3" x2="114.1" y2="573.1" stroke="#333" stroke-width="0.8" />
<line x1="115.5" y1="571.3" x2="115.5" y2="573.9" stroke="#333" stroke-width="0.8" />
<line x1="124.9" y1="571.3" x2="124.9" y2="573.1" stroke="#333" stroke-width="0.8" />
<line x1="130.4" y1="571.3" x2="130.4" y2="573.1" stroke="#333" stroke-width="0.8" />
<line x1="134.3" y1="571.3" x2="134.3" y2="573.1" stroke="#333" stroke-width="0.8" />
<line x1="137.4" y1="571.3" x2="137.4" y2="573.1" stroke="#333" stroke-width="0.8" />
<line x1="139.8" y1="571.3" x2="139.8" y2="573.1" stroke="#333" stroke-width="0.8" />
<line x1="141.9" y1="571.3" x2="141.9" y2="573.1" stroke="#333" stroke-width="0.8" />
<line x1="143.7" y1="571.3" x2="143.7" y2="573.1" stroke="#333" stroke-width="0.8" />
<line x1="145.3" y1="571.3" x2="145.3" y2="573.1" stroke="#333" stroke-width="0.8" />
<line x1="146.8" y1="571.3" x2="146.8" y2="573.9" stroke="#333" stroke-width="0.8" />
<line x1="156.2" y1="571.3" x2="156.2" y2="573.1" stroke="#333" stroke-width="0.8" />
<line x1="161.7" y1="571.3" x2="161.7" y2="573.1" stroke="#333" stroke-width="0.8" />
<line x1="165.6" y1="571.3" x2="165.6" y2="573.1" stroke="#333" stroke-width="0.8" />
<line x1="168.6" y1="571.3" x2="168.6" y2="573.1" stroke="#333" stroke-width="0.8" />
<line x1="171.1" y1="571.3" x2="171.1" y2="573.1" stroke="#333" stroke-width="0.8" />
<line x1="173.2" y1="571.3" x2="173.2" y2="573.1" stroke="#333" stroke-width="0.8" />
<line x1="175" y1="571.3" x2="175" y2="573.1" stroke="#333" stroke-width="0.8" />
<line x1="176.6" y1="571.3" x2="176.6" y2="573.1" stroke="#333" stroke-width="0.8" />
<line x1="178" y1="571.3" x2="178" y2="573.9" stroke="#333" stroke-width="0.8" />
<line x1="187.4" y1="571.3" x2="187.4" y2="573.1" stroke="#333" stroke-width="0.8" />
<line x1="192.9" y1="571.3" x2="192.9" y2="573.1" stroke="#333" stroke-width="0.8" />
<line x1="196.8" y1="571.3" x2="196.8" y2="573.1" stroke="#333" stroke-width="0.8" />
<line x1="199.8" y1="571.3" x2="199.8" y2="573.1" stroke="#333" stroke-width="0.8" />
<line x1="202.3" y1="571.3" x2="202.3" y2="573.1" stroke="#333" stroke-width="0.8" />
<line x1="204.4" y1="571.3" x2="204.4" y2="573.1" stroke="#333" stroke-width="0.8" />
<line x1="206.2" y1="571.3" x2="206.2" y2="573.1" stroke="#333" stroke-width="0.8" />
<line x1="207.8" y1="571.3" x2="207.8" y2="573.1" stroke="#333" stroke-width="0.8" />
<line x1="209.2" y1="571.3" x2="209.2" y2="573.9" stroke="#333" stroke-width="0.8" />
<line x1="218.6" y1="571.3" x2="218.6" y2="573.1" stroke="#333" stroke-width="0.8" />
<text x="115.5" y="579.3" font-size="4.4" font-family="Liberation Sans" fill="#333" text-anchor="middle">10<tspan dy="-1.7" font-size="3.2">2</tspan></text>
<text x="146.8" y="579.3" font-size="4.4" font-family="Liberation Sans" fill="#333" text-anchor="middle">10<tspan dy="-1.7" font-size="3.2">3</tspan></text>
<text x="178" y="579.3" font-size="4.4" font-family="Liberation Sans" fill="#333" text-anchor="middle">10<tspan dy="-1.7" font-size="3.2">4</tspan></text>
<text x="209.2" y="579.3" font-size="4.4" font-family="Liberation Sans" fill="#333" text-anchor="middle">10<tspan dy="-1.7" font-size="3.2">5</tspan></text>
<text x="88.1" y="538" font-size="5" font-family="Liberation Sans" fill="#222" text-anchor="middle" transform="rotate(-90 88.1 538)">Count</text>
<text x="94.3" y="571.3" font-size="3.6" font-family="Liberation Sans" fill="#444" text-anchor="middle" transform="rotate(-90 94.3 571.3)">0</text>
<text x="94.3" y="554.9" font-size="3.6" font-family="Liberation Sans" fill="#444" text-anchor="middle" transform="rotate(-90 94.3 554.9)">50</text>
<text x="94.3" y="538.5" font-size="3.6" font-family="Liberation Sans" fill="#444" text-anchor="middle" transform="rotate(-90 94.3 538.5)">100</text>
<text x="94.3" y="522" font-size="3.6" font-family="Liberation Sans" fill="#444" text-anchor="middle" transform="rotate(-90 94.3 522)">150</text>
<text x="94.3" y="505.6" font-size="3.6" font-family="Liberation Sans" fill="#444" text-anchor="middle" transform="rotate(-90 94.3 505.6)">200</text>
<path d="M98 571.3V569.4H99V569.7H100V570.6H101V570.6H102V570.6H103V570.6H104V570.5H105V570.6H106V570.6H107V570.6H108V570.6H109V570H110V569.6H111V568.6H112V568.7H113V567.8H114V567.1H115V566.2H116V565H117V562.8H118V561.6H119V558.9H120V556.8H121V555.2H122V555.7H123V550.6H124V547.1H125V547.7H126V543.5H127V544H128V539.2H129V537.1H130V531.7H131V531.5H132V525.9H133V530.9H134V522.6H135V525.6H136V522.7H137V524.3H138V522.4H139V520.9H140V515.1H141V513.7H142V514.6H143V517.9H144V513.4H145V506.3H146V512.5H147V512.3H148V506.7H149V509.8H150V506.7H151V508.4H152V505.1H153V503.1H154V503.1H155V504.8H156V511.4H157V510.5H158V511.6H159V511.9H160V507.5H161V509.9H162V507.8H163V514.3H164V509.8H165V518.8H166V521.6H167V523.2H168V521.9H169V527.5H170V532H171V529.4H172V532.2H173V533.3H174V542.9H175V545.8H176V545.4H177V547.2H178V549.7H179V554.3H180V556.8H181V558.9H182V561H183V562.3H184V564.6H185V566.3H186V566.1H187V567.4H188V567.3H189V568.1H190V568.6H191V569.6H192V570.1H193V570.6H194V570.8H195V570.9H196V571.1H197V571.3H198V571.3H199V571.3H200V571.3H201V571.3H202V571.3H203V571.3H204V571.3H205V571.3H206V571.3H207V571.3H208V571.3H209V571.3H210V571.3H211V571.3H212V571.3H213V571.3H214V571.3H215V571.3H216V571.3H217V571.3H218V571.3H219V571.3H220V571.3H221V571.3H222V571.3Z" fill="#000"/>
<rect x="240.5" y="502.5" width="125" height="70" fill="none" stroke="#333" stroke-width="1"/>
<line x1="238.4" y1="572" x2="240.2" y2="572" stroke="#333" stroke-width="0.8" />
<line x1="238.4" y1="567.9" x2="240.2" y2="567.9" stroke="#333" stroke-width="0.8" />
<line x1="238.4" y1="563.7" x2="240.2" y2="563.7" stroke="#333" stroke-width="0.8" />
<line x1="238.4" y1="559.5" x2="240.2" y2="559.5" stroke="#333" stroke-width="0.8" />
<line x1="238.4" y1="555.4" x2="240.2" y2="555.4" stroke="#333" stroke-width="0.8" />
<line x1="238.4" y1="551.2" x2="240.2" y2="551.2" stroke="#333" stroke-width="0.8" />
<line x1="238.4" y1="547.1" x2="240.2" y2="547.1" stroke="#333" stroke-width="0.8" />
<line x1="238.4" y1="543" x2="240.2" y2="543" stroke="#333" stroke-width="0.8" />
<line x1="238.4" y1="538.8" x2="240.2" y2="538.8" stroke="#333" stroke-width="0.8" />
<line x1="238.4" y1="534.6" x2="240.2" y2="534.6" stroke="#333" stroke-width="0.8" />
<line x1="238.4" y1="530.5" x2="240.2" y2="530.5" stroke="#333" stroke-width="0.8" />
<line x1="238.4" y1="526.4" x2="240.2" y2="526.4" stroke="#333" stroke-width="0.8" />
<line x1="238.4" y1="522.2" x2="240.2" y2="522.2" stroke="#333" stroke-width="0.8" />
<line x1="238.4" y1="518.1" x2="240.2" y2="518.1" stroke="#333" stroke-width="0.8" />
<line x1="238.4" y1="513.9" x2="240.2" y2="513.9" stroke="#333" stroke-width="0.8" />
<line x1="238.4" y1="509.8" x2="240.2" y2="509.8" stroke="#333" stroke-width="0.8" />
<line x1="238.4" y1="505.6" x2="240.2" y2="505.6" stroke="#333" stroke-width="0.8" />
<line x1="241.9" y1="572" x2="241.9" y2="573.8" stroke="#333" stroke-width="0.8" />
<line x1="245.8" y1="572" x2="245.8" y2="573.8" stroke="#333" stroke-width="0.8" />
<line x1="248.9" y1="572" x2="248.9" y2="573.8" stroke="#333" stroke-width="0.8" />
<line x1="251.3" y1="572" x2="251.3" y2="573.8" stroke="#333" stroke-width="0.8" />
<line x1="253.4" y1="572" x2="253.4" y2="573.8" stroke="#333" stroke-width="0.8" />
<line x1="255.3" y1="572" x2="255.3" y2="573.8" stroke="#333" stroke-width="0.8" />
<line x1="256.9" y1="572" x2="256.9" y2="573.8" stroke="#333" stroke-width="0.8" />
<line x1="258.3" y1="572" x2="258.3" y2="574.6" stroke="#333" stroke-width="0.8" />
<line x1="267.7" y1="572" x2="267.7" y2="573.8" stroke="#333" stroke-width="0.8" />
<line x1="273.2" y1="572" x2="273.2" y2="573.8" stroke="#333" stroke-width="0.8" />
<line x1="277.2" y1="572" x2="277.2" y2="573.8" stroke="#333" stroke-width="0.8" />
<line x1="280.2" y1="572" x2="280.2" y2="573.8" stroke="#333" stroke-width="0.8" />
<line x1="282.7" y1="572" x2="282.7" y2="573.8" stroke="#333" stroke-width="0.8" />
<line x1="284.8" y1="572" x2="284.8" y2="573.8" stroke="#333" stroke-width="0.8" />
<line x1="286.6" y1="572" x2="286.6" y2="573.8" stroke="#333" stroke-width="0.8" />
<line x1="288.2" y1="572" x2="288.2" y2="573.8" stroke="#333" stroke-width="0.8" />
<line x1="289.6" y1="572" x2="289.6" y2="574.6" stroke="#333" stroke-width="0.8" />
<line x1="299.1" y1="572" x2="299.1" y2="573.8" stroke="#333" stroke-width="0.8" />
<line x1="304.6" y1="572" x2="304.6" y2="573.8" stroke="#333" stroke-width="0.8" />
<line x1="308.5" y1="572" x2="308.5" y2="573.8" stroke="#333" stroke-width="0.8" />
<line x1="311.5" y1="572" x2="311.5" y2="573.8" stroke="#333" stroke-width="0.8" />
<line x1="314" y1="572" x2="314" y2="573.8" stroke="#333" stroke-width="0.8" />
<line x1="316.1" y1="572" x2="316.1" y2="573.8" stroke="#333" stroke-width="0.8" />
<line x1="317.9" y1="572" x2="317.9" y2="573.8" stroke="#333" stroke-width="0.8" />
<line x1="319.5" y1="572" x2="319.5" y2="573.8" stroke="#333" stroke-width="0.8" />
<line x1="320.9" y1="572" x2="320.9" y2="574.6" stroke="#333" stroke-width="0.8" />
<line x1="330.4" y1="572" x2="330.4" y2="573.8" stroke="#333" stroke-width="0.8" />
<line x1="335.9" y1="572" x2="335.9" y2="573.8" stroke="#333" stroke-width="0.8" />
<line x1="339.8" y1="572" x2="339.8" y2="573.8" stroke="#333" stroke-width="0.8" />
<line x1="342.8" y1="572" x2="342.8" y2="573.8" stroke="#333" stroke-width="0.8" />
<line x1="345.3" y1="572" x2="345.3" y2="573.8" stroke="#333" stroke-width="0.8" />
<line x1="347.4" y1="572" x2="347.4" y2="573.8" stroke="#333" stroke-width="0.8" />
<line x1="349.2" y1="572" x2="349.2" y2="573.8" stroke="#333" stroke-width="0.8" />
<line x1="350.8" y1="572" x2="350.8" y2="573.8" stroke="#333" stroke-width="0.8" />
<line x1="352.3" y1="572" x2="352.3" y2="574.6" stroke="#333" stroke-width="0.8" />
<line x1="361.7" y1="572" x2="361.7" y2="573.8" stroke="#333" stroke-width="0.8" />
<text x="258.3" y="580" font-size="4.4" font-family="Liberation Sans" fill="#333" text-anchor="middle">10<tspan dy="-1.7" font-size="3.2">2</tspan></text>
<text x="289.6" y="580" font-size="4.4" font-family="Liberation Sans" fill="#333" text-anchor="middle">10<tspan dy="-1.7" font-size="3.2">3</tspan></text>
<text x="320.9" y="580" font-size="4.4" font-family="Liberation Sans" fill="#333" text-anchor="middle">10<tspan dy="-1.7" font-size="3.2">4</tspan></text>
<text x="352.3" y="580" font-size="4.4" font-family="Liberation Sans" fill="#333" text-anchor="middle">10<tspan dy="-1.7" font-size="3.2">5</tspan></text>
<text x="230.8" y="538.3" font-size="5" font-family="Liberation Sans" fill="#222" text-anchor="middle" transform="rotate(-90 230.8 538.3)">Count</text>
<text x="237" y="572" font-size="3.6" font-family="Liberation Sans" fill="#444" text-anchor="middle" transform="rotate(-90 237 572)">0</text>
<text x="237" y="555.4" font-size="3.6" font-family="Liberation Sans" fill="#444" text-anchor="middle" transform="rotate(-90 237 555.4)">50</text>
<text x="237" y="538.8" font-size="3.6" font-family="Liberation Sans" fill="#444" text-anchor="middle" transform="rotate(-90 237 538.8)">100</text>
<text x="237" y="522.2" font-size="3.6" font-family="Liberation Sans" fill="#444" text-anchor="middle" transform="rotate(-90 237 522.2)">150</text>
<text x="237" y="505.6" font-size="3.6" font-family="Liberation Sans" fill="#444" text-anchor="middle" transform="rotate(-90 237 505.6)">200</text>
<path d="M240.7 572V572H241.7V572H242.7V572H243.7V572H244.7V572H245.7V572H246.7V572H247.7V572H248.7V572H249.7V572H250.7V572H251.7V572H252.7V572H253.7V572H254.7V572H255.7V572H256.7V572H257.7V572H258.7V572H259.7V572H260.7V572H261.7V572H262.7V572H263.7V571.7H264.7V571.5H265.7V571.3H266.7V571.2H267.7V570.9H268.7V570.8H269.7V570.7H270.7V570.5H271.7V570.4H272.7V570H273.7V570.1H274.7V569.6H275.7V569.4H276.7V569H277.7V569.2H278.7V569.1H279.7V568.8H280.7V567.8H281.7V566.6H282.7V566.4H283.7V565.1H284.7V564H285.7V564H286.7V561.8H287.7V558.8H288.7V556.5H289.7V555.8H290.7V552.9H291.7V548.6H292.7V551.5H293.7V545.4H294.7V545.5H295.7V541.1H296.7V542.1H297.7V541H298.7V536.9H299.7V534.6H300.7V535.9H301.7V531.1H302.7V528.6H303.7V525.5H304.7V517.8H305.7V509.3H306.7V513.4H307.7V513.9H308.7V513.3H309.7V511.9H310.7V513.8H311.7V515.3H312.7V507.5H313.7V513.3H314.7V503.1H315.7V503.1H316.7V503.1H317.7V512H318.7V507.8H319.7V510.5H320.7V516.9H321.7V521.9H322.7V512.7H323.7V522.3H324.7V527.3H325.7V533.1H326.7V535.9H327.7V540.2H328.7V542.5H329.7V550.5H330.7V554H331.7V554.5H332.7V559.3H333.7V560.4H334.7V563.4H335.7V564.7H336.7V566H337.7V567.2H338.7V567.5H339.7V568.3H340.7V569H341.7V569.2H342.7V569.8H343.7V570.6H344.7V571H345.7V571.3H346.7V571.8H347.7V572H348.7V572H349.7V572H350.7V572H351.7V572H352.7V572H353.7V572H354.7V572H355.7V572H356.7V572H357.7V572H358.7V572H359.7V572H360.7V572H361.7V572H362.7V572H363.7V572H364.7V572Z" fill="#000"/>
<text x="255.5" y="20.4" font-size="12" font-family="Liberation Serif" font-weight="bold" stroke="#000" stroke-width="0.3" text-anchor="start" >CD20</text>
<rect x="451.5" y="41.5" width="161" height="147" fill="none" stroke="#000" stroke-width="1"/>
<path d="M453.5 188.5v5.2M451.5 186.5h-4M458.5 188.5v5.2M451.5 181.5h-4M462.5 188.5v5.2M451.5 178.5h-4M465.5 188.5v5.2M451.5 175.5h-4M468.5 188.5v5.2M451.5 172.5h-4M470.5 188.5v5.2M451.5 170.5h-4M472.5 188.5v5.2M451.5 168.5h-4M474.5 188.5v8.5M451.5 167.5h-7.6M486.5 188.5v5.2M451.5 156.5h-4M493.5 188.5v5.2M451.5 149.5h-4M499.5 188.5v5.2M451.5 145.5h-4M502.5 188.5v5.2M451.5 141.5h-4M506.5 188.5v5.2M451.5 138.5h-4M508.5 188.5v5.2M451.5 136.5h-4M511.5 188.5v5.2M451.5 133.5h-4M513.5 188.5v5.2M451.5 132.5h-4M515.5 188.5v8.5M451.5 130.5h-7.6M527.5 188.5v5.2M451.5 119.5h-4M534.5 188.5v5.2M451.5 112.5h-4M539.5 188.5v5.2M451.5 108.5h-4M543.5 188.5v5.2M451.5 104.5h-4M546.5 188.5v5.2M451.5 101.5h-4M549.5 188.5v5.2M451.5 99.5h-4M551.5 188.5v5.2M451.5 97.5h-4M553.5 188.5v5.2M451.5 95.5h-4M555.5 188.5v8.5M451.5 93.5h-7.6M567.5 188.5v5.2M451.5 82.5h-4M575.5 188.5v5.2M451.5 76.5h-4M580.5 188.5v5.2M451.5 71.5h-4M584.5 188.5v5.2M451.5 68.5h-4M587.5 188.5v5.2M451.5 65.5h-4M590.5 188.5v5.2M451.5 62.5h-4M592.5 188.5v5.2M451.5 60.5h-4M594.5 188.5v5.2M451.5 58.5h-4M596.5 188.5v8.5M451.5 57.5h-7.6M608.5 188.5v5.2M451.5 45.5h-4" stroke="#111" stroke-width="1" fill="none"/>
<text x="474.6" y="206.4" font-size="8.6" font-family="Liberation Sans" text-anchor="middle" stroke="#000" stroke-width="0.25">10<tspan dy="-5" font-size="7">2</tspan></text>
<text x="442.6" y="165.6" font-size="8.6" font-family="Liberation Sans" text-anchor="middle" stroke="#000" stroke-width="0.25" transform="rotate(-90 442.6 165.6)">10<tspan dy="-5" font-size="7">2</tspan></text>
<text x="515.2" y="206.4" font-size="8.6" font-family="Liberation Sans" text-anchor="middle" stroke="#000" stroke-width="0.25">10<tspan dy="-5" font-size="7">3</tspan></text>
<text x="442.6" y="128.9" font-size="8.6" font-family="Liberation Sans" text-anchor="middle" stroke="#000" stroke-width="0.25" transform="rotate(-90 442.6 128.9)">10<tspan dy="-5" font-size="7">3</tspan></text>
<text x="555.7" y="206.4" font-size="8.6" font-family="Liberation Sans" text-anchor="middle" stroke="#000" stroke-width="0.25">10<tspan dy="-5" font-size="7">4</tspan></text>
<text x="442.6" y="92.2" font-size="8.6" font-family="Liberation Sans" text-anchor="middle" stroke="#000" stroke-width="0.25" transform="rotate(-90 442.6 92.2)">10<tspan dy="-5" font-size="7">4</tspan></text>
<text x="596.3" y="206.4" font-size="8.6" font-family="Liberation Sans" text-anchor="middle" stroke="#000" stroke-width="0.25">10<tspan dy="-5" font-size="7">5</tspan></text>
<text x="442.6" y="55.5" font-size="8.6" font-family="Liberation Sans" text-anchor="middle" stroke="#000" stroke-width="0.25" transform="rotate(-90 442.6 55.5)">10<tspan dy="-5" font-size="7">5</tspan></text>
<path d="M547 92h0M528 95h0M527 97h0M483 99h0m14 0h0m54 0h0m7 0h0M483 100h0M517 101h0M540 102h0m13 0h0M520 103h0m49 0h0M499 104h0m17 0h0m24 0h0M485 105h0m16 0h0m6 0h0m3 0h0m10 0h0m21 0h0M532 106h1m22 0h0M495 107h0m2 0h1m4 0h0m9 0h0m5 0h0m7 0h0M505 108h0m2 0h0m31 0h0M488 109h0m24 0h0m19 0h0m6 0h0m25 0h0M504 110h0m8 0h0m7 0h0m2 0h0m9 0h0m3 0h0m4 0h0m38 0h0M504 111h0m16 0h0m6 0h0m2 0h0m2 0h0m9 0h0M478 112h0m20 0h0m6 0h0m11 0h0m3 0h0m13 0h0m11 0h0m8 0h0m5 0h0M489 113h0m30 0h0m4 0h0m3 0h1m5 0h0m3 0h0m7 0h1M486 114h0m8 0h3m6 0h0m2 0h0m6 0h0m4 0h1m3 0h0m4 0h0m3 0h0m24 0h0m7 0h0M500 115h0m2 0h1m3 0h0m4 0h0m7 0h0m2 0h0m10 0h0m3 0h0m7 0h0m2 0h1m3 0h0m20 0h0M474 116h0m3 0h0m31 0h0m2 0h0m6 0h0m9 0h0m3 0h0m3 0h0m12 0h0m3 0h0m4 0h0m2 0h0m3 0h0M489 117h0m4 0h0m12 0h0m8 0h0m4 0h0m3 0h0m6 0h1m8 0h0m7 0h1m4 0h0m5 0h0m7 0h0M489 118h0m11 0h2m2 0h1m4 0h0m5 0h1m6 0h0m2 0h0m16 0h0m4 0h0m2 0h0m13 0h0m2 0h0m7 0h0M485 119h0m8 0h0m5 0h1m2 0h0m5 0h2m3 0h1m2 0h0m2 0h0m2 0h0m5 0h0m5 0h0m7 0h0m8 0h0m4 0h0m3 0h0m3 0h0M465 120h0m4 0h0m18 0h0m6 0h0m9 0h1m7 0h1m6 0h0m4 0h1m6 0h0m2 0h0m3 0h0m3 0h0m2 0h1m9 0h0m2 0h1m6 0h1m17 0h0M472 121h0m9 0h0m16 0h0m3 0h0m8 0h0m4 0h0m2 0h1m8 0h0m2 0h0m2 0h0m2 0h1m2 0h1m2 0h0m2 0h0m2 0h0m4 0h0m9 0h0m6 0h0m10 0h0M464 122h0m17 0h0m8 0h0m2 0h0m11 0h0m4 0h2m4 0h1m2 0h0m3 0h1m7 0h1m2 0h0m3 0h0m2 0h1m3 0h1m6 0h0m2 0h0m6 0h0m5 0h0M467 123h0m5 0h0m11 0h0m3 0h0m9 0h0m5 0h1m4 0h0m5 0h0m2 0h5m4 0h1m2 0h2m3 0h1m6 0h1m3 0h0m4 0h2m7 0h0m5 0h1m5 0h0M482 124h0m11 0h0m5 0h0m2 0h0m2 0h0m2 0h1m2 0h0m2 0h0m2 0h2m2 0h1m2 0h2m2 0h1m2 0h3m3 0h0m11 0h0m2 0h0m8 0h0m4 0h0M491 125h2m3 0h0m2 0h0m6 0h1m2 0h0m2 0h0m2 0h2m4 0h1m2 0h0m3 0h0m2 0h0m4 0h1m2 0h1m4 0h1m3 0h1m4 0h1m3 0h0m3 0h2m2 0h0m11 0h1M475 126h0m9 0h1m3 0h0m6 0h0m6 0h0m2 0h1m8 0h1m2 0h1m4 0h5m2 0h0m4 0h1m3 0h0m3 0h0m5 0h0m4 0h2m2 0h0m3 0h0m3 0h0M482 127h0m2 0h0m5 0h0m7 0h0m4 0h0m4 0h2m7 0h2m4 0h0m2 0h0m2 0h0m4 0h0m5 0h0m2 0h3m2 0h1m2 0h0m6 0h1m2 0h0m5 0h0M487 128h0m4 0h0m2 0h0m4 0h0m2 0h0m4 0h2m2 0h0m4 0h0m5 0h0m2 0h1m3 0h0m3 0h0m4 0h1m6 0h2m2 0h2m2 0h0m6 0h0m5 0h0m2 0h0m18 0h0M472 129h1m12 0h0m7 0h0m5 0h0m5 0h4m2 0h1m2 0h1m2 0h2m3 0h0m2 0h1m3 0h5m2 0h0m4 0h0m2 0h0m2 0h0m7 0h1m3 0h0m3 0h0m10 0h0m4 0h0m25 0h0M463 130h0m7 0h0m2 0h0m8 0h2m9 0h0m4 0h2m4 0h0m2 0h0m2 0h0m5 0h0m2 0h1m2 0h5m5 0h0m3 0h1m4 0h3m7 0h0m2 0h0m7 0h0m2 0h0M466 131h0m7 0h0m12 0h0m6 0h0m2 0h3m5 0h1m4 0h3m6 0h0m2 0h1m2 0h0m2 0h3m3 0h0m4 0h0m3 0h1m7 0h3m4 0h0m13 0h1m10 0h0M460 132h0m22 0h1m7 0h0m7 0h1m2 0h1m4 0h0m3 0h0m3 0h0m2 0h2m2 0h1m2 0h2m2 0h0m6 0h0m4 0h0m3 0h0m2 0h5m4 0h0m2 0h0m5 0h0m9 0h0M465 133h0m12 0h1m7 0h0m5 0h1m5 0h0m5 0h0m4 0h1m3 0h0m2 0h1m2 0h2m2 0h2m2 0h2m2 0h2m2 0h0m5 0h0m2 0h0m2 0h0m6 0h1m3 0h1m2 0h0m4 0h0m11 0h0m12 0h0M465 134h0m8 0h1m3 0h0m2 0h0m6 0h4m2 0h2m6 0h0m2 0h0m12 0h0m2 0h3m2 0h3m2 0h1m5 0h0m2 0h2m2 0h2m4 0h1m5 0h0m2 0h0m3 0h0m14 0h0m2 0h0M465 135h0m5 0h0m13 0h0m4 0h0m2 0h0m2 0h1m5 0h0m3 0h0m2 0h0m2 0h0m2 0h0m2 0h1m2 0h0m2 0h4m2 0h5m2 0h0m2 0h1m2 0h2m5 0h2m6 0h1m3 0h0m5 0h0m2 0h0m10 0h0M464 136h0m4 0h0m2 0h0m3 0h0m9 0h0m2 0h0m6 0h0m5 0h1m3 0h1m2 0h0m4 0h4m3 0h1m2 0h2m4 0h1m4 0h1m2 0h0m2 0h0m6 0h1m9 0h0m8 0h0m36 0h0M478 137h1m6 0h0m4 0h1m4 0h0m4 0h1m2 0h1m2 0h1m2 0h11m2 0h7m2 0h0m2 0h1m4 0h0m2 0h3m2 0h0m6 0h0m2 0h0m2 0h1m3 0h0m2 0h1m2 0h0m9 0h0M466 138h0m10 0h0m3 0h0m6 0h0m3 0h0m2 0h0m2 0h6m2 0h5m2 0h6m2 0h0m2 0h11m2 0h1m2 0h2m5 0h3m4 0h0m2 0h0m2 0h0m5 0h0M478 139h1m3 0h0m3 0h1m2 0h1m2 0h5m3 0h1m3 0h3m3 0h0m2 0h0m2 0h1m4 0h3m3 0h0m2 0h3m3 0h0m2 0h2m2 0h0m2 0h1m3 0h1m5 0h0m4 0h1m5 0h0m7 0h0m5 0h0M463 140h0m6 0h0m10 0h0m4 0h3m2 0h1m2 0h4m2 0h2m3 0h6m2 0h0m2 0h0m2 0h1m2 0h1m2 0h11m2 0h0m2 0h0m2 0h0m3 0h0m4 0h1m5 0h1m5 0h0m9 0h0m6 0h1M461 141h1m2 0h0m14 0h0m3 0h1m3 0h5m2 0h2m2 0h0m2 0h5m3 0h13m2 0h0m2 0h2m2 0h4m2 0h2m3 0h1m3 0h0m2 0h0m2 0h0m5 0h0m6 0h0m3 0h0m6 0h0M458 142h0m6 0h0m2 0h0m6 0h0m3 0h5m2 0h1m4 0h6m2 0h1m2 0h4m2 0h15m2 0h8m2 0h5m3 0h0m3 0h0m3 0h2m3 0h0m3 0h0m5 0h1m3 0h1m6 0h0M467 143h0m3 0h5m4 0h0m4 0h0m2 0h2m2 0h8m2 0h1m2 0h12m2 0h5m2 0h2m2 0h1m3 0h3m4 0h0m8 0h0m5 0h2m4 0h0m7 0h0M472 144h0m3 0h3m2 0h0m2 0h5m3 0h23m2 0h0m3 0h1m3 0h3m2 0h1m2 0h4m3 0h4m6 0h0m2 0h0m3 0h1m7 0h0m4 0h0m5 0h0M462 145h0m7 0h0m6 0h0m3 0h0m3 0h1m4 0h2m2 0h29m2 0h0m3 0h3m2 0h0m3 0h3m2 0h1m2 0h2m2 0h0m12 0h0m3 0h0m3 0h0m8 0h0M463 146h0m3 0h0m3 0h0m5 0h0m2 0h7m2 0h24m2 0h0m2 0h6m2 0h6m2 0h0m2 0h3m4 0h1m10 0h2m3 0h1m2 0h0m20 0h0M454 147h1m4 0h0m3 0h0m6 0h0m2 0h0m2 0h9m2 0h0m2 0h9m3 0h12m2 0h7m4 0h8m2 0h1m5 0h3m2 0h0m2 0h0m2 0h0m3 0h0m4 0h0m2 0h2M463 148h1m4 0h1m2 0h0m2 0h4m3 0h38m2 0h1m2 0h7m2 0h2m2 0h2m2 0h0m2 0h0m2 0h0m2 0h0m7 0h0m5 0h0M455 149h0m4 0h0m8 0h0m3 0h0m2 0h1m2 0h3m2 0h31m2 0h14m3 0h6m2 0h8m2 0h0m4 0h0m3 0h0m2 0h0m2 0h0M463 150h0m3 0h3m4 0h42m2 0h19m2 0h0m2 0h1m2 0h0m2 0h0m3 0h3m3 0h0m2 0h0m36 0h0M460 151h1m3 0h0m5 0h0m2 0h0m2 0h7m2 0h38m2 0h18m6 0h1m3 0h0m6 0h0m2 0h1m2 0h0m2 0h0m2 0h0m16 0h0M457 152h0m4 0h0m2 0h5m2 0h1m2 0h0m3 0h0m3 0h4m2 0h31m2 0h14m2 0h8m3 0h1m2 0h0m5 0h0m4 0h0m14 0h0M458 153h0m5 0h0m4 0h2m2 0h0m3 0h4m2 0h51m2 0h2m2 0h0m2 0h7m3 0h0m3 0h0m4 0h0m2 0h0m8 0h0M460 154h0m5 0h2m4 0h5m2 0h55m2 0h0m2 0h1m9 0h1m4 0h0m2 0h0M454 155h0m3 0h1m4 0h2m2 0h5m2 0h1m2 0h58m2 0h3m3 0h2m5 0h0m5 0h0m6 0h0m3 0h0M463 156h6m2 0h5m3 0h63m3 0h3m22 0h0M454 157h1m7 0h0m2 0h4m2 0h67m5 0h0m3 0h0m5 0h0M456 158h0m3 0h1m6 0h7m2 0h53m2 0h3m2 0h0m2 0h0m3 0h0m2 0h2m4 0h0m7 0h0m2 0h0m13 0h0M460 159h11m2 0h66m2 0h7m3 0h0m4 0h0M462 160h0m2 0h7m2 0h4m2 0h58m3 0h1m3 0h0m3 0h0M454 161h0m4 0h1m4 0h0m2 0h5m2 0h38m2 0h26m2 0h1m3 0h0m4 0h0m2 0h0m7 0h0m10 0h0M456 162h0m5 0h0m2 0h3m2 0h65m3 0h5m2 0h0m3 0h0M461 163h0m4 0h0m3 0h0m2 0h75m3 0h0m5 0h0m6 0h0M454 164h0m5 0h0m2 0h0m5 0h1m2 0h2m2 0h61m2 0h7m2 0h1m4 0h0m9 0h0M462 165h3m3 0h54m3 0h10m4 0h6m4 0h0m6 0h0m2 0h0M460 166h2m2 0h1m2 0h0m2 0h2m2 0h56m2 0h3m4 0h0m3 0h2m4 0h0M460 167h2m3 0h7m2 0h31m2 0h26m2 0h5m2 0h1M454 168h0m6 0h1m2 0h2m2 0h5m2 0h1m2 0h52m2 0h0m2 0h2m2 0h1m5 0h0m5 0h1M457 169h0m2 0h0m6 0h0m3 0h1m3 0h8m2 0h36m2 0h10m2 0h5m4 0h3m2 0h0m4 0h0M456 170h1m4 0h0m2 0h0m2 0h2m2 0h0m2 0h52m2 0h7m2 0h2m22 0h0M457 171h0m5 0h1m2 0h2m2 0h50m2 0h3m2 0h1m2 0h1m2 0h4m3 0h1m2 0h1m30 0h0M462 172h0m4 0h0m3 0h0m2 0h0m2 0h3m2 0h40m2 0h6m2 0h0m2 0h0m2 0h2m2 0h1m2 0h0m2 0h0M460 173h0m3 0h0m2 0h5m3 0h4m3 0h2m2 0h3m2 0h0m2 0h24m2 0h1m2 0h6m2 0h0m3 0h1m3 0h1m2 0h1m4 0h0M454 174h1m6 0h0m3 0h0m2 0h1m6 0h3m2 0h5m2 0h6m2 0h1m3 0h11m2 0h7m2 0h7m2 0h0m2 0h0m4 0h0m7 0h0M462 175h0m6 0h1m3 0h0m2 0h4m2 0h0m2 0h4m2 0h12m2 0h4m2 0h0m2 0h8m3 0h0m2 0h3m2 0h1m2 0h0m10 0h0M460 176h0m3 0h0m2 0h1m2 0h0m3 0h1m3 0h1m2 0h2m2 0h7m2 0h1m2 0h3m2 0h5m2 0h3m2 0h0m2 0h0m2 0h0m3 0h1m2 0h1m4 0h3m3 0h0m2 0h1m3 0h0m7 0h0M458 177h0m2 0h1m3 0h0m2 0h0m2 0h0m10 0h0m3 0h10m3 0h0m2 0h5m2 0h6m3 0h1m2 0h3m2 0h0m2 0h0m2 0h3m3 0h1M461 178h0m9 0h3m3 0h3m2 0h2m4 0h15m3 0h0m2 0h0m2 0h0m2 0h3m3 0h0m3 0h0m2 0h1m6 0h0m2 0h1m2 0h0m2 0h0M458 179h0m7 0h0m3 0h0m8 0h1m4 0h6m2 0h1m5 0h1m2 0h3m6 0h4m2 0h0m2 0h2m8 0h1m6 0h0M470 180h0m6 0h0m7 0h0m2 0h0m2 0h2m3 0h0m2 0h1m3 0h0m3 0h0m2 0h1m2 0h0m2 0h1m2 0h0m2 0h0m3 0h0m3 0h0m2 0h0m4 0h0m6 0h0M460 181h0m4 0h0m2 0h0m8 0h0m4 0h0m3 0h1m2 0h1m6 0h0m3 0h0m3 0h0m5 0h0m4 0h0m4 0h3m6 0h2m2 0h1m4 0h2M460 182h0m8 0h0m4 0h0m2 0h0m6 0h1m2 0h0m2 0h0m2 0h0m3 0h0m2 0h0m7 0h1m2 0h2m6 0h1m2 0h0m2 0h1m4 0h0m3 0h0m4 0h0M464 183h0m7 0h0m7 0h0m7 0h0m10 0h0m2 0h0m2 0h3m3 0h1m3 0h0m3 0h0m4 0h1M475 184h0m2 0h0m4 0h0m8 0h0m3 0h1m5 0h0m8 0h0m3 0h0m5 0h0m3 0h0m39 0h0M456 185h0m8 0h0m3 0h0m7 0h0m3 0h0m3 0h0m3 0h0m9 0h0m12 0h0m4 0h0m6 0h0m4 0h0m5 0h0m4 0h0m11 0h0m21 0h0M455 186h0m4 0h0m4 0h1m3 0h0m2 0h1m3 0h1m3 0h2m7 0h1m2 0h1m3 0h1m4 0h1m8 0h0m2 0h1m2 0h0m2 0h0m5 0h0m6 0h0m2 0h0m3 0h0m2 0h0m6 0h0m2 0h0m6 0h0m3 0h0m3 0h0m5 0h0m2 0h0" stroke="#000" stroke-width="1.3" stroke-linecap="square" fill="none" transform="translate(0.5 0.5)"/>
<rect x="643.5" y="41.5" width="161" height="147" fill="none" stroke="#000" stroke-width="1"/>
<path d="M645.5 188.5v5.2M643.5 186.5h-4M650.5 188.5v5.2M643.5 182.5h-4M654.5 188.5v5.2M643.5 178.5h-4M657.5 188.5v5.2M643.5 175.5h-4M660.5 188.5v5.2M643.5 173.5h-4M662.5 188.5v5.2M643.5 170.5h-4M664.5 188.5v5.2M643.5 169.5h-4M666.5 188.5v8.5M643.5 167.5h-7.6M678.5 188.5v5.2M643.5 156.5h-4M685.5 188.5v5.2M643.5 149.5h-4M690.5 188.5v5.2M643.5 145.5h-4M694.5 188.5v5.2M643.5 141.5h-4M697.5 188.5v5.2M643.5 138.5h-4M700.5 188.5v5.2M643.5 136.5h-4M703.5 188.5v5.2M643.5 134.5h-4M705.5 188.5v5.2M643.5 132.5h-4M706.5 188.5v8.5M643.5 130.5h-7.6M719.5 188.5v5.2M643.5 119.5h-4M726.5 188.5v5.2M643.5 113.5h-4M731.5 188.5v5.2M643.5 108.5h-4M735.5 188.5v5.2M643.5 105.5h-4M738.5 188.5v5.2M643.5 102.5h-4M741.5 188.5v5.2M643.5 99.5h-4M743.5 188.5v5.2M643.5 97.5h-4M745.5 188.5v5.2M643.5 95.5h-4M747.5 188.5v8.5M643.5 94.5h-7.6M759.5 188.5v5.2M643.5 82.5h-4M766.5 188.5v5.2M643.5 76.5h-4M771.5 188.5v5.2M643.5 71.5h-4M775.5 188.5v5.2M643.5 68.5h-4M779.5 188.5v5.2M643.5 65.5h-4M781.5 188.5v5.2M643.5 62.5h-4M784.5 188.5v5.2M643.5 60.5h-4M786.5 188.5v5.2M643.5 58.5h-4M788.5 188.5v8.5M643.5 57.5h-7.6M800.5 188.5v5.2M643.5 46.5h-4" stroke="#111" stroke-width="1" fill="none"/>
<text x="666.5" y="206.7" font-size="8.6" font-family="Liberation Sans" text-anchor="middle" stroke="#000" stroke-width="0.25">10<tspan dy="-5" font-size="7">2</tspan></text>
<text x="634.5" y="165.9" font-size="8.6" font-family="Liberation Sans" text-anchor="middle" stroke="#000" stroke-width="0.25" transform="rotate(-90 634.5 165.9)">10<tspan dy="-5" font-size="7">2</tspan></text>
<text x="707" y="206.7" font-size="8.6" font-family="Liberation Sans" text-anchor="middle" stroke="#000" stroke-width="0.25">10<tspan dy="-5" font-size="7">3</tspan></text>
<text x="634.5" y="129.2" font-size="8.6" font-family="Liberation Sans" text-anchor="middle" stroke="#000" stroke-width="0.25" transform="rotate(-90 634.5 129.2)">10<tspan dy="-5" font-size="7">3</tspan></text>
<text x="747.5" y="206.7" font-size="8.6" font-family="Liberation Sans" text-anchor="middle" stroke="#000" stroke-width="0.25">10<tspan dy="-5" font-size="7">4</tspan></text>
<text x="634.5" y="92.5" font-size="8.6" font-family="Liberation Sans" text-anchor="middle" stroke="#000" stroke-width="0.25" transform="rotate(-90 634.5 92.5)">10<tspan dy="-5" font-size="7">4</tspan></text>
<text x="788" y="206.7" font-size="8.6" font-family="Liberation Sans" text-anchor="middle" stroke="#000" stroke-width="0.25">10<tspan dy="-5" font-size="7">5</tspan></text>
<text x="634.5" y="55.8" font-size="8.6" font-family="Liberation Sans" text-anchor="middle" stroke="#000" stroke-width="0.25" transform="rotate(-90 634.5 55.8)">10<tspan dy="-5" font-size="7">5</tspan></text>
<path d="M691 136h0M722 138h0M665 143h0m10 0h0M661 144h0m53 0h0M660 145h0M672 146h0m12 0h0M659 147h0m12 0h1m2 0h4M663 148h1m2 0h2m3 0h0m2 0h2m2 0h0m14 0h0M661 149h0m4 0h1m2 0h0m2 0h0m2 0h0m2 0h2m2 0h0m2 0h0m4 0h0m4 0h0M658 150h5m4 0h4m6 0h1m2 0h1m2 0h0M653 151h0m5 0h1m2 0h0m2 0h5m2 0h9m2 0h0m48 0h0M657 152h0m2 0h1m4 0h1m2 0h5m2 0h9m2 0h0m3 0h0M656 153h1m2 0h24m6 0h0M652 154h0m2 0h0m3 0h1m2 0h0m2 0h1m2 0h12m2 0h2m2 0h3m3 0h1M648 155h0m6 0h1m2 0h27m3 0h0m2 0h0M654 156h32m2 0h0m3 0h1M651 157h0m4 0h1m2 0h30m4 0h0m16 0h0M647 158h0m4 0h0m4 0h0m3 0h26m2 0h1m3 0h0m7 0h0M649 159h2m2 0h1m2 0h0m2 0h34m4 0h0m3 0h0M652 160h0m2 0h37m4 0h1M651 161h0m2 0h33m2 0h0m3 0h1M654 162h36m2 0h1m18 0h0M647 163h0m2 0h4m2 0h24m2 0h8m2 0h2m8 0h0M650 164h0m3 0h0m2 0h37M649 165h1m2 0h34m2 0h6m10 0h0m22 0h0M650 166h0m3 0h31m2 0h5M648 167h0m4 0h0m4 0h33m2 0h1m5 0h0M650 168h2m2 0h3m2 0h30m2 0h1M650 169h0m2 0h5m2 0h27m2 0h3m7 0h0M650 170h0m2 0h1m2 0h32m2 0h1m2 0h1m6 0h0m3 0h0M651 171h0m4 0h34m3 0h0m2 0h0m2 0h0M652 172h0m2 0h36M650 173h0m3 0h0m3 0h0m2 0h31m2 0h0m9 0h0m22 0h0M647 174h0m6 0h33m2 0h1m2 0h0M653 175h0m4 0h31m2 0h0m2 0h0M654 176h4m2 0h2m2 0h20m3 0h0m3 0h0m5 0h0M655 177h0m2 0h3m2 0h20m2 0h3m4 0h0m2 0h0m4 0h1M650 178h0m5 0h0m2 0h0m3 0h22m3 0h1m2 0h0m3 0h1M659 179h0m2 0h1m2 0h1m2 0h10m2 0h4m3 0h1m4 0h0M658 180h0m2 0h2m4 0h1m2 0h8m3 0h0m4 0h1m21 0h0M655 181h0m7 0h0m2 0h3m2 0h1m2 0h0m2 0h5m2 0h0m3 0h0M656 182h2m2 0h0m3 0h0m3 0h0m2 0h1m2 0h0m2 0h0m3 0h1m3 0h1m2 0h0M658 183h0m2 0h0m2 0h1m3 0h0m6 0h0m4 0h4M658 184h0m3 0h0m4 0h0m3 0h1m4 0h1m3 0h1m2 0h0M661 185h0m2 0h0m11 0h1m13 0h0m2 0h0M668 186h0m19 0h0" stroke="#000" stroke-width="1.3" stroke-linecap="square" fill="none" transform="translate(0.5 0.5)"/>
<rect x="449.5" y="227.5" width="162" height="146" fill="none" stroke="#000" stroke-width="1"/>
<path d="M451.5 373.5v5.2M449.5 371.5h-4M456.5 373.5v5.2M449.5 367.5h-4M460.5 373.5v5.2M449.5 363.5h-4M463.5 373.5v5.2M449.5 360.5h-4M466.5 373.5v5.2M449.5 358.5h-4M468.5 373.5v5.2M449.5 356.5h-4M471.5 373.5v5.2M449.5 354.5h-4M472.5 373.5v8.5M449.5 352.5h-7.6M485.5 373.5v5.2M449.5 341.5h-4M492.5 373.5v5.2M449.5 335.5h-4M497.5 373.5v5.2M449.5 330.5h-4M501.5 373.5v5.2M449.5 327.5h-4M504.5 373.5v5.2M449.5 324.5h-4M507.5 373.5v5.2M449.5 321.5h-4M509.5 373.5v5.2M449.5 319.5h-4M511.5 373.5v5.2M449.5 317.5h-4M513.5 373.5v8.5M449.5 316.5h-7.6M525.5 373.5v5.2M449.5 305.5h-4M532.5 373.5v5.2M449.5 298.5h-4M537.5 373.5v5.2M449.5 294.5h-4M541.5 373.5v5.2M449.5 290.5h-4M545.5 373.5v5.2M449.5 287.5h-4M547.5 373.5v5.2M449.5 285.5h-4M550.5 373.5v5.2M449.5 283.5h-4M552.5 373.5v5.2M449.5 281.5h-4M554.5 373.5v8.5M449.5 279.5h-7.6M566.5 373.5v5.2M449.5 268.5h-4M573.5 373.5v5.2M449.5 262.5h-4M578.5 373.5v5.2M449.5 257.5h-4M582.5 373.5v5.2M449.5 253.5h-4M585.5 373.5v5.2M449.5 251.5h-4M588.5 373.5v5.2M449.5 248.5h-4M590.5 373.5v5.2M449.5 246.5h-4M592.5 373.5v5.2M449.5 244.5h-4M594.5 373.5v8.5M449.5 242.5h-7.6M606.5 373.5v5.2M449.5 231.5h-4" stroke="#111" stroke-width="1" fill="none"/>
<text x="472.9" y="392" font-size="8.6" font-family="Liberation Sans" text-anchor="middle" stroke="#000" stroke-width="0.25">10<tspan dy="-5" font-size="7">2</tspan></text>
<text x="440.9" y="351.3" font-size="8.6" font-family="Liberation Sans" text-anchor="middle" stroke="#000" stroke-width="0.25" transform="rotate(-90 440.9 351.3)">10<tspan dy="-5" font-size="7">2</tspan></text>
<text x="513.5" y="392" font-size="8.6" font-family="Liberation Sans" text-anchor="middle" stroke="#000" stroke-width="0.25">10<tspan dy="-5" font-size="7">3</tspan></text>
<text x="440.9" y="314.7" font-size="8.6" font-family="Liberation Sans" text-anchor="middle" stroke="#000" stroke-width="0.25" transform="rotate(-90 440.9 314.7)">10<tspan dy="-5" font-size="7">3</tspan></text>
<text x="554.1" y="392" font-size="8.6" font-family="Liberation Sans" text-anchor="middle" stroke="#000" stroke-width="0.25">10<tspan dy="-5" font-size="7">4</tspan></text>
<text x="440.9" y="278.1" font-size="8.6" font-family="Liberation Sans" text-anchor="middle" stroke="#000" stroke-width="0.25" transform="rotate(-90 440.9 278.1)">10<tspan dy="-5" font-size="7">4</tspan></text>
<text x="594.7" y="392" font-size="8.6" font-family="Liberation Sans" text-anchor="middle" stroke="#000" stroke-width="0.25">10<tspan dy="-5" font-size="7">5</tspan></text>
<text x="440.9" y="241.5" font-size="8.6" font-family="Liberation Sans" text-anchor="middle" stroke="#000" stroke-width="0.25" transform="rotate(-90 440.9 241.5)">10<tspan dy="-5" font-size="7">5</tspan></text>
<path d="M502 306h0M551 313h0M513 315h0M530 316h0M491 319h0M474 323h0m12 0h0M472 325h0m12 0h0m19 0h0M536 326h0M505 327h0m12 0h0M482 328h0m5 0h0m11 0h0m3 0h0m9 0h0m24 0h0M486 329h0m3 0h2m4 0h0m2 0h0m4 0h0m5 0h0m18 0h0m8 0h0M470 330h1m6 0h0m2 0h1m7 0h0m7 0h0m3 0h0m17 0h0m11 0h0M476 331h1m2 0h3m2 0h3m2 0h1m2 0h1m4 0h3m14 0h0m10 0h0m9 0h0M470 332h0m2 0h0m5 0h0m2 0h3m3 0h0m2 0h0m2 0h0m2 0h1m2 0h3m2 0h5m3 0h0m4 0h0m4 0h0m14 0h0M473 333h1m2 0h2m2 0h0m3 0h0m3 0h0m2 0h1m2 0h6m2 0h0m3 0h0m2 0h1m4 0h1m2 0h0m2 0h0m3 0h0m2 0h1m5 0h0m10 0h0M465 334h0m4 0h0m7 0h0m2 0h4m2 0h1m2 0h4m2 0h0m2 0h1m2 0h0m4 0h1m2 0h0m5 0h3m5 0h0m6 0h0m6 0h0M460 335h0m6 0h0m5 0h0m2 0h3m3 0h13m2 0h6m2 0h2m2 0h2m2 0h0m3 0h3m6 0h0m5 0h0m4 0h0M453 336h0m2 0h0m13 0h2m2 0h0m2 0h5m2 0h17m7 0h0m2 0h0m7 0h0m4 0h0m12 0h0M460 337h0m7 0h0m2 0h0m2 0h0m3 0h1m2 0h13m2 0h9m2 0h0m2 0h1m2 0h1m2 0h0m2 0h0m5 0h1m6 0h2M464 338h0m3 0h7m2 0h3m3 0h15m2 0h0m2 0h5m2 0h0m2 0h2m2 0h0m5 0h0m4 0h0m3 0h0m3 0h0m3 0h0m3 0h0M452 339h0m13 0h4m2 0h1m2 0h29m2 0h5m4 0h0m5 0h1m3 0h4m6 0h0M463 340h0m2 0h0m3 0h3m2 0h31m2 0h2m2 0h0m2 0h0m2 0h0m2 0h0m4 0h0m4 0h3m4 0h0m3 0h0m3 0h1M464 341h0m2 0h3m2 0h35m2 0h3m2 0h2m2 0h0m2 0h0m3 0h0m2 0h0m4 0h0m4 0h2m4 0h0m2 0h0M459 342h1m3 0h8m2 0h31m4 0h3m2 0h3m2 0h0m2 0h0m2 0h0m3 0h2m2 0h1m4 0h0m3 0h0M457 343h1m2 0h2m3 0h0m2 0h33m2 0h3m2 0h5m2 0h2m2 0h2m3 0h0m5 0h0M458 344h0m7 0h0m3 0h3m2 0h33m2 0h3m2 0h0m2 0h2m2 0h1m2 0h5M463 345h46m3 0h6m2 0h1m2 0h0m2 0h3m2 0h0m7 0h1m2 0h0M459 346h0m3 0h45m2 0h7m3 0h2m2 0h2m4 0h0m4 0h0m7 0h0M459 347h0m5 0h1m2 0h34m2 0h7m3 0h3m2 0h3m4 0h2m2 0h3M460 348h0m2 0h4m2 0h46m2 0h0m2 0h2m2 0h1m3 0h0m2 0h0m2 0h0m2 0h0m2 0h0M453 349h0m3 0h0m5 0h0m4 0h45m2 0h2m3 0h0m3 0h1m2 0h5m2 0h0m3 0h0m7 0h0m2 0h0M451 350h0m4 0h0m8 0h39m2 0h4m2 0h2m2 0h1m3 0h2m2 0h3m2 0h0m3 0h0m6 0h0M460 351h1m3 0h36m2 0h8m3 0h0m2 0h1m3 0h2m2 0h0m3 0h3m2 0h0m3 0h1m4 0h0m13 0h0M457 352h0m3 0h3m2 0h0m2 0h41m2 0h0m2 0h1m2 0h4m2 0h0m2 0h0m2 0h0m3 0h0m2 0h1m2 0h0M455 353h0m3 0h0m2 0h0m3 0h0m3 0h1m2 0h43m2 0h2m2 0h0m2 0h1m2 0h1m3 0h0m2 0h0m3 0h1m2 0h0m28 0h0M460 354h0m3 0h0m2 0h3m2 0h37m2 0h1m2 0h0m2 0h0m4 0h1m2 0h0m2 0h0m2 0h1m6 0h0m2 0h0m2 0h0m2 0h0m3 0h0M456 355h0m4 0h0m2 0h1m2 0h2m3 0h33m2 0h3m2 0h2m2 0h2m2 0h0m4 0h0m2 0h0m4 0h0m6 0h1m4 0h0m8 0h0M456 356h1m8 0h2m2 0h0m2 0h20m2 0h10m2 0h5m3 0h3m3 0h0m5 0h0m4 0h1m3 0h0m5 0h1M462 357h0m4 0h1m2 0h0m2 0h4m2 0h30m3 0h1m2 0h2m6 0h2m3 0h1m2 0h1m4 0h0m3 0h0m8 0h0M458 358h1m5 0h0m2 0h0m2 0h2m2 0h3m2 0h27m2 0h4m2 0h0m3 0h4m2 0h0m4 0h0m2 0h2m12 0h0M462 359h1m5 0h0m2 0h0m3 0h5m2 0h24m2 0h1m3 0h5m4 0h0m2 0h0m5 0h0m16 0h0M464 360h0m2 0h2m2 0h0m3 0h0m2 0h17m2 0h6m3 0h1m4 0h5m4 0h0m6 0h0m2 0h1M454 361h0m12 0h0m5 0h1m2 0h0m2 0h4m3 0h0m2 0h1m2 0h1m2 0h1m2 0h0m2 0h0m3 0h2m2 0h0m2 0h0m2 0h1m4 0h1m4 0h2m2 0h2m3 0h2M472 362h1m2 0h1m3 0h0m2 0h9m2 0h0m2 0h1m2 0h3m6 0h0m4 0h2m4 0h0m4 0h1m2 0h0m3 0h0m8 0h0M465 363h0m5 0h1m2 0h0m2 0h0m6 0h0m3 0h7m2 0h1m3 0h1m2 0h0m2 0h1m5 0h0m4 0h0m5 0h2m3 0h0m6 0h0m5 0h0m8 0h0M470 364h0m5 0h0m2 0h4m3 0h6m2 0h0m5 0h1m7 0h0m3 0h0m4 0h0m3 0h0m2 0h0m2 0h3m5 0h0m2 0h0m6 0h0M475 365h0m4 0h2m3 0h0m2 0h0m4 0h0m2 0h1m2 0h1m4 0h0m6 0h0m3 0h0m3 0h0m2 0h0m3 0h0m2 0h0m2 0h0m2 0h0m5 0h0M459 366h0m9 0h0m13 0h0m4 0h0m2 0h3m4 0h0m5 0h1m2 0h0m6 0h0m4 0h1m2 0h0m6 0h0M469 367h0m2 0h0m5 0h2m16 0h1m3 0h1m2 0h0m9 0h0m11 0h0m2 0h0M476 368h0m2 0h0m5 0h0m5 0h0m2 0h0m15 0h0m5 0h0m7 0h0m9 0h0M474 369h0m4 0h0m4 0h0m4 0h1m15 0h0m6 0h0m4 0h0m2 0h0M463 370h0m17 0h0m9 0h0m2 0h0m6 0h0m17 0h0M462 371h0m5 0h0m2 0h0m2 0h0m2 0h0m4 0h0m5 0h1m2 0h0m2 0h0m4 0h2m2 0h1m12 0h0m3 0h1m14 0h0M455 372h0m5 0h3m2 0h3m3 0h1m2 0h1m2 0h0m2 0h4m2 0h0m4 0h2m3 0h1m6 0h0m3 0h0m2 0h0m3 0h0m2 0h0m3 0h0" stroke="#000" stroke-width="1.3" stroke-linecap="square" fill="none" transform="translate(0.5 0.5)"/>
<rect x="643.5" y="228.5" width="158" height="144" fill="none" stroke="#000" stroke-width="1"/>
<path d="M644.5 372.5v5.2M643.5 370.5h-4M649.5 372.5v5.2M643.5 365.5h-4M653.5 372.5v5.2M643.5 362.5h-4M656.5 372.5v5.2M643.5 359.5h-4M659.5 372.5v5.2M643.5 357.5h-4M661.5 372.5v5.2M643.5 354.5h-4M663.5 372.5v5.2M643.5 353.5h-4M665.5 372.5v8.5M643.5 351.5h-7.6M677.5 372.5v5.2M643.5 340.5h-4M684.5 372.5v5.2M643.5 334.5h-4M689.5 372.5v5.2M643.5 329.5h-4M693.5 372.5v5.2M643.5 326.5h-4M696.5 372.5v5.2M643.5 323.5h-4M699.5 372.5v5.2M643.5 321.5h-4M701.5 372.5v5.2M643.5 319.5h-4M703.5 372.5v5.2M643.5 317.5h-4M705.5 372.5v8.5M643.5 315.5h-7.6M717.5 372.5v5.2M643.5 304.5h-4M724.5 372.5v5.2M643.5 298.5h-4M729.5 372.5v5.2M643.5 294.5h-4M733.5 372.5v5.2M643.5 290.5h-4M736.5 372.5v5.2M643.5 287.5h-4M738.5 372.5v5.2M643.5 285.5h-4M741.5 372.5v5.2M643.5 283.5h-4M743.5 372.5v5.2M643.5 281.5h-4M745.5 372.5v8.5M643.5 279.5h-7.6M757.5 372.5v5.2M643.5 269.5h-4M764.5 372.5v5.2M643.5 262.5h-4M768.5 372.5v5.2M643.5 258.5h-4M772.5 372.5v5.2M643.5 254.5h-4M775.5 372.5v5.2M643.5 251.5h-4M778.5 372.5v5.2M643.5 249.5h-4M780.5 372.5v5.2M643.5 247.5h-4M782.5 372.5v5.2M643.5 245.5h-4M784.5 372.5v8.5M643.5 243.5h-7.6M796.5 372.5v5.2M643.5 233.5h-4" stroke="#111" stroke-width="1" fill="none"/>
<text x="665.5" y="390.3" font-size="8.6" font-family="Liberation Sans" text-anchor="middle" stroke="#000" stroke-width="0.25">10<tspan dy="-5" font-size="7">2</tspan></text>
<text x="634" y="350" font-size="8.6" font-family="Liberation Sans" text-anchor="middle" stroke="#000" stroke-width="0.25" transform="rotate(-90 634 350)">10<tspan dy="-5" font-size="7">2</tspan></text>
<text x="705.3" y="390.3" font-size="8.6" font-family="Liberation Sans" text-anchor="middle" stroke="#000" stroke-width="0.25">10<tspan dy="-5" font-size="7">3</tspan></text>
<text x="634" y="314.1" font-size="8.6" font-family="Liberation Sans" text-anchor="middle" stroke="#000" stroke-width="0.25" transform="rotate(-90 634 314.1)">10<tspan dy="-5" font-size="7">3</tspan></text>
<text x="745.1" y="390.3" font-size="8.6" font-family="Liberation Sans" text-anchor="middle" stroke="#000" stroke-width="0.25">10<tspan dy="-5" font-size="7">4</tspan></text>
<text x="634" y="278.3" font-size="8.6" font-family="Liberation Sans" text-anchor="middle" stroke="#000" stroke-width="0.25" transform="rotate(-90 634 278.3)">10<tspan dy="-5" font-size="7">4</tspan></text>
<text x="784.8" y="390.3" font-size="8.6" font-family="Liberation Sans" text-anchor="middle" stroke="#000" stroke-width="0.25">10<tspan dy="-5" font-size="7">5</tspan></text>
<text x="634" y="242.4" font-size="8.6" font-family="Liberation Sans" text-anchor="middle" stroke="#000" stroke-width="0.25" transform="rotate(-90 634 242.4)">10<tspan dy="-5" font-size="7">5</tspan></text>
<path d="M680 289h0M743 304h0M723 306h0M728 308h0m8 0h0M670 309h0m2 0h0m45 0h0M707 310h0M691 312h0m17 0h0M701 313h0M728 314h0M688 315h0m5 0h0m10 0h1M678 316h0m4 0h1m5 0h0m5 0h0m11 0h0M675 317h1m11 0h0m8 0h0m13 0h0m12 0h0M684 318h0M677 319h1m12 0h0m21 0h0m24 0h0M680 320h0m6 0h0m3 0h0m6 0h0m2 0h0m3 0h0m2 0h0M684 321h0m7 0h0m3 0h0M649 322h0m25 0h0m3 0h0m2 0h0m3 0h0m8 0h0m11 0h0m7 0h0m12 0h0m3 0h0M658 323h1m3 0h0m10 0h0m9 0h0m4 0h0m8 0h0m4 0h0m3 0h0m7 0h0M663 324h0m9 0h0m3 0h0m3 0h0m5 0h0m3 0h0m2 0h0m2 0h0m7 0h0m5 0h0m2 0h1m5 0h0m4 0h0m6 0h0m11 0h0m9 0h0M667 325h0m8 0h0m2 0h0m2 0h0m2 0h7m2 0h0m2 0h0m2 0h2m2 0h0m2 0h1m4 0h0M654 326h0m6 0h0m9 0h0m9 0h1m7 0h0m4 0h2m3 0h0m2 0h1m7 0h0m2 0h0m2 0h1m2 0h1m4 0h1M665 327h0m2 0h3m2 0h1m2 0h1m4 0h1m3 0h0m2 0h2m2 0h0m2 0h2m3 0h2m2 0h0m2 0h0m5 0h1m4 0h0m10 0h0m8 0h0M655 328h0m6 0h0m4 0h0m4 0h1m2 0h2m3 0h3m2 0h2m2 0h0m2 0h3m3 0h4m8 0h1m11 0h1m3 0h0m3 0h0m12 0h0M657 329h0m7 0h0m3 0h1m2 0h4m2 0h1m2 0h1m3 0h0m2 0h1m2 0h5m2 0h2m2 0h0m6 0h2m7 0h1m2 0h0m2 0h0m4 0h0M664 330h5m2 0h1m2 0h4m3 0h0m2 0h1m2 0h1m2 0h0m3 0h7m2 0h0m2 0h1m11 0h0m19 0h0M654 331h0m4 0h0m3 0h0m2 0h0m2 0h2m2 0h7m2 0h11m2 0h1m2 0h5m2 0h0m3 0h0m4 0h2m3 0h0m6 0h1m8 0h0M658 332h0m4 0h0m2 0h19m3 0h2m2 0h2m4 0h0m2 0h0m2 0h1m2 0h1m3 0h0m2 0h0m2 0h1m2 0h0m5 0h0m3 0h0m5 0h0m10 0h0m2 0h0M652 333h0m5 0h1m3 0h9m2 0h2m2 0h2m3 0h11m2 0h0m3 0h0m2 0h0m2 0h4m3 0h3m4 0h0m10 0h0m2 0h0m5 0h0M661 334h0m3 0h9m4 0h16m2 0h6m2 0h1m2 0h0m3 0h0m2 0h0m2 0h1m2 0h1m6 0h0M649 335h0m5 0h2m4 0h37m2 0h0m3 0h3m3 0h1m3 0h1m4 0h2m2 0h0m6 0h0m6 0h0M651 336h0m5 0h0m3 0h1m2 0h3m2 0h0m2 0h36m2 0h0m4 0h0m2 0h0m3 0h1m13 0h0m8 0h0m19 0h0M648 337h0m7 0h1m3 0h3m3 0h11m2 0h18m2 0h3m2 0h2m4 0h0m4 0h3m2 0h0m2 0h0m11 0h0M646 338h1m7 0h1m4 0h5m2 0h34m2 0h2m2 0h3m5 0h0m2 0h1m4 0h0m5 0h0M654 339h0m2 0h1m2 0h2m2 0h40m2 0h1m4 0h2m2 0h1m6 0h1m3 0h0m11 0h0M654 340h0m2 0h0m2 0h0m2 0h3m2 0h33m2 0h3m2 0h1m4 0h1m2 0h1m2 0h2m2 0h0m5 0h0m8 0h0M644 341h0m9 0h0m5 0h3m2 0h19m2 0h15m3 0h2m2 0h2m3 0h1m2 0h0m5 0h0m2 0h0m3 0h0m2 0h0m10 0h0m2 0h0M656 342h1m3 0h0m2 0h33m2 0h8m3 0h0m2 0h4m5 0h2m9 0h0M654 343h0m2 0h0m4 0h1m2 0h2m2 0h30m2 0h3m2 0h0m2 0h0m2 0h2m13 0h0m3 0h0m11 0h0M652 344h0m5 0h1m4 0h3m2 0h28m2 0h0m2 0h0m2 0h1m2 0h1m3 0h0m2 0h1m2 0h2m4 0h0m2 0h1m3 0h0m5 0h0M652 345h0m3 0h1m3 0h0m4 0h31m2 0h2m2 0h1m2 0h0m2 0h0m4 0h0m2 0h2m4 0h1m6 0h0m6 0h0m3 0h0m7 0h0m4 0h0M649 346h0m10 0h3m2 0h2m2 0h24m2 0h10m2 0h1m2 0h0m2 0h1m3 0h0m4 0h1m2 0h0m8 0h0m5 0h0m2 0h0m4 0h0M649 347h0m10 0h7m2 0h7m2 0h14m3 0h3m2 0h5m3 0h3m2 0h0m3 0h1m4 0h0m2 0h0m2 0h0m4 0h1m10 0h1M656 348h1m2 0h0m2 0h0m2 0h0m2 0h0m2 0h3m3 0h26m2 0h0m2 0h1m5 0h0m4 0h0m3 0h0m2 0h0m3 0h0m16 0h0m6 0h0M656 349h0m2 0h0m4 0h0m2 0h1m2 0h9m2 0h5m2 0h7m2 0h1m2 0h1m2 0h1m2 0h1m3 0h2m3 0h2m7 0h0m4 0h0M645 350h0m13 0h0m2 0h0m2 0h4m3 0h1m4 0h2m2 0h5m2 0h5m2 0h4m2 0h0m2 0h3m4 0h2m3 0h0m2 0h0m3 0h0m3 0h2m5 0h2M646 351h0m8 0h0m2 0h0m4 0h0m3 0h0m2 0h0m2 0h6m2 0h3m2 0h15m2 0h0m2 0h1m2 0h4m3 0h1m2 0h1m2 0h1M653 352h0m8 0h0m3 0h0m8 0h0m3 0h1m2 0h2m3 0h4m3 0h6m2 0h4m3 0h0m3 0h1m3 0h0m3 0h0m2 0h0m2 0h0m4 0h0m9 0h0M657 353h0m8 0h2m3 0h3m3 0h3m2 0h0m2 0h2m2 0h0m2 0h3m3 0h0m2 0h1m3 0h0m2 0h0m3 0h1m2 0h2m5 0h0m3 0h0m3 0h0m4 0h0m3 0h0M658 354h1m5 0h0m4 0h0m3 0h1m3 0h2m2 0h0m2 0h0m2 0h0m2 0h0m4 0h1m2 0h1m6 0h0m8 0h1m10 0h0m11 0h0m9 0h0M652 355h0m16 0h2m2 0h1m2 0h0m2 0h1m2 0h1m4 0h0m2 0h1m2 0h0m5 0h1m2 0h0m6 0h0m2 0h0m14 0h0M654 356h1m2 0h0m15 0h1m4 0h0m3 0h0m2 0h0m3 0h1m2 0h0m2 0h0m3 0h0m3 0h4m5 0h0m2 0h0m7 0h0m7 0h1m2 0h0M658 357h0m14 0h0m5 0h0m2 0h0m3 0h0m3 0h1m2 0h0m2 0h0m2 0h0m2 0h0m2 0h0m3 0h0m13 0h1m2 0h0m9 0h1m13 0h0M669 358h0m9 0h0m3 0h0m6 0h1m2 0h1m2 0h0m8 0h4m2 0h0m2 0h0m2 0h1m2 0h0M673 359h0m3 0h0m5 0h1m4 0h3m2 0h0m6 0h1m4 0h0m2 0h5m6 0h0M677 360h0m6 0h0m2 0h0m3 0h0m2 0h1m4 0h2m9 0h0m4 0h0m4 0h0M668 361h0m4 0h0m9 0h0m13 0h0m2 0h0m3 0h0m2 0h0m4 0h0m9 0h0M646 362h0m14 0h0m3 0h0m9 0h0m12 0h1m4 0h0m18 0h1m4 0h0m7 0h0M673 363h0m2 0h0m3 0h0m8 0h0m4 0h0m4 0h0m8 0h1m3 0h0m10 0h0M669 364h0m3 0h0m15 0h0m4 0h1m3 0h0m8 0h0m3 0h0m10 0h0m10 0h0M683 365h0m4 0h1m15 0h0M686 366h0m3 0h0m3 0h1M672 367h0m19 0h0m4 0h0M717 368h0M666 369h1m5 0h1m4 0h1m2 0h0m6 0h1m2 0h0m6 0h0m4 0h0m4 0h1m6 0h1m6 0h0M653 370h2m2 0h0m2 0h0m2 0h0m2 0h0m7 0h0m7 0h1m6 0h3m7 0h1m3 0h0m4 0h0m2 0h2m2 0h0m2 0h0m7 0h0" stroke="#000" stroke-width="1.3" stroke-linecap="square" fill="none" transform="translate(0.5 0.5)"/>
<rect x="447.5" y="407.5" width="161" height="148" fill="none" stroke="#000" stroke-width="1"/>
<path d="M449.5 555.5v5.2M447.5 553.5h-4M454.5 555.5v5.2M447.5 548.5h-4M458.5 555.5v5.2M447.5 545.5h-4M461.5 555.5v5.2M447.5 542.5h-4M464.5 555.5v5.2M447.5 539.5h-4M466.5 555.5v5.2M447.5 537.5h-4M468.5 555.5v5.2M447.5 535.5h-4M470.5 555.5v8.5M447.5 533.5h-7.6M482.5 555.5v5.2M447.5 522.5h-4M489.5 555.5v5.2M447.5 516.5h-4M494.5 555.5v5.2M447.5 511.5h-4M498.5 555.5v5.2M447.5 508.5h-4M502.5 555.5v5.2M447.5 505.5h-4M504.5 555.5v5.2M447.5 502.5h-4M507.5 555.5v5.2M447.5 500.5h-4M509.5 555.5v5.2M447.5 498.5h-4M511.5 555.5v8.5M447.5 497.5h-7.6M523.5 555.5v5.2M447.5 485.5h-4M530.5 555.5v5.2M447.5 479.5h-4M535.5 555.5v5.2M447.5 474.5h-4M539.5 555.5v5.2M447.5 471.5h-4M542.5 555.5v5.2M447.5 468.5h-4M545.5 555.5v5.2M447.5 465.5h-4M547.5 555.5v5.2M447.5 463.5h-4M549.5 555.5v5.2M447.5 461.5h-4M551.5 555.5v8.5M447.5 460.5h-7.6M563.5 555.5v5.2M447.5 449.5h-4M570.5 555.5v5.2M447.5 442.5h-4M575.5 555.5v5.2M447.5 437.5h-4M579.5 555.5v5.2M447.5 434.5h-4M583.5 555.5v5.2M447.5 431.5h-4M585.5 555.5v5.2M447.5 429.5h-4M588.5 555.5v5.2M447.5 426.5h-4M590.5 555.5v5.2M447.5 424.5h-4M592.5 555.5v8.5M447.5 423.5h-7.6M604.5 555.5v5.2M447.5 412.5h-4" stroke="#111" stroke-width="1" fill="none"/>
<text x="470.5" y="573.4" font-size="8.6" font-family="Liberation Sans" text-anchor="middle" stroke="#000" stroke-width="0.25">10<tspan dy="-5" font-size="7">2</tspan></text>
<text x="438.6" y="532.5" font-size="8.6" font-family="Liberation Sans" text-anchor="middle" stroke="#000" stroke-width="0.25" transform="rotate(-90 438.6 532.5)">10<tspan dy="-5" font-size="7">2</tspan></text>
<text x="511" y="573.4" font-size="8.6" font-family="Liberation Sans" text-anchor="middle" stroke="#000" stroke-width="0.25">10<tspan dy="-5" font-size="7">3</tspan></text>
<text x="438.6" y="495.6" font-size="8.6" font-family="Liberation Sans" text-anchor="middle" stroke="#000" stroke-width="0.25" transform="rotate(-90 438.6 495.6)">10<tspan dy="-5" font-size="7">3</tspan></text>
<text x="551.5" y="573.4" font-size="8.6" font-family="Liberation Sans" text-anchor="middle" stroke="#000" stroke-width="0.25">10<tspan dy="-5" font-size="7">4</tspan></text>
<text x="438.6" y="458.7" font-size="8.6" font-family="Liberation Sans" text-anchor="middle" stroke="#000" stroke-width="0.25" transform="rotate(-90 438.6 458.7)">10<tspan dy="-5" font-size="7">4</tspan></text>
<text x="592" y="573.4" font-size="8.6" font-family="Liberation Sans" text-anchor="middle" stroke="#000" stroke-width="0.25">10<tspan dy="-5" font-size="7">5</tspan></text>
<text x="438.6" y="421.8" font-size="8.6" font-family="Liberation Sans" text-anchor="middle" stroke="#000" stroke-width="0.25" transform="rotate(-90 438.6 421.8)">10<tspan dy="-5" font-size="7">5</tspan></text>
<path d="M489 451h0m39 0h0M543 457h0M473 462h0m44 0h0M546 463h0M476 464h0m46 0h0M519 466h0M529 467h0M531 468h0M513 469h0m10 0h0m10 0h0M501 470h0m27 0h0m7 0h0M499 471h0m19 0h0m3 0h0m3 0h0m12 0h0m11 0h0M510 472h0m5 0h0m12 0h0m16 0h0M522 473h0M504 474h0m14 0h0m9 0h0M479 476h0m50 0h0m13 0h0M518 477h1m37 0h0M462 478h0m10 0h0m17 0h0m8 0h0m5 0h0m28 0h0m3 0h0m20 0h0M512 479h1m9 0h0m23 0h0M468 480h0m22 0h0m14 0h0m8 0h0m5 0h0m5 0h0m4 0h0m30 0h0M492 481h0m4 0h0m13 0h0m41 0h0m8 0h0M509 482h0m4 0h1m22 0h1m11 0h0M499 483h0m6 0h0m18 0h0m4 0h0m26 0h0M487 484h1m2 0h0m10 0h0m5 0h0m17 0h0m8 0h0m3 0h0m11 0h0m2 0h0m4 0h0m11 0h0M473 485h0m19 0h0m7 0h0m9 0h0m49 0h0M475 486h0m10 0h0m7 0h0m18 0h0m20 0h0m3 0h0m11 0h0M464 487h0m21 0h0m5 0h0m4 0h0m4 0h0m9 0h0m7 0h0m8 0h0m2 0h0m13 0h0m9 0h0m17 0h0M478 488h0m16 0h1m12 0h0m2 0h0m14 0h0m2 0h0m13 0h1m18 0h0m10 0h0M469 489h0m7 0h0m8 0h1m12 0h2m2 0h0m9 0h0m6 0h2m7 0h0m2 0h0m4 0h0m8 0h1m16 0h0M476 490h0m7 0h0m11 0h1m9 0h0m2 0h1m13 0h0m5 0h3m6 0h0m12 0h0m5 0h0M467 491h0m21 0h0m15 0h0m5 0h1m5 0h0m3 0h0m3 0h0m6 0h1m3 0h0m2 0h1m7 0h0m2 0h0m6 0h0m2 0h0m2 0h0m3 0h0m10 0h0M493 492h0m6 0h0m7 0h0m4 0h1m2 0h0m7 0h0m4 0h0m5 0h0m6 0h0m7 0h1m2 0h0M476 493h0m4 0h0m10 0h0m6 0h0m8 0h0m2 0h0m6 0h1m11 0h0m3 0h0m2 0h0m2 0h0m3 0h0m18 0h0m13 0h0M488 494h0m9 0h2m2 0h0m3 0h0m2 0h0m3 0h0m3 0h1m2 0h0m2 0h1m7 0h0m2 0h0m4 0h0m4 0h2m24 0h0M469 495h0m16 0h0m19 0h0m6 0h0m3 0h4m3 0h0m5 0h1m2 0h1m2 0h0m12 0h2m2 0h0m17 0h0M492 496h0m8 0h2m6 0h4m5 0h0m4 0h0m2 0h0m2 0h0m4 0h1m6 0h0m8 0h0m11 0h0m6 0h0m10 0h0M463 497h0m6 0h0m8 0h0m11 0h0m8 0h0m2 0h0m9 0h0m2 0h0m5 0h0m2 0h0m3 0h1m3 0h1m15 0h0m2 0h0m6 0h0m2 0h0m3 0h1m5 0h0M479 498h0m12 0h0m2 0h0m5 0h1m2 0h0m4 0h1m2 0h0m2 0h0m4 0h0m3 0h0m2 0h2m8 0h0m3 0h0m2 0h0m6 0h0m2 0h0m5 0h0M479 499h1m7 0h0m7 0h0m8 0h3m2 0h0m6 0h1m3 0h0m3 0h0m3 0h0m2 0h2m2 0h0m12 0h0m2 0h0m3 0h1m23 0h0m7 0h0M481 500h0m6 0h0m2 0h0m4 0h0m3 0h0m4 0h1m5 0h1m2 0h0m2 0h0m2 0h1m7 0h0m3 0h0m3 0h0m4 0h1m2 0h0m2 0h1m9 0h0m11 0h0m11 0h0M482 501h0m2 0h2m4 0h0m3 0h1m5 0h0m2 0h0m2 0h0m5 0h0m2 0h2m6 0h1m3 0h0m2 0h1m2 0h0m2 0h0m7 0h0m3 0h0m17 0h0m6 0h0M462 502h0m7 0h0m10 0h0m13 0h1m2 0h0m2 0h4m2 0h0m2 0h0m5 0h4m2 0h1m2 0h0m2 0h0m2 0h0m3 0h3m5 0h0m5 0h0m15 0h0m5 0h0M466 503h0m7 0h1m8 0h0m3 0h0m6 0h1m2 0h1m3 0h0m2 0h5m2 0h7m2 0h1m5 0h0m2 0h1m7 0h0m3 0h0m3 0h1m6 0h1m4 0h0m7 0h0m13 0h0M482 504h0m3 0h1m3 0h0m2 0h0m2 0h1m2 0h0m3 0h2m2 0h0m3 0h0m2 0h2m2 0h0m3 0h0m2 0h0m2 0h2m3 0h4m3 0h0m4 0h0m2 0h0m3 0h1m5 0h0m4 0h1m3 0h0m4 0h0m2 0h0m6 0h0M470 505h0m8 0h0m3 0h1m2 0h0m2 0h2m2 0h3m3 0h8m2 0h0m2 0h1m2 0h1m2 0h3m2 0h3m3 0h1m4 0h1m2 0h0m2 0h0m2 0h0m4 0h1m3 0h0m7 0h0m3 0h1m16 0h0M478 506h0m3 0h0m3 0h0m2 0h3m3 0h0m3 0h0m2 0h12m2 0h3m2 0h2m4 0h3m3 0h4m2 0h0m2 0h3m6 0h0m7 0h0M479 507h0m2 0h0m4 0h1m2 0h0m2 0h0m3 0h0m2 0h0m2 0h0m3 0h4m2 0h1m2 0h0m2 0h3m2 0h8m2 0h0m3 0h3m2 0h1m4 0h2m7 0h0m2 0h0m5 0h0m3 0h0m13 0h0M459 508h0m2 0h0m2 0h0m3 0h0m2 0h0m5 0h0m3 0h0m4 0h1m6 0h7m2 0h2m3 0h4m4 0h2m2 0h3m4 0h4m2 0h1m2 0h0m2 0h6m2 0h1m6 0h1m2 0h0m2 0h0M464 509h0m8 0h0m5 0h3m7 0h1m2 0h1m2 0h9m2 0h6m2 0h1m2 0h1m2 0h19m2 0h3m7 0h0m7 0h0m4 0h0M466 510h0m3 0h0m2 0h0m3 0h0m3 0h1m3 0h5m2 0h3m3 0h15m2 0h14m2 0h2m2 0h6m2 0h3m3 0h3m10 0h0M464 511h0m3 0h0m7 0h0m4 0h0m3 0h0m2 0h0m2 0h0m2 0h1m3 0h12m2 0h3m2 0h9m2 0h10m2 0h8m3 0h2m3 0h0m7 0h0m2 0h0m7 0h0M476 512h1m3 0h1m2 0h2m2 0h4m2 0h48m3 0h0m2 0h6m10 0h0m6 0h0M468 513h3m2 0h0m3 0h3m4 0h2m2 0h9m2 0h29m2 0h7m2 0h7m4 0h0m8 0h0m8 0h0m2 0h0M459 514h0m7 0h0m6 0h0m2 0h1m2 0h0m2 0h5m2 0h3m2 0h1m2 0h33m2 0h8m2 0h4m2 0h3m2 0h1m2 0h2m2 0h0m2 0h0m17 0h0M466 515h0m3 0h4m2 0h0m2 0h0m3 0h6m2 0h3m2 0h40m2 0h3m2 0h1m5 0h1m2 0h1m2 0h0m2 0h0m18 0h0M468 516h0m6 0h1m3 0h4m2 0h5m2 0h7m2 0h36m2 0h2m2 0h0m3 0h1m2 0h1m3 0h0m2 0h2m22 0h0M461 517h0m2 0h0m10 0h3m2 0h0m3 0h12m2 0h45m2 0h0m2 0h3m3 0h0m3 0h0m11 0h0M466 518h0m2 0h0m3 0h2m2 0h0m3 0h0m2 0h0m2 0h1m3 0h0m2 0h5m2 0h42m2 0h3m2 0h2m3 0h0m4 0h0m4 0h0m7 0h0M462 519h1m2 0h1m3 0h0m3 0h0m3 0h3m2 0h2m2 0h2m2 0h51m2 0h1m2 0h5m2 0h2m4 0h0M462 520h1m3 0h3m2 0h1m3 0h12m2 0h49m2 0h3m2 0h6m4 0h0m2 0h1M463 521h0m2 0h1m2 0h1m4 0h11m2 0h52m2 0h4m2 0h2m3 0h1m7 0h0m13 0h0M467 522h0m2 0h4m3 0h6m2 0h58m2 0h2m2 0h2m2 0h1m3 0h0m2 0h0m3 0h0M467 523h3m2 0h0m2 0h2m2 0h65m2 0h1m3 0h0m2 0h2m2 0h2m5 0h0m2 0h0M461 524h1m2 0h0m5 0h1m2 0h0m2 0h1m2 0h67m3 0h0m4 0h0m2 0h1m14 0h0M464 525h0m6 0h1m2 0h2m2 0h0m2 0h61m2 0h1m2 0h1m2 0h0m2 0h0m3 0h0M468 526h0m3 0h1m3 0h0m2 0h0m2 0h67m2 0h2m3 0h0m4 0h0M464 527h0m2 0h5m2 0h0m2 0h0m2 0h5m3 0h3m2 0h29m2 0h15m2 0h4m2 0h1m2 0h1m3 0h2m5 0h2m2 0h0m2 0h0m10 0h0M468 528h1m5 0h0m2 0h0m2 0h5m2 0h59m2 0h2m3 0h0m4 0h0m3 0h0m2 0h0M470 529h1m4 0h1m2 0h56m2 0h1m2 0h0m2 0h2m2 0h1m2 0h0m3 0h3M466 530h1m5 0h3m2 0h45m2 0h1m2 0h13m4 0h1m2 0h0m5 0h0m2 0h0m2 0h0m5 0h0M460 531h0m4 0h0m3 0h0m2 0h1m3 0h2m2 0h0m3 0h52m2 0h3m2 0h4m2 0h6m3 0h0m2 0h0m2 0h0M469 532h0m5 0h2m2 0h0m2 0h3m2 0h50m2 0h2m2 0h1m3 0h0m5 0h0m3 0h0m3 0h1M465 533h0m8 0h0m2 0h1m6 0h46m2 0h5m2 0h1m3 0h3m3 0h2m4 0h1M465 534h1m3 0h0m4 0h1m4 0h3m2 0h1m2 0h0m2 0h4m2 0h26m2 0h4m2 0h9m2 0h1m2 0h0m2 0h3m2 0h0m11 0h0m6 0h0M473 535h0m6 0h5m2 0h2m2 0h36m2 0h3m2 0h1m3 0h0m2 0h5m2 0h0m2 0h0m2 0h0m6 0h0M468 536h0m4 0h0m4 0h1m2 0h0m2 0h2m3 0h5m2 0h10m3 0h14m2 0h6m4 0h6m2 0h0m2 0h0m7 0h0m6 0h0M467 537h0m2 0h1m4 0h0m2 0h1m2 0h3m3 0h2m2 0h44m2 0h2m2 0h0m7 0h0m5 0h0m2 0h0m2 0h0M460 538h0m4 0h1m3 0h0m2 0h0m7 0h1m2 0h0m2 0h3m2 0h0m2 0h4m3 0h4m2 0h13m2 0h13m4 0h9m2 0h1m5 0h1M466 539h0m6 0h0m3 0h0m4 0h1m2 0h0m4 0h0m2 0h8m2 0h4m2 0h12m2 0h18m4 0h1m2 0h0m2 0h0m3 0h0m4 0h0M473 540h0m6 0h0m3 0h0m4 0h10m2 0h4m2 0h14m2 0h1m2 0h6m3 0h2m2 0h3m2 0h0m7 0h0m17 0h0M474 541h0m3 0h2m4 0h0m2 0h2m3 0h0m3 0h0m2 0h3m3 0h2m2 0h0m2 0h2m2 0h6m2 0h0m2 0h0m2 0h0m3 0h0m2 0h3m3 0h2m2 0h0m5 0h0m12 0h0M474 542h0m8 0h1m3 0h3m2 0h1m2 0h4m2 0h0m2 0h0m2 0h0m3 0h7m2 0h2m4 0h1m3 0h0m2 0h2m2 0h0m2 0h0m2 0h2m3 0h0m2 0h1M481 543h1m4 0h0m3 0h0m2 0h0m2 0h1m2 0h0m2 0h0m3 0h0m3 0h11m2 0h2m4 0h1m2 0h0m4 0h1m3 0h0m3 0h0m4 0h0m4 0h0M473 544h0m14 0h2m5 0h0m2 0h1m2 0h0m6 0h2m2 0h0m2 0h2m2 0h2m4 0h0m2 0h1m2 0h1m3 0h3m11 0h0M480 545h0m4 0h0m2 0h0m4 0h0m4 0h1m2 0h1m2 0h0m2 0h1m2 0h4m4 0h0m3 0h3m2 0h0m2 0h0m3 0h0m2 0h0m2 0h0m2 0h0m5 0h0m14 0h0M484 546h2m3 0h0m3 0h0m4 0h0m3 0h1m3 0h1m3 0h3m2 0h0m2 0h0m2 0h2m4 0h0m3 0h1m5 0h0M487 547h0m3 0h0m2 0h2m6 0h0m5 0h1m3 0h0m4 0h2m7 0h0m3 0h1m3 0h0M474 548h0m11 0h0m8 0h0m3 0h1m7 0h0m2 0h1m2 0h0m2 0h2m5 0h0m2 0h0m2 0h0m3 0h0m3 0h2m2 0h0m2 0h0M479 549h0m12 0h0m5 0h1m14 0h0M500 550h0m3 0h0m2 0h0m7 0h1m2 0h1m2 0h1M482 551h0m31 0h0m17 0h0m7 0h0M456 552h0m4 0h0m7 0h0m26 0h0m4 0h1m2 0h0m4 0h0m6 0h0m13 0h0m5 0h0m4 0h0m12 0h0m2 0h0m2 0h0m29 0h0M463 553h0m2 0h0m2 0h3m8 0h0m3 0h0m5 0h0m16 0h1m3 0h0m6 0h1m5 0h0m4 0h0m3 0h0m9 0h0m2 0h0m4 0h0m6 0h0m2 0h1m2 0h1m4 0h1m2 0h1m9 0h0m7 0h3" stroke="#000" stroke-width="1.3" stroke-linecap="square" fill="none" transform="translate(0.5 0.5)"/>
<rect x="639.5" y="409.5" width="159" height="145" fill="none" stroke="#000" stroke-width="1"/>
<path d="M641.5 554.5v5.2M639.5 552.5h-4M646.5 554.5v5.2M639.5 548.5h-4M650.5 554.5v5.2M639.5 544.5h-4M653.5 554.5v5.2M639.5 541.5h-4M656.5 554.5v5.2M639.5 539.5h-4M658.5 554.5v5.2M639.5 537.5h-4M660.5 554.5v5.2M639.5 535.5h-4M662.5 554.5v8.5M639.5 533.5h-7.6M674.5 554.5v5.2M639.5 522.5h-4M681.5 554.5v5.2M639.5 516.5h-4M686.5 554.5v5.2M639.5 511.5h-4M690.5 554.5v5.2M639.5 508.5h-4M693.5 554.5v5.2M639.5 505.5h-4M696.5 554.5v5.2M639.5 503.5h-4M698.5 554.5v5.2M639.5 500.5h-4M700.5 554.5v5.2M639.5 499.5h-4M702.5 554.5v8.5M639.5 497.5h-7.6M714.5 554.5v5.2M639.5 486.5h-4M721.5 554.5v5.2M639.5 480.5h-4M726.5 554.5v5.2M639.5 475.5h-4M730.5 554.5v5.2M639.5 472.5h-4M733.5 554.5v5.2M639.5 469.5h-4M736.5 554.5v5.2M639.5 466.5h-4M738.5 554.5v5.2M639.5 464.5h-4M740.5 554.5v5.2M639.5 462.5h-4M742.5 554.5v8.5M639.5 461.5h-7.6M754.5 554.5v5.2M639.5 450.5h-4M761.5 554.5v5.2M639.5 443.5h-4M766.5 554.5v5.2M639.5 439.5h-4M770.5 554.5v5.2M639.5 435.5h-4M773.5 554.5v5.2M639.5 432.5h-4M776.5 554.5v5.2M639.5 430.5h-4M778.5 554.5v5.2M639.5 428.5h-4M780.5 554.5v5.2M639.5 426.5h-4M782.5 554.5v8.5M639.5 424.5h-7.6M794.5 554.5v5.2M639.5 413.5h-4" stroke="#111" stroke-width="1" fill="none"/>
<text x="662.4" y="572.8" font-size="8.6" font-family="Liberation Sans" text-anchor="middle" stroke="#000" stroke-width="0.25">10<tspan dy="-5" font-size="7">2</tspan></text>
<text x="630.7" y="532.2" font-size="8.6" font-family="Liberation Sans" text-anchor="middle" stroke="#000" stroke-width="0.25" transform="rotate(-90 630.7 532.2)">10<tspan dy="-5" font-size="7">2</tspan></text>
<text x="702.4" y="572.8" font-size="8.6" font-family="Liberation Sans" text-anchor="middle" stroke="#000" stroke-width="0.25">10<tspan dy="-5" font-size="7">3</tspan></text>
<text x="630.7" y="495.9" font-size="8.6" font-family="Liberation Sans" text-anchor="middle" stroke="#000" stroke-width="0.25" transform="rotate(-90 630.7 495.9)">10<tspan dy="-5" font-size="7">3</tspan></text>
<text x="742.5" y="572.8" font-size="8.6" font-family="Liberation Sans" text-anchor="middle" stroke="#000" stroke-width="0.25">10<tspan dy="-5" font-size="7">4</tspan></text>
<text x="630.7" y="459.6" font-size="8.6" font-family="Liberation Sans" text-anchor="middle" stroke="#000" stroke-width="0.25" transform="rotate(-90 630.7 459.6)">10<tspan dy="-5" font-size="7">4</tspan></text>
<text x="782.5" y="572.8" font-size="8.6" font-family="Liberation Sans" text-anchor="middle" stroke="#000" stroke-width="0.25">10<tspan dy="-5" font-size="7">5</tspan></text>
<text x="630.7" y="423.2" font-size="8.6" font-family="Liberation Sans" text-anchor="middle" stroke="#000" stroke-width="0.25" transform="rotate(-90 630.7 423.2)">10<tspan dy="-5" font-size="7">5</tspan></text>
<path d="M741 454h0M723 455h0M747 456h0m5 0h0M738 457h0m17 0h0M724 458h0m27 0h0m9 0h0M750 459h1M718 460h0m9 0h0m16 0h0m10 0h0M725 461h0m16 0h0m6 0h0M717 462h0m24 0h0m2 0h0m5 0h0m3 0h0M725 463h0m5 0h0m10 0h0m5 0h2m14 0h0M715 464h0m8 0h0m42 0h0m4 0h0M723 465h0m7 0h1m25 0h0m8 0h0M709 466h1m6 0h0m3 0h0m2 0h0m2 0h0m10 0h0m7 0h0M703 467h0m9 0h0m3 0h1m5 0h0m5 0h0m5 0h0m3 0h0m2 0h2m4 0h1m6 0h0m19 0h0M715 468h0m2 0h0m17 0h0m6 0h0m2 0h0m4 0h0m13 0h0m6 0h0M695 469h0m3 0h0m11 0h0m5 0h1m14 0h0m4 0h0m4 0h0m13 0h0M717 470h2m7 0h0m4 0h0m4 0h0m13 0h0m10 0h0M723 471h0m3 0h0m7 0h2m18 0h0m2 0h1M697 472h0m7 0h0m7 0h1m7 0h1m8 0h0m2 0h0m4 0h0m4 0h0m2 0h1m2 0h0m2 0h1m26 0h0M699 473h0m19 0h0m2 0h0m2 0h0m3 0h2m5 0h2m2 0h0m2 0h0m2 0h0m5 0h0m2 0h0m2 0h0m12 0h0M712 474h0m6 0h0m6 0h0m7 0h0m4 0h0m5 0h1m2 0h0m2 0h0m6 0h0m4 0h0M703 475h0m5 0h0m14 0h1m3 0h3m2 0h0m3 0h0m8 0h0m3 0h0m7 0h0m8 0h0m5 0h0M696 476h0m8 0h0m7 0h0m17 0h0m2 0h0m8 0h0m3 0h1m4 0h0m11 0h0m7 0h0M682 477h0m24 0h0m6 0h1m5 0h0m6 0h0m2 0h1m8 0h0m3 0h0m4 0h0m2 0h3m2 0h0m4 0h1m2 0h0m7 0h0M710 478h1m6 0h0m2 0h1m7 0h1m2 0h0m2 0h0m2 0h1m4 0h0m3 0h0m5 0h2m5 0h0m7 0h0m2 0h0M711 479h1m2 0h0m2 0h0m4 0h0m2 0h0m4 0h0m4 0h0m3 0h0m4 0h0m2 0h0m5 0h1m17 0h0m2 0h0m5 0h0m2 0h0M700 480h0m3 0h0m3 0h0m4 0h0m6 0h0m9 0h0m8 0h2m4 0h0m6 0h0m3 0h1m2 0h0m4 0h0m2 0h0m14 0h0M670 481h0m28 0h0m4 0h0m13 0h1m2 0h0m4 0h0m5 0h0m2 0h1m2 0h0m3 0h1m6 0h0m3 0h0m2 0h2m3 0h0m4 0h0m2 0h0m13 0h1M697 482h0m7 0h1m6 0h1m4 0h0m4 0h0m2 0h0m4 0h0m3 0h0m5 0h0m2 0h0m2 0h0m7 0h0m2 0h0m4 0h0m2 0h0m6 0h0m4 0h0m5 0h1M695 483h0m16 0h1m2 0h0m3 0h0m6 0h0m2 0h1m2 0h1m2 0h0m5 0h0m3 0h1m7 0h0m2 0h0m2 0h1m3 0h0m7 0h1m6 0h0M674 484h0m11 0h0m12 0h0m5 0h0m5 0h0m4 0h0m6 0h1m2 0h0m6 0h0m2 0h1m4 0h1m4 0h1m2 0h0m2 0h0m2 0h2m2 0h1m6 0h0m5 0h0m6 0h0m6 0h0m7 0h0M696 485h0m8 0h0m3 0h1m5 0h0m2 0h1m2 0h1m3 0h3m2 0h0m2 0h0m6 0h0m2 0h1m3 0h1m4 0h1m4 0h0m3 0h0m7 0h0m7 0h0M699 486h0m3 0h0m2 0h1m11 0h0m5 0h0m2 0h0m6 0h4m5 0h0m4 0h0m4 0h0m6 0h2m6 0h0m20 0h0M669 487h0m26 0h0m11 0h0m7 0h0m4 0h0m2 0h3m2 0h0m5 0h1m3 0h1m2 0h3m2 0h0m3 0h1m5 0h0m3 0h0m2 0h0m2 0h0m4 0h0M694 488h1m11 0h0m6 0h0m5 0h0m7 0h0m2 0h1m2 0h0m6 0h1m2 0h1m3 0h3m2 0h1m2 0h1m5 0h0m3 0h1m2 0h0m4 0h2m2 0h0m3 0h0m2 0h0m8 0h0M701 489h0m2 0h0m9 0h1m2 0h1m4 0h0m3 0h1m2 0h1m2 0h0m3 0h3m4 0h0m2 0h0m2 0h0m2 0h0m4 0h2m5 0h0m3 0h0M693 490h0m3 0h0m9 0h0m8 0h0m5 0h0m3 0h1m4 0h0m2 0h1m3 0h1m3 0h0m5 0h0m2 0h3m2 0h0m2 0h1m12 0h0m4 0h0M663 491h0m5 0h0m21 0h0m11 0h0m6 0h0m7 0h1m2 0h0m12 0h2m2 0h2m3 0h0m4 0h2m2 0h0m6 0h1m4 0h0M662 492h0m23 0h0m13 0h0m5 0h0m3 0h2m2 0h2m3 0h1m3 0h0m2 0h0m2 0h2m2 0h3m6 0h3m2 0h0m2 0h0m2 0h0m7 0h0m2 0h0m3 0h0m6 0h1m5 0h0M682 493h0m7 0h0m13 0h0m4 0h0m4 0h0m4 0h0m4 0h1m2 0h0m5 0h0m2 0h3m2 0h2m2 0h0m2 0h0m2 0h0m8 0h2m4 0h0m6 0h0M692 494h0m13 0h0m12 0h0m2 0h0m2 0h2m2 0h0m2 0h5m2 0h1m3 0h4m4 0h0m8 0h1m7 0h0m2 0h0m2 0h0m12 0h0M663 495h0m18 0h0m10 0h0m5 0h1m7 0h1m3 0h0m5 0h0m2 0h0m2 0h1m2 0h0m4 0h0m2 0h0m3 0h1m2 0h0m3 0h0m3 0h1m3 0h0m6 0h0m7 0h0m14 0h0m6 0h0m2 0h0M691 496h1m3 0h0m8 0h0m3 0h0m7 0h1m2 0h1m2 0h0m2 0h0m2 0h3m3 0h3m4 0h1m2 0h1m4 0h1m2 0h2m3 0h0m3 0h1m7 0h0m4 0h0m2 0h0m12 0h0M679 497h0m6 0h1m12 0h0m2 0h0m6 0h0m12 0h1m4 0h0m2 0h0m3 0h1m8 0h0m3 0h1m2 0h0m3 0h2m2 0h0m7 0h0m4 0h0m3 0h0m13 0h0M668 498h0m10 0h0m2 0h0m2 0h0m5 0h0m9 0h1m7 0h0m15 0h1m2 0h2m2 0h0m2 0h1m2 0h1m3 0h0m2 0h1m2 0h0m2 0h1m2 0h1m6 0h1m23 0h0M671 499h0m4 0h0m7 0h0m3 0h0m2 0h1m9 0h0m3 0h0m4 0h0m5 0h0m4 0h0m2 0h0m2 0h0m2 0h0m2 0h3m4 0h2m2 0h2m3 0h0m2 0h0m2 0h0m2 0h0m2 0h0m11 0h1M676 500h0m2 0h1m3 0h2m5 0h2m4 0h2m2 0h1m3 0h1m2 0h0m3 0h1m9 0h1m2 0h2m2 0h0m2 0h1m5 0h1m2 0h0m2 0h0m5 0h0m4 0h0m2 0h0m4 0h0m7 0h0M663 501h0m2 0h0m5 0h0m5 0h0m2 0h0m12 0h1m10 0h0m15 0h2m8 0h0m2 0h0m2 0h1m4 0h2m2 0h2m2 0h0m3 0h0m3 0h0m4 0h0m10 0h0m9 0h0M662 502h0m4 0h0m7 0h0m4 0h0m3 0h0m2 0h0m6 0h4m2 0h5m2 0h0m2 0h0m2 0h1m6 0h0m3 0h2m5 0h1m4 0h0m9 0h0m2 0h1m2 0h2m3 0h0m5 0h1m9 0h0m6 0h0M664 503h0m2 0h0m5 0h1m3 0h2m2 0h1m2 0h4m4 0h0m2 0h4m3 0h0m2 0h1m7 0h4m2 0h0m2 0h1m2 0h0m2 0h0m2 0h1m3 0h1m3 0h1m2 0h3m2 0h2m4 0h0m3 0h0m3 0h0m3 0h1m4 0h0M667 504h0m6 0h0m4 0h1m2 0h0m3 0h1m2 0h0m2 0h0m2 0h0m2 0h4m2 0h0m2 0h1m2 0h1m2 0h3m3 0h1m2 0h0m4 0h7m4 0h2m2 0h4m4 0h0m2 0h0m2 0h0m2 0h0m3 0h1m3 0h0m5 0h0m2 0h0m2 0h0m3 0h0m15 0h0M660 505h0m12 0h0m2 0h0m2 0h1m2 0h0m2 0h0m3 0h1m3 0h0m2 0h3m2 0h1m5 0h1m2 0h0m3 0h3m3 0h0m3 0h3m3 0h0m2 0h4m3 0h5m4 0h0m9 0h0m2 0h2m3 0h0m12 0h1m8 0h0M657 506h0m4 0h0m4 0h0m2 0h0m2 0h0m2 0h12m2 0h1m2 0h0m2 0h11m2 0h1m2 0h1m2 0h0m3 0h2m6 0h1m2 0h1m3 0h1m2 0h3m2 0h1m2 0h6m3 0h2m2 0h0m2 0h0m2 0h0m2 0h1m5 0h0M658 507h0m2 0h0m4 0h0m5 0h0m3 0h0m3 0h4m2 0h1m2 0h0m2 0h8m2 0h0m2 0h2m2 0h1m3 0h1m2 0h1m2 0h1m3 0h1m2 0h1m3 0h3m2 0h6m3 0h0m2 0h0m2 0h4m2 0h4m2 0h0m4 0h0m2 0h1m8 0h0M662 508h0m3 0h0m4 0h1m2 0h1m3 0h7m2 0h2m2 0h7m5 0h8m2 0h3m4 0h2m2 0h2m3 0h3m2 0h1m2 0h2m2 0h1m2 0h1m2 0h2m10 0h0m4 0h0M659 509h0m5 0h0m2 0h0m4 0h1m2 0h0m2 0h0m3 0h0m3 0h4m2 0h6m3 0h1m2 0h3m5 0h0m2 0h1m3 0h0m2 0h0m4 0h1m3 0h6m2 0h2m3 0h1m3 0h7m2 0h2m2 0h0m3 0h0m2 0h1m3 0h0m7 0h0m6 0h0M654 510h0m3 0h1m3 0h1m2 0h0m3 0h0m3 0h1m3 0h7m2 0h0m2 0h0m3 0h1m2 0h15m2 0h3m2 0h1m2 0h0m4 0h5m4 0h1m2 0h0m2 0h5m2 0h6m5 0h0m4 0h0m3 0h0M655 511h0m5 0h1m4 0h5m3 0h10m2 0h4m2 0h1m2 0h5m2 0h2m2 0h6m2 0h0m3 0h21m2 0h3m2 0h0m2 0h3m3 0h2m2 0h0m14 0h0m2 0h0M664 512h0m2 0h7m2 0h9m2 0h10m2 0h7m2 0h3m2 0h2m2 0h8m2 0h2m2 0h2m2 0h10m2 0h7m6 0h0m2 0h1M655 513h0m8 0h5m2 0h3m2 0h6m2 0h5m2 0h13m3 0h6m2 0h1m2 0h3m2 0h3m2 0h0m2 0h13m4 0h2m2 0h1m3 0h0m4 0h0M651 514h0m13 0h1m2 0h1m3 0h2m2 0h0m2 0h13m2 0h8m2 0h2m2 0h7m2 0h27m2 0h1m2 0h0m2 0h0m3 0h0m3 0h0m2 0h0m5 0h0M661 515h0m2 0h4m2 0h41m2 0h9m2 0h3m2 0h9m2 0h5m2 0h5m2 0h1m2 0h0m3 0h1m2 0h0M660 516h1m3 0h1m2 0h3m2 0h2m2 0h4m2 0h21m2 0h6m3 0h1m2 0h6m2 0h24m2 0h3m2 0h2m4 0h0m3 0h0m3 0h0M654 517h1m3 0h1m7 0h4m2 0h34m3 0h7m2 0h2m2 0h6m2 0h4m2 0h10m2 0h4m2 0h2m5 0h0m3 0h0M651 518h0m2 0h3m4 0h0m4 0h1m2 0h3m2 0h2m2 0h60m2 0h4m2 0h9m2 0h0m3 0h3M655 519h0m2 0h1m3 0h0m3 0h3m2 0h21m2 0h0m2 0h9m2 0h21m2 0h27m2 0h0m2 0h0m4 0h0M651 520h0m2 0h0m4 0h0m2 0h0m2 0h1m4 0h4m2 0h24m2 0h5m2 0h9m2 0h27m2 0h4m2 0h2m2 0h0m2 0h0m3 0h2m4 0h0M654 521h0m3 0h0m4 0h1m2 0h10m2 0h34m2 0h31m2 0h11m2 0h0m2 0h0m4 0h0M653 522h0m7 0h1m2 0h44m2 0h2m2 0h4m2 0h2m2 0h1m2 0h25m2 0h3m2 0h2m2 0h2M653 523h0m4 0h1m5 0h0m2 0h4m3 0h2m2 0h0m2 0h4m2 0h17m2 0h1m2 0h0m2 0h8m2 0h1m2 0h28m2 0h0m2 0h2m4 0h1m4 0h0m3 0h1M661 524h0m2 0h2m2 0h44m2 0h0m2 0h33m2 0h3m2 0h0m5 0h2m5 0h0m3 0h0M655 525h0m2 0h5m2 0h5m2 0h31m2 0h1m2 0h13m2 0h34m4 0h1M659 526h0m2 0h28m2 0h6m2 0h10m2 0h0m2 0h33m2 0h4m2 0h0m2 0h0m2 0h1M659 527h0m2 0h1m2 0h4m2 0h41m3 0h1m2 0h24m2 0h3m2 0h1m2 0h5m2 0h1m6 0h0M655 528h0m7 0h0m3 0h3m2 0h10m2 0h1m2 0h10m2 0h0m2 0h8m2 0h7m2 0h17m2 0h13m2 0h7m2 0h1m4 0h0M653 529h0m10 0h15m2 0h5m2 0h57m2 0h2m2 0h3m3 0h0m8 0h0m7 0h0M658 530h3m2 0h0m2 0h7m2 0h12m2 0h31m2 0h13m2 0h8m2 0h4m2 0h6m2 0h0M659 531h0m3 0h3m2 0h1m2 0h0m2 0h2m2 0h1m2 0h4m2 0h11m2 0h2m2 0h0m2 0h9m3 0h1m3 0h19m2 0h13m6 0h0m5 0h0M657 532h3m2 0h0m5 0h2m3 0h9m2 0h2m2 0h15m2 0h3m2 0h4m3 0h4m2 0h33m2 0h2m6 0h0m2 0h0M654 533h0m3 0h0m3 0h0m2 0h0m6 0h0m5 0h3m2 0h22m2 0h0m3 0h5m2 0h10m2 0h8m2 0h0m2 0h9m3 0h2m3 0h0m2 0h5m8 0h0M658 534h0m5 0h1m2 0h3m2 0h0m2 0h15m2 0h3m2 0h3m3 0h9m2 0h0m2 0h9m3 0h2m2 0h17m3 0h0m2 0h0m2 0h1m3 0h0m3 0h0m2 0h1m2 0h0M660 535h0m2 0h0m2 0h0m2 0h2m5 0h2m3 0h4m4 0h3m2 0h5m2 0h3m2 0h0m6 0h10m2 0h0m2 0h13m2 0h1m3 0h0m2 0h3m2 0h0m2 0h0m5 0h1m5 0h1M661 536h0m6 0h1m2 0h1m2 0h2m2 0h1m2 0h1m2 0h7m2 0h2m3 0h0m3 0h1m2 0h0m3 0h1m3 0h2m2 0h1m4 0h3m2 0h5m2 0h7m3 0h2m2 0h4m3 0h0m2 0h2m4 0h0m2 0h0M654 537h0m7 0h1m2 0h0m2 0h0m2 0h0m6 0h2m2 0h1m2 0h4m2 0h4m2 0h7m4 0h1m2 0h6m2 0h0m2 0h2m2 0h8m2 0h5m4 0h0m2 0h0m2 0h1m2 0h2m4 0h0m3 0h1m4 0h0M659 538h0m2 0h0m8 0h0m2 0h3m4 0h0m2 0h1m2 0h0m3 0h0m2 0h2m2 0h1m2 0h2m3 0h0m2 0h1m2 0h1m3 0h0m3 0h2m3 0h0m2 0h4m2 0h3m2 0h1m2 0h4m2 0h4m2 0h5m2 0h2m5 0h0M660 539h0m6 0h0m5 0h0m3 0h1m4 0h4m2 0h1m3 0h0m2 0h0m2 0h0m4 0h1m6 0h0m3 0h1m3 0h1m3 0h2m2 0h0m4 0h4m2 0h0m2 0h0m2 0h6m3 0h1m4 0h1m5 0h0m6 0h0m3 0h0M669 540h0m2 0h0m2 0h1m5 0h0m2 0h3m2 0h1m2 0h7m6 0h0m5 0h0m6 0h0m2 0h1m3 0h0m3 0h3m2 0h5m2 0h1m2 0h3m2 0h0m2 0h3m2 0h2m3 0h0m2 0h0m5 0h0m2 0h0M668 541h0m4 0h0m8 0h0m4 0h0m3 0h3m2 0h0m4 0h0m4 0h2m2 0h2m2 0h0m2 0h0m2 0h1m11 0h11m2 0h2m2 0h0m2 0h1m4 0h1m4 0h1m8 0h0M668 542h0m5 0h0m2 0h0m2 0h1m5 0h2m3 0h0m3 0h2m5 0h0m4 0h0m2 0h2m2 0h1m5 0h1m7 0h0m5 0h0m2 0h0m4 0h0m3 0h0m2 0h3m3 0h1m3 0h2m2 0h1m3 0h0m2 0h0m2 0h0M669 543h0m10 0h1m18 0h0m2 0h0m3 0h0m3 0h3m10 0h1m2 0h10m2 0h4m2 0h1m5 0h1m4 0h2M667 544h0m4 0h0m8 0h1m9 0h0m3 0h0m4 0h2m5 0h2m3 0h0m4 0h1m3 0h0m3 0h0m4 0h2m4 0h2m3 0h1m7 0h0m2 0h0m7 0h0m2 0h0m3 0h0M674 545h0m10 0h0m3 0h0m12 0h0m6 0h0m4 0h1m5 0h3m4 0h1m3 0h1m2 0h0m8 0h1m4 0h2m7 0h0M677 546h1m4 0h1m2 0h0m2 0h0m3 0h0m8 0h0m6 0h0m12 0h0m2 0h0m4 0h0m5 0h1m3 0h0m2 0h3m2 0h0m4 0h0m4 0h1m3 0h0M685 547h0m3 0h0m10 0h0m19 0h0m3 0h0m6 0h2m5 0h0m5 0h2m3 0h1m5 0h0M661 548h0m5 0h0m41 0h0m21 0h0m2 0h1m2 0h1m4 0h1m8 0h0M665 549h0m14 0h1m48 0h0m9 0h1m5 0h0m3 0h1M704 550h0m2 0h0m16 0h0m6 0h0m12 0h0m3 0h0m2 0h0M647 551h1m13 0h0m7 0h0m4 0h0m4 0h0m10 0h0m5 0h0m15 0h0m5 0h1m6 0h0m9 0h0m4 0h1m2 0h0m3 0h1m10 0h0m6 0h0M646 552h0m3 0h0m2 0h0m4 0h0m2 0h0m2 0h0m3 0h0m5 0h1m3 0h0m2 0h2m2 0h1m2 0h0m2 0h0m2 0h0m6 0h0m2 0h1m2 0h2m15 0h0m2 0h0m5 0h0m3 0h2m4 0h0m3 0h0m5 0h1m4 0h0m10 0h0m3 0h0m2 0h0" stroke="#000" stroke-width="1.3" stroke-linecap="square" fill="none" transform="translate(0.5 0.5)"/>
<rect x="59.5" y="649.5" width="157" height="142" fill="none" stroke="#000" stroke-width="1"/>
<path d="M60.5 791.5v5.2M59.5 790.5h-4M65.5 791.5v5.2M59.5 785.5h-4M69.5 791.5v5.2M59.5 782.5h-4M72.5 791.5v5.2M59.5 779.5h-4M75.5 791.5v5.2M59.5 776.5h-4M77.5 791.5v5.2M59.5 774.5h-4M79.5 791.5v5.2M59.5 773.5h-4M81.5 791.5v8.5M59.5 771.5h-7.6M93.5 791.5v5.2M59.5 760.5h-4M100.5 791.5v5.2M59.5 754.5h-4M105.5 791.5v5.2M59.5 750.5h-4M109.5 791.5v5.2M59.5 746.5h-4M112.5 791.5v5.2M59.5 743.5h-4M114.5 791.5v5.2M59.5 741.5h-4M117.5 791.5v5.2M59.5 739.5h-4M119.5 791.5v5.2M59.5 737.5h-4M121.5 791.5v8.5M59.5 735.5h-7.6M132.5 791.5v5.2M59.5 725.5h-4M139.5 791.5v5.2M59.5 719.5h-4M144.5 791.5v5.2M59.5 714.5h-4M148.5 791.5v5.2M59.5 711.5h-4M151.5 791.5v5.2M59.5 708.5h-4M154.5 791.5v5.2M59.5 705.5h-4M156.5 791.5v5.2M59.5 703.5h-4M158.5 791.5v5.2M59.5 702.5h-4M160.5 791.5v8.5M59.5 700.5h-7.6M172.5 791.5v5.2M59.5 689.5h-4M179.5 791.5v5.2M59.5 683.5h-4M184.5 791.5v5.2M59.5 679.5h-4M188.5 791.5v5.2M59.5 675.5h-4M191.5 791.5v5.2M59.5 672.5h-4M194.5 791.5v5.2M59.5 670.5h-4M196.5 791.5v5.2M59.5 668.5h-4M198.5 791.5v5.2M59.5 666.5h-4M200.5 791.5v8.5M59.5 664.5h-7.6M212.5 791.5v5.2M59.5 654.5h-4" stroke="#111" stroke-width="1" fill="none"/>
<text x="81.4" y="810.1" font-size="8.6" font-family="Liberation Sans" text-anchor="middle" stroke="#000" stroke-width="0.25">10<tspan dy="-5" font-size="7">2</tspan></text>
<text x="50" y="770" font-size="8.6" font-family="Liberation Sans" text-anchor="middle" stroke="#000" stroke-width="0.25" transform="rotate(-90 50 770)">10<tspan dy="-5" font-size="7">2</tspan></text>
<text x="121" y="810.1" font-size="8.6" font-family="Liberation Sans" text-anchor="middle" stroke="#000" stroke-width="0.25">10<tspan dy="-5" font-size="7">3</tspan></text>
<text x="50" y="734.5" font-size="8.6" font-family="Liberation Sans" text-anchor="middle" stroke="#000" stroke-width="0.25" transform="rotate(-90 50 734.5)">10<tspan dy="-5" font-size="7">3</tspan></text>
<text x="160.6" y="810.1" font-size="8.6" font-family="Liberation Sans" text-anchor="middle" stroke="#000" stroke-width="0.25">10<tspan dy="-5" font-size="7">4</tspan></text>
<text x="50" y="699" font-size="8.6" font-family="Liberation Sans" text-anchor="middle" stroke="#000" stroke-width="0.25" transform="rotate(-90 50 699)">10<tspan dy="-5" font-size="7">4</tspan></text>
<text x="200.2" y="810.1" font-size="8.6" font-family="Liberation Sans" text-anchor="middle" stroke="#000" stroke-width="0.25">10<tspan dy="-5" font-size="7">5</tspan></text>
<text x="50" y="663.5" font-size="8.6" font-family="Liberation Sans" text-anchor="middle" stroke="#000" stroke-width="0.25" transform="rotate(-90 50 663.5)">10<tspan dy="-5" font-size="7">5</tspan></text>
<path d="M121 746h0m11 0h0M121 747h0M118 748h0m4 0h0m2 0h0M113 749h0m20 0h0m3 0h0M121 750h0m4 0h0m3 0h1M111 751h0m6 0h0m3 0h0m2 0h2m2 0h3m2 0h0m2 0h0m4 0h0M111 752h0m2 0h0m2 0h4m2 0h0m2 0h0m2 0h2m3 0h1m3 0h1m4 0h0M111 753h1m2 0h4m2 0h14m4 0h0M90 754h0m23 0h0m2 0h0m2 0h9m2 0h5m2 0h0m2 0h1M114 755h20m3 0h1M109 756h1m4 0h22m2 0h0M71 757h0m38 0h0m2 0h27m2 0h1M84 758h0m22 0h4m2 0h23m2 0h1m2 0h0M106 759h2m2 0h0m2 0h27m2 0h0M106 760h0m2 0h35M93 761h0m15 0h0m2 0h29m2 0h2M105 762h0m2 0h2m2 0h28m3 0h2M105 763h40m2 0h0M105 764h0m4 0h33m2 0h0m3 0h0M71 765h0m34 0h2m2 0h33m2 0h0M79 766h0m21 0h0m5 0h0m2 0h36M81 767h0m24 0h35M80 768h0m11 0h0m11 0h0m4 0h0m2 0h31M102 769h0m5 0h3m2 0h26m5 0h0M108 770h32M108 771h2m2 0h24m2 0h2m2 0h0M108 772h28m3 0h2M69 773h0m37 0h0m4 0h1m2 0h19m3 0h1m2 0h0m2 0h1m4 0h0M87 774h0m19 0h1m5 0h0m2 0h26M108 775h0m3 0h1m2 0h4m2 0h7m2 0h6m3 0h1M77 776h0m29 0h1m5 0h10m2 0h0m2 0h5m2 0h0m2 0h1m2 0h1M109 777h0m2 0h11m2 0h11m2 0h0m2 0h1m6 0h0M105 778h0m5 0h2m2 0h2m2 0h0m2 0h8m3 0h3m2 0h0m9 0h1M82 779h0m31 0h1m2 0h2m2 0h4m5 0h0m4 0h0M105 780h0m12 0h0m2 0h1m2 0h0m2 0h0m2 0h0m2 0h1m4 0h1m2 0h0m3 0h0M109 781h0m4 0h2m3 0h0m2 0h3m6 0h0m2 0h1m2 0h0m6 0h0M115 782h0m4 0h0m2 0h2m2 0h0m3 0h1m6 0h0m4 0h0M114 783h0m2 0h0m3 0h1m5 0h2m3 0h0m4 0h0M116 784h2m2 0h0m5 0h2m2 0h0m6 0h1M108 785h0m3 0h2m11 0h0m3 0h0m6 0h0m3 0h1M111 786h0m3 0h0m2 0h0m5 0h0m3 0h0m14 0h0M112 787h0m3 0h0m2 0h0m6 0h0m7 0h0M110 788h1m5 0h0m15 0h0m5 0h0m4 0h0M113 789h0m11 0h0m2 0h1m4 0h1M118 790h0m12 0h0m2 0h1" stroke="#000" stroke-width="1.3" stroke-linecap="square" fill="none" transform="translate(0.5 0.5)"/>
<rect x="246.5" y="649.5" width="158" height="144" fill="none" stroke="#000" stroke-width="1"/>
<path d="M247.5 793.5v5.2M246.5 791.5h-4M252.5 793.5v5.2M246.5 786.5h-4M256.5 793.5v5.2M246.5 783.5h-4M259.5 793.5v5.2M246.5 780.5h-4M262.5 793.5v5.2M246.5 778.5h-4M264.5 793.5v5.2M246.5 776.5h-4M266.5 793.5v5.2M246.5 774.5h-4M268.5 793.5v8.5M246.5 772.5h-7.6M280.5 793.5v5.2M246.5 761.5h-4M287.5 793.5v5.2M246.5 755.5h-4M292.5 793.5v5.2M246.5 751.5h-4M296.5 793.5v5.2M246.5 747.5h-4M299.5 793.5v5.2M246.5 744.5h-4M302.5 793.5v5.2M246.5 742.5h-4M304.5 793.5v5.2M246.5 740.5h-4M306.5 793.5v5.2M246.5 738.5h-4M308.5 793.5v8.5M246.5 736.5h-7.6M320.5 793.5v5.2M246.5 726.5h-4M327.5 793.5v5.2M246.5 719.5h-4M332.5 793.5v5.2M246.5 715.5h-4M336.5 793.5v5.2M246.5 711.5h-4M339.5 793.5v5.2M246.5 708.5h-4M341.5 793.5v5.2M246.5 706.5h-4M344.5 793.5v5.2M246.5 704.5h-4M346.5 793.5v5.2M246.5 702.5h-4M348.5 793.5v8.5M246.5 700.5h-7.6M360.5 793.5v5.2M246.5 690.5h-4M367.5 793.5v5.2M246.5 683.5h-4M372.5 793.5v5.2M246.5 679.5h-4M375.5 793.5v5.2M246.5 675.5h-4M379.5 793.5v5.2M246.5 673.5h-4M381.5 793.5v5.2M246.5 670.5h-4M383.5 793.5v5.2M246.5 668.5h-4M386.5 793.5v5.2M246.5 666.5h-4M387.5 793.5v8.5M246.5 665.5h-7.6M399.5 793.5v5.2M246.5 654.5h-4" stroke="#111" stroke-width="1" fill="none"/>
<text x="268.7" y="811.5" font-size="8.6" font-family="Liberation Sans" text-anchor="middle" stroke="#000" stroke-width="0.25">10<tspan dy="-5" font-size="7">2</tspan></text>
<text x="237.2" y="771.2" font-size="8.6" font-family="Liberation Sans" text-anchor="middle" stroke="#000" stroke-width="0.25" transform="rotate(-90 237.2 771.2)">10<tspan dy="-5" font-size="7">2</tspan></text>
<text x="308.4" y="811.5" font-size="8.6" font-family="Liberation Sans" text-anchor="middle" stroke="#000" stroke-width="0.25">10<tspan dy="-5" font-size="7">3</tspan></text>
<text x="237.2" y="735.3" font-size="8.6" font-family="Liberation Sans" text-anchor="middle" stroke="#000" stroke-width="0.25" transform="rotate(-90 237.2 735.3)">10<tspan dy="-5" font-size="7">3</tspan></text>
<text x="348.1" y="811.5" font-size="8.6" font-family="Liberation Sans" text-anchor="middle" stroke="#000" stroke-width="0.25">10<tspan dy="-5" font-size="7">4</tspan></text>
<text x="237.2" y="699.5" font-size="8.6" font-family="Liberation Sans" text-anchor="middle" stroke="#000" stroke-width="0.25" transform="rotate(-90 237.2 699.5)">10<tspan dy="-5" font-size="7">4</tspan></text>
<text x="387.8" y="811.5" font-size="8.6" font-family="Liberation Sans" text-anchor="middle" stroke="#000" stroke-width="0.25">10<tspan dy="-5" font-size="7">5</tspan></text>
<text x="237.2" y="663.6" font-size="8.6" font-family="Liberation Sans" text-anchor="middle" stroke="#000" stroke-width="0.25" transform="rotate(-90 237.2 663.6)">10<tspan dy="-5" font-size="7">5</tspan></text>
<path d="M306 738h0M324 741h0m10 0h0M329 742h0M323 743h0m13 0h0m14 0h0M311 744h0M322 745h0M330 746h0m17 0h0m2 0h0m6 0h0M302 747h0m9 0h0m3 0h0m8 0h0m5 0h2M317 748h0m6 0h0m2 0h2m5 0h3m9 0h0m25 0h0M300 749h0m11 0h0m3 0h0m3 0h1m2 0h0m3 0h0m3 0h0m2 0h3m8 0h0m7 0h0M303 750h0m6 0h0m5 0h1m6 0h0m3 0h5m2 0h1m2 0h0m3 0h2m2 0h0m4 0h0m2 0h3m8 0h0m4 0h0M312 751h1m2 0h4m4 0h7m2 0h3m4 0h0m2 0h0m4 0h2m5 0h0m2 0h0M306 752h1m2 0h1m5 0h0m2 0h0m2 0h0m2 0h0m3 0h2m2 0h0m2 0h2m2 0h1m3 0h1m3 0h3m2 0h0m2 0h2m13 0h0M304 753h0m2 0h1m2 0h2m3 0h0m3 0h1m2 0h2m3 0h2m2 0h7m2 0h0m2 0h0m4 0h0m2 0h0m2 0h2m2 0h0m11 0h0M294 754h0m10 0h1m2 0h0m3 0h0m3 0h0m2 0h5m2 0h13m2 0h4m3 0h7m3 0h0m7 0h0m6 0h1M277 755h0m23 0h0m3 0h0m3 0h0m3 0h4m3 0h23m2 0h1m2 0h1m2 0h1m2 0h0m2 0h0m2 0h0M288 756h0m23 0h6m2 0h19m2 0h0m2 0h4m2 0h6m13 0h0M294 757h0m3 0h0m4 0h0m2 0h3m2 0h4m2 0h9m2 0h5m2 0h15m2 0h2m4 0h0m2 0h0m5 0h0m3 0h0m7 0h0M295 758h0m7 0h1m3 0h0m2 0h48m17 0h0M292 759h0m8 0h1m2 0h2m2 0h0m2 0h41m2 0h5m3 0h0M286 760h0m6 0h0m7 0h0m3 0h0m2 0h3m2 0h49m3 0h0m3 0h1M291 761h0m5 0h0m4 0h0m2 0h0m2 0h1m2 0h1m2 0h36m2 0h1m2 0h6m2 0h0M305 762h41m2 0h1m2 0h1m3 0h1m6 0h0m2 0h0m3 0h0M289 763h0m6 0h1m7 0h0m2 0h49m2 0h1m3 0h1m7 0h0M290 764h0m5 0h0m7 0h1m3 0h46m2 0h5m3 0h0M266 765h0m18 0h0m10 0h1m3 0h0m2 0h1m2 0h0m2 0h11m2 0h36m3 0h4m7 0h0m12 0h0M296 766h0m2 0h3m3 0h32m2 0h7m2 0h1m2 0h2m2 0h3m4 0h0m2 0h0m5 0h0M282 767h0m13 0h0m2 0h0m2 0h1m2 0h0m3 0h2m2 0h38m2 0h7m3 0h3m6 0h0M290 768h0m9 0h0m3 0h1m2 0h4m2 0h0m2 0h35m2 0h6m4 0h0m3 0h2m5 0h0m7 0h0M295 769h1m4 0h0m3 0h49m2 0h0m2 0h3m3 0h1m5 0h0m6 0h2M278 770h0m18 0h1m2 0h3m4 0h1m3 0h42m5 0h0m3 0h0m2 0h0M296 771h1m3 0h0m2 0h4m2 0h1m2 0h42m2 0h1m2 0h1m2 0h0m2 0h0m2 0h0m3 0h0M296 772h0m3 0h0m2 0h0m2 0h0m2 0h1m2 0h4m2 0h37m2 0h0m4 0h0m3 0h1m4 0h0m6 0h0M285 773h0m6 0h1m3 0h0m6 0h0m2 0h9m2 0h40m3 0h0m2 0h0m4 0h0M298 774h0m4 0h0m2 0h0m3 0h2m2 0h9m3 0h22m2 0h7m2 0h3m14 0h0M295 775h1m3 0h0m6 0h5m2 0h2m2 0h16m2 0h4m2 0h0m2 0h5m2 0h0m2 0h2m8 0h1m3 0h0M259 776h0m48 0h1m2 0h1m2 0h5m3 0h18m2 0h3m2 0h7m7 0h0m8 0h1M296 777h0m8 0h3m3 0h1m2 0h14m2 0h10m2 0h4m4 0h1m3 0h1m2 0h0m9 0h0M303 778h0m2 0h0m3 0h1m2 0h6m2 0h6m2 0h12m2 0h3m2 0h3m2 0h0m4 0h0m8 0h0M295 779h0m14 0h1m2 0h0m3 0h1m2 0h0m2 0h3m2 0h8m2 0h3m3 0h5m4 0h1m2 0h1m9 0h0m6 0h0m8 0h0M304 780h0m6 0h1m2 0h0m4 0h0m3 0h0m3 0h0m2 0h2m3 0h1m3 0h1m3 0h1m2 0h0m6 0h1m10 0h0m3 0h0m3 0h0M309 781h0m3 0h0m4 0h1m4 0h0m2 0h1m2 0h0m2 0h2m4 0h0m2 0h3m2 0h0m3 0h0m3 0h1m22 0h0M290 782h0m22 0h0m2 0h1m2 0h7m2 0h1m2 0h4m2 0h2m3 0h2m2 0h0m5 0h1m4 0h0m4 0h0m4 0h0m5 0h0M293 783h0m24 0h0m2 0h1m3 0h0m4 0h1m4 0h2m2 0h0M317 784h0m8 0h0m4 0h0m8 0h0m11 0h0m3 0h1M314 785h0m7 0h1m21 0h0M299 786h0m8 0h0m16 0h0m9 0h0M307 787h0m8 0h0m14 0h1m32 0h1M315 788h1m10 0h0m16 0h1m10 0h0M320 789h0m3 0h0m3 0h0M292 790h0m19 0h0m2 0h0m5 0h0m2 0h0m21 0h0M290 791h0m3 0h1m2 0h0m5 0h0m2 0h1m5 0h0m2 0h1m4 0h0m6 0h0m3 0h0m2 0h2m8 0h0m5 0h0m3 0h0m2 0h0m5 0h0m2 0h1" stroke="#000" stroke-width="1.3" stroke-linecap="square" fill="none" transform="translate(0.5 0.5)"/>
<rect x="57.5" y="826.5" width="156" height="143" fill="none" stroke="#000" stroke-width="1"/>
<path d="M58.5 969.5v5.2M57.5 967.5h-4M63.5 969.5v5.2M57.5 962.5h-4M67.5 969.5v5.2M57.5 959.5h-4M70.5 969.5v5.2M57.5 956.5h-4M73.5 969.5v5.2M57.5 954.5h-4M75.5 969.5v5.2M57.5 952.5h-4M77.5 969.5v5.2M57.5 950.5h-4M79.5 969.5v8.5M57.5 948.5h-7.6M91.5 969.5v5.2M57.5 937.5h-4M98.5 969.5v5.2M57.5 931.5h-4M103.5 969.5v5.2M57.5 927.5h-4M107.5 969.5v5.2M57.5 923.5h-4M110.5 969.5v5.2M57.5 920.5h-4M112.5 969.5v5.2M57.5 918.5h-4M115.5 969.5v5.2M57.5 916.5h-4M117.5 969.5v5.2M57.5 914.5h-4M118.5 969.5v8.5M57.5 912.5h-7.6M130.5 969.5v5.2M57.5 902.5h-4M137.5 969.5v5.2M57.5 896.5h-4M142.5 969.5v5.2M57.5 891.5h-4M146.5 969.5v5.2M57.5 888.5h-4M149.5 969.5v5.2M57.5 885.5h-4M152.5 969.5v5.2M57.5 882.5h-4M154.5 969.5v5.2M57.5 880.5h-4M156.5 969.5v5.2M57.5 879.5h-4M158.5 969.5v8.5M57.5 877.5h-7.6M170.5 969.5v5.2M57.5 866.5h-4M177.5 969.5v5.2M57.5 860.5h-4M182.5 969.5v5.2M57.5 855.5h-4M185.5 969.5v5.2M57.5 852.5h-4M189.5 969.5v5.2M57.5 849.5h-4M191.5 969.5v5.2M57.5 847.5h-4M193.5 969.5v5.2M57.5 845.5h-4M195.5 969.5v5.2M57.5 843.5h-4M197.5 969.5v8.5M57.5 841.5h-7.6M209.5 969.5v5.2M57.5 831.5h-4" stroke="#111" stroke-width="1" fill="none"/>
<text x="79.4" y="987.3" font-size="8.6" font-family="Liberation Sans" text-anchor="middle" stroke="#000" stroke-width="0.25">10<tspan dy="-5" font-size="7">2</tspan></text>
<text x="48.1" y="947.1" font-size="8.6" font-family="Liberation Sans" text-anchor="middle" stroke="#000" stroke-width="0.25" transform="rotate(-90 48.1 947.1)">10<tspan dy="-5" font-size="7">2</tspan></text>
<text x="118.9" y="987.3" font-size="8.6" font-family="Liberation Sans" text-anchor="middle" stroke="#000" stroke-width="0.25">10<tspan dy="-5" font-size="7">3</tspan></text>
<text x="48.1" y="911.5" font-size="8.6" font-family="Liberation Sans" text-anchor="middle" stroke="#000" stroke-width="0.25" transform="rotate(-90 48.1 911.5)">10<tspan dy="-5" font-size="7">3</tspan></text>
<text x="158.3" y="987.3" font-size="8.6" font-family="Liberation Sans" text-anchor="middle" stroke="#000" stroke-width="0.25">10<tspan dy="-5" font-size="7">4</tspan></text>
<text x="48.1" y="875.9" font-size="8.6" font-family="Liberation Sans" text-anchor="middle" stroke="#000" stroke-width="0.25" transform="rotate(-90 48.1 875.9)">10<tspan dy="-5" font-size="7">4</tspan></text>
<text x="197.7" y="987.3" font-size="8.6" font-family="Liberation Sans" text-anchor="middle" stroke="#000" stroke-width="0.25">10<tspan dy="-5" font-size="7">5</tspan></text>
<text x="48.1" y="840.2" font-size="8.6" font-family="Liberation Sans" text-anchor="middle" stroke="#000" stroke-width="0.25" transform="rotate(-90 48.1 840.2)">10<tspan dy="-5" font-size="7">5</tspan></text>
<path d="M140 884h0M130 886h0m8 0h0M149 888h0m21 0h0M144 893h0M180 894h0M117 897h0M188 898h0M194 899h0M167 901h0m18 0h0M166 902h0m22 0h0M142 903h0M177 904h0M139 905h0m6 0h0m16 0h0M144 906h0m2 0h0M133 907h0m2 0h0m3 0h1m24 0h0m2 0h0M135 908h0m25 0h0M132 909h0m5 0h0m7 0h0m4 0h0m2 0h0m2 0h0m3 0h1m2 0h0M146 910h0m3 0h0m14 0h0m5 0h0m11 0h0M135 911h0m4 0h0m2 0h0m10 0h0m6 0h0m10 0h0M124 912h0m10 0h0m2 0h0m5 0h0m9 0h1m2 0h0m2 0h0m2 0h0m2 0h0m12 0h1M123 913h0m7 0h0m6 0h0m5 0h0m13 0h1m8 0h0m5 0h0m3 0h0m18 0h0M127 914h1m2 0h0m5 0h0m3 0h2m7 0h1m4 0h0m5 0h0m3 0h0m40 0h0M125 915h0m5 0h0m15 0h0m13 0h0m6 0h0M122 916h1m3 0h0m4 0h0m6 0h0m5 0h2m2 0h2m3 0h2m2 0h0m3 0h0m15 0h0m8 0h1M114 917h0m13 0h0m3 0h0m3 0h1m5 0h0m7 0h3m4 0h1m7 0h0m3 0h1m4 0h0m8 0h0M120 918h0m4 0h2m2 0h0m2 0h0m2 0h0m2 0h0m2 0h0m2 0h0m5 0h2m4 0h1m3 0h3m3 0h1m2 0h0m2 0h0m3 0h0m9 0h0M116 919h1m18 0h1m3 0h1m3 0h0m2 0h0m2 0h0m3 0h2m2 0h3m2 0h0m3 0h1m3 0h0m2 0h0m2 0h0m7 0h0m4 0h0M119 920h0m3 0h0m7 0h1m2 0h3m2 0h0m3 0h0m3 0h0m7 0h0m2 0h7m11 0h0m7 0h0m2 0h0M118 921h0m6 0h0m5 0h0m2 0h0m2 0h0m3 0h2m5 0h4m2 0h2m9 0h0m2 0h0m10 0h0m6 0h0m5 0h0M92 922h0m26 0h0m4 0h0m8 0h0m5 0h1m3 0h1m2 0h1m5 0h5m3 0h1m8 0h0m16 0h0M110 923h0m4 0h0m11 0h0m4 0h0m2 0h3m7 0h0m4 0h3m4 0h1m3 0h0m3 0h0m2 0h4m5 0h0M98 924h0m12 0h0m3 0h0m7 0h0m7 0h0m2 0h4m2 0h1m3 0h2m6 0h0m3 0h1m3 0h0m4 0h0m3 0h1m3 0h0M116 925h0m6 0h0m2 0h1m3 0h1m3 0h0m2 0h4m2 0h1m2 0h1m3 0h1m2 0h3m2 0h0m5 0h0m3 0h0m2 0h1m10 0h0M111 926h0m8 0h0m3 0h0m4 0h1m3 0h3m2 0h3m2 0h2m2 0h2m4 0h0m2 0h1m2 0h3m2 0h0m2 0h0m3 0h0m3 0h0m8 0h0m8 0h0M112 927h0m8 0h1m2 0h0m2 0h1m2 0h1m2 0h15m3 0h3m2 0h0m2 0h1m10 0h1m5 0h0m7 0h0m2 0h0m3 0h0M114 928h0m6 0h0m3 0h2m3 0h4m2 0h11m3 0h1m2 0h3m3 0h0m3 0h0m3 0h0m2 0h0m7 0h0M115 929h0m3 0h5m2 0h7m2 0h4m3 0h2m2 0h5m2 0h4m3 0h0m3 0h3m5 0h1M102 930h0m12 0h1m2 0h5m2 0h1m3 0h4m2 0h2m2 0h2m2 0h2m2 0h3m2 0h0m2 0h0m2 0h3m2 0h0m2 0h2m5 0h1M103 931h0m4 0h0m7 0h1m2 0h0m3 0h2m2 0h18m2 0h9m2 0h3m4 0h0m3 0h0m2 0h0m3 0h1m6 0h0M116 932h0m3 0h0m4 0h5m2 0h21m2 0h3m2 0h1m2 0h0m2 0h0m2 0h0m7 0h0M101 933h0m6 0h0m9 0h0m2 0h0m3 0h2m2 0h3m2 0h18m2 0h0m3 0h0m11 0h0m3 0h0M110 934h0m6 0h0m2 0h1m2 0h3m2 0h25m5 0h0m2 0h0m6 0h0m6 0h0m3 0h0M100 935h0m8 0h0m6 0h0m2 0h0m2 0h2m2 0h19m3 0h4m2 0h2m2 0h0m2 0h1m2 0h2m3 0h0m2 0h0m8 0h0M119 936h0m2 0h23m2 0h3m2 0h6m2 0h0m3 0h1m5 0h0m4 0h1M101 937h0m8 0h1m5 0h4m2 0h23m2 0h2m2 0h2m5 0h0m8 0h0m2 0h0m2 0h0m3 0h0M100 938h0m9 0h0m6 0h5m2 0h25m2 0h1m2 0h1m7 0h0m2 0h1m2 0h0m3 0h0m4 0h0M104 939h0m5 0h0m2 0h0m2 0h1m2 0h0m2 0h28m2 0h4m3 0h4m5 0h1m2 0h0m26 0h0M108 940h1m2 0h0m2 0h3m2 0h32m5 0h1m4 0h1m6 0h0M103 941h0m7 0h1m2 0h3m2 0h27m2 0h5m4 0h0m8 0h1m10 0h0M103 942h1m8 0h0m2 0h0m2 0h0m2 0h29m2 0h2m4 0h1m7 0h1m9 0h0M90 943h0m7 0h0m3 0h0m12 0h1m2 0h2m2 0h0m2 0h0m2 0h23m2 0h1m2 0h2m3 0h0m2 0h1m3 0h0M105 944h0m2 0h0m7 0h1m2 0h1m2 0h21m2 0h1m2 0h4m2 0h1m2 0h0m6 0h1m4 0h0M100 945h0m3 0h0m6 0h0m8 0h5m2 0h23m2 0h0m7 0h1m4 0h0m3 0h0M97 946h0m4 0h0m14 0h1m2 0h1m2 0h8m2 0h11m2 0h3m2 0h4m2 0h0m2 0h0m2 0h0m2 0h0m2 0h1m7 0h0M81 947h0m14 0h0m15 0h0m2 0h0m2 0h3m3 0h0m2 0h6m2 0h4m3 0h5m2 0h0m3 0h0m4 0h1m4 0h0m7 0h0m3 0h0m3 0h0M111 948h1m2 0h0m3 0h0m2 0h4m2 0h6m2 0h3m4 0h0m3 0h3m2 0h0m10 0h0m5 0h0M107 949h0m4 0h1m2 0h1m2 0h0m2 0h1m3 0h6m2 0h1m2 0h5m3 0h0m2 0h2m4 0h1m2 0h0m3 0h1M104 950h1m4 0h0m5 0h0m3 0h4m2 0h1m2 0h4m2 0h2m2 0h3m5 0h1m3 0h1m8 0h0m3 0h0m6 0h0M104 951h0m9 0h1m4 0h2m2 0h9m2 0h1m4 0h1m5 0h1m3 0h0m5 0h0M90 952h0m8 0h1m5 0h0m6 0h1m2 0h0m3 0h0m2 0h0m2 0h0m3 0h0m2 0h2m5 0h2m2 0h0m2 0h0m2 0h0m2 0h0m5 0h0m7 0h0m2 0h0m3 0h0M104 953h0m5 0h0m7 0h1m6 0h4m2 0h0m2 0h0m2 0h0m3 0h4m4 0h2m5 0h0M104 954h0m13 0h2m2 0h0m3 0h4m2 0h0m3 0h0m2 0h0m4 0h0m2 0h0m3 0h0m13 0h0M101 955h0m13 0h0m4 0h0m2 0h0m6 0h0m2 0h0m2 0h0m3 0h1m9 0h0m3 0h0m6 0h0M86 956h0m22 0h0m9 0h0m7 0h0m4 0h1m3 0h1m7 0h1m5 0h2M104 957h0m3 0h0m6 0h0m5 0h0m4 0h0m3 0h0m7 0h2M114 958h0m6 0h0m3 0h0m3 0h0m5 0h0m2 0h0m3 0h1M110 959h0m13 0h1m6 0h0m4 0h0m2 0h2m6 0h0M81 960h0m46 0h0m5 0h0m12 0h0m2 0h0m4 0h1M113 961h0m29 0h0m4 0h0M113 962h0m8 0h0m11 0h0m6 0h0M131 963h0M119 964h0m7 0h0M123 965h0m6 0h0M102 966h0m15 0h0m11 0h0m7 0h0m12 0h0m21 0h0M103 967h0m4 0h0m3 0h1m2 0h0m3 0h0m4 0h0m5 0h0m2 0h0m3 0h0m17 0h3m10 0h0m6 0h0" stroke="#000" stroke-width="1.3" stroke-linecap="square" fill="none" transform="translate(0.5 0.5)"/>
<rect x="245.5" y="827.5" width="156" height="142" fill="none" stroke="#000" stroke-width="1"/>
<path d="M247.5 969.5v5.2M245.5 967.5h-4M252.5 969.5v5.2M245.5 963.5h-4M255.5 969.5v5.2M245.5 959.5h-4M258.5 969.5v5.2M245.5 956.5h-4M261.5 969.5v5.2M245.5 954.5h-4M263.5 969.5v5.2M245.5 952.5h-4M265.5 969.5v5.2M245.5 950.5h-4M267.5 969.5v8.5M245.5 949.5h-7.6M279.5 969.5v5.2M245.5 938.5h-4M286.5 969.5v5.2M245.5 932.5h-4M291.5 969.5v5.2M245.5 927.5h-4M295.5 969.5v5.2M245.5 924.5h-4M298.5 969.5v5.2M245.5 921.5h-4M300.5 969.5v5.2M245.5 919.5h-4M303.5 969.5v5.2M245.5 917.5h-4M305.5 969.5v5.2M245.5 915.5h-4M306.5 969.5v8.5M245.5 913.5h-7.6M318.5 969.5v5.2M245.5 903.5h-4M325.5 969.5v5.2M245.5 896.5h-4M330.5 969.5v5.2M245.5 892.5h-4M334.5 969.5v5.2M245.5 888.5h-4M337.5 969.5v5.2M245.5 886.5h-4M339.5 969.5v5.2M245.5 883.5h-4M342.5 969.5v5.2M245.5 881.5h-4M344.5 969.5v5.2M245.5 879.5h-4M346.5 969.5v8.5M245.5 878.5h-7.6M357.5 969.5v5.2M245.5 867.5h-4M364.5 969.5v5.2M245.5 861.5h-4M369.5 969.5v5.2M245.5 857.5h-4M373.5 969.5v5.2M245.5 853.5h-4M376.5 969.5v5.2M245.5 850.5h-4M379.5 969.5v5.2M245.5 848.5h-4M381.5 969.5v5.2M245.5 846.5h-4M383.5 969.5v5.2M245.5 844.5h-4M385.5 969.5v8.5M245.5 842.5h-7.6M397.5 969.5v5.2M245.5 832.5h-4" stroke="#111" stroke-width="1" fill="none"/>
<text x="267.6" y="987.6" font-size="8.6" font-family="Liberation Sans" text-anchor="middle" stroke="#000" stroke-width="0.25">10<tspan dy="-5" font-size="7">2</tspan></text>
<text x="236.4" y="947.6" font-size="8.6" font-family="Liberation Sans" text-anchor="middle" stroke="#000" stroke-width="0.25" transform="rotate(-90 236.4 947.6)">10<tspan dy="-5" font-size="7">2</tspan></text>
<text x="306.8" y="987.6" font-size="8.6" font-family="Liberation Sans" text-anchor="middle" stroke="#000" stroke-width="0.25">10<tspan dy="-5" font-size="7">3</tspan></text>
<text x="236.4" y="912.2" font-size="8.6" font-family="Liberation Sans" text-anchor="middle" stroke="#000" stroke-width="0.25" transform="rotate(-90 236.4 912.2)">10<tspan dy="-5" font-size="7">3</tspan></text>
<text x="346" y="987.6" font-size="8.6" font-family="Liberation Sans" text-anchor="middle" stroke="#000" stroke-width="0.25">10<tspan dy="-5" font-size="7">4</tspan></text>
<text x="236.4" y="876.8" font-size="8.6" font-family="Liberation Sans" text-anchor="middle" stroke="#000" stroke-width="0.25" transform="rotate(-90 236.4 876.8)">10<tspan dy="-5" font-size="7">4</tspan></text>
<text x="385.2" y="987.6" font-size="8.6" font-family="Liberation Sans" text-anchor="middle" stroke="#000" stroke-width="0.25">10<tspan dy="-5" font-size="7">5</tspan></text>
<text x="236.4" y="841.4" font-size="8.6" font-family="Liberation Sans" text-anchor="middle" stroke="#000" stroke-width="0.25" transform="rotate(-90 236.4 841.4)">10<tspan dy="-5" font-size="7">5</tspan></text>
<path d="M353 876h0M331 877h0M362 878h0M349 880h0M359 881h0m8 0h0M369 882h0M315 883h0m16 0h0m20 0h0m12 0h0M318 884h0m27 0h0M369 885h0M308 887h0m42 0h0m12 0h0M332 888h0m4 0h0m12 0h0m33 0h0M309 889h0m39 0h0m2 0h0m2 0h0M336 890h0M335 891h1m2 0h0m9 0h0m14 0h0M336 892h0m5 0h0m2 0h0m24 0h0M349 893h0m2 0h0m7 0h0M366 894h0M319 895h0m13 0h0m2 0h0m2 0h0m12 0h1m2 0h0m20 0h0M316 896h0m10 0h0m16 0h0m3 0h0m31 0h0M327 897h0m12 0h0m5 0h0m10 0h0m7 0h0m16 0h0M342 898h0m11 0h0M323 899h0m10 0h0m5 0h0m8 0h0m10 0h0m4 0h0m15 0h0M323 900h0m8 0h0m14 0h0m2 0h1M310 901h0m9 0h0m3 0h0m9 0h0m12 0h0m11 0h0m3 0h0m4 0h0M326 902h1m9 0h0m2 0h0m5 0h1m3 0h0m4 0h0m3 0h0m10 0h0m4 0h0M296 903h0m27 0h0m5 0h0m3 0h0m4 0h0m2 0h0m9 0h1m4 0h0m14 0h0M320 904h0m11 0h0m4 0h0m2 0h0m3 0h1m7 0h0m12 0h0m2 0h0M332 905h0m4 0h0m3 0h0m5 0h0m3 0h2m8 0h1m3 0h3M317 906h0m4 0h1m13 0h1m3 0h1m4 0h0m2 0h0m6 0h0m5 0h0m4 0h0M326 907h0m9 0h0m5 0h0m5 0h1m2 0h2m7 0h0m32 0h0M321 908h0m10 0h0m9 0h0m3 0h0m7 0h0m2 0h0m2 0h0M301 909h0m4 0h0m2 0h0m14 0h0m19 0h1m3 0h0m4 0h0m7 0h0m10 0h0M319 910h0m8 0h0m15 0h0m4 0h1m3 0h0m3 0h2m2 0h0m4 0h0M318 911h0m2 0h0m9 0h0m5 0h0m2 0h0m2 0h0m4 0h2m2 0h0m5 0h0m2 0h0m5 0h0m7 0h0m4 0h0m5 0h0M284 912h0m11 0h0m22 0h1m4 0h1m11 0h0m6 0h0m2 0h2m10 0h2m23 0h0M322 913h0m6 0h2m6 0h0m2 0h1m4 0h1m5 0h2m4 0h0m3 0h0m2 0h0m25 0h0M324 914h0m6 0h1m2 0h0m2 0h0m4 0h0m4 0h0m6 0h2m3 0h0m2 0h0m2 0h0m3 0h0m3 0h0M306 915h0m3 0h0m10 0h0m7 0h0m3 0h0m3 0h0m6 0h2m2 0h0m2 0h0m4 0h0m11 0h0M316 916h0m2 0h0m3 0h0m2 0h1m7 0h0m2 0h1m5 0h0m3 0h2m6 0h1m2 0h1m3 0h1m3 0h0m10 0h1m3 0h0m2 0h0m14 0h0M300 917h0m9 0h0m2 0h0m2 0h1m4 0h0m3 0h1m2 0h0m2 0h2m4 0h0m3 0h0m3 0h0m3 0h5m2 0h0m3 0h0m2 0h0m2 0h0m2 0h0M319 918h1m4 0h0m5 0h0m4 0h0m2 0h1m6 0h4m2 0h0m2 0h0m2 0h0m4 0h2m3 0h0m2 0h1m11 0h0M314 919h0m5 0h0m2 0h0m2 0h0m5 0h0m5 0h0m2 0h0m2 0h0m2 0h0m3 0h1m3 0h0m3 0h5m6 0h0m4 0h1m3 0h0M320 920h1m3 0h0m3 0h2m2 0h0m2 0h0m2 0h1m2 0h0m3 0h5m6 0h0m9 0h2M305 921h0m8 0h0m2 0h2m11 0h5m4 0h0m4 0h2m2 0h0m2 0h3m3 0h0m2 0h0m3 0h0m2 0h0m9 0h0m5 0h0M318 922h0m2 0h0m2 0h1m3 0h0m2 0h1m2 0h2m2 0h1m2 0h0m4 0h0m2 0h0m3 0h1m2 0h0m4 0h0m4 0h0M290 923h0m13 0h0m3 0h0m9 0h0m2 0h2m7 0h7m3 0h1m2 0h0m2 0h0m2 0h1m3 0h3m3 0h0m3 0h0m3 0h0m2 0h0m8 0h0M311 924h0m11 0h2m3 0h0m2 0h0m3 0h1m2 0h1m2 0h0m2 0h1m2 0h0m2 0h5m3 0h0m2 0h0m2 0h1m2 0h0m2 0h2m6 0h1m8 0h0m9 0h0M309 925h0m3 0h1m6 0h0m3 0h0m3 0h1m2 0h1m2 0h7m3 0h0m3 0h3m6 0h1m3 0h2m3 0h0m7 0h0m2 0h0M289 926h0m17 0h2m12 0h2m2 0h2m2 0h5m2 0h10m2 0h1m2 0h2m2 0h0m2 0h0m6 0h1m4 0h0m7 0h0M308 927h0m4 0h0m6 0h2m2 0h0m2 0h2m3 0h1m2 0h5m2 0h5m2 0h0m2 0h0m2 0h2m3 0h0m2 0h0m3 0h0m4 0h0m11 0h0M308 928h0m6 0h0m5 0h0m6 0h4m3 0h0m2 0h0m2 0h0m2 0h4m2 0h2m2 0h0m2 0h0m3 0h0m2 0h1m2 0h0m3 0h0m7 0h0M300 929h0m6 0h0m10 0h0m5 0h1m2 0h0m2 0h1m2 0h7m2 0h1m2 0h4m3 0h0m2 0h1m3 0h1m2 0h0m5 0h3M295 930h0m5 0h0m6 0h3m3 0h0m3 0h3m6 0h0m2 0h1m2 0h0m2 0h4m2 0h1m2 0h0m4 0h0m2 0h1m3 0h0m3 0h0m6 0h0M294 931h0m10 0h2m10 0h0m2 0h7m2 0h0m2 0h2m2 0h0m3 0h0m2 0h3m3 0h0m2 0h0m2 0h1m4 0h2m2 0h1m9 0h0m6 0h0M282 932h0m23 0h0m2 0h0m4 0h0m2 0h0m2 0h3m3 0h0m2 0h3m2 0h0m2 0h4m2 0h1m2 0h1m2 0h2m2 0h1m2 0h0m2 0h0m4 0h1m2 0h0m10 0h0m2 0h1M308 933h1m2 0h1m5 0h0m2 0h0m3 0h8m2 0h9m2 0h5m2 0h0m6 0h1m2 0h1m2 0h0m3 0h0m9 0h0m8 0h0M304 934h1m4 0h0m3 0h0m2 0h0m2 0h15m2 0h0m2 0h3m3 0h1m2 0h3m3 0h0m2 0h2m2 0h1m4 0h1m2 0h2m6 0h2M304 935h0m2 0h0m4 0h3m4 0h0m2 0h0m2 0h11m2 0h0m2 0h4m2 0h1m2 0h2m4 0h0m2 0h0m5 0h1m2 0h0m2 0h0m2 0h0m3 0h1M301 936h0m2 0h0m6 0h0m3 0h3m3 0h2m3 0h2m2 0h1m3 0h1m2 0h1m2 0h7m2 0h2m2 0h4m3 0h0m3 0h0m9 0h0m6 0h0M308 937h0m3 0h0m3 0h0m5 0h0m3 0h1m3 0h1m3 0h2m2 0h0m2 0h2m2 0h0m2 0h8m3 0h2m2 0h0m2 0h0m3 0h0m6 0h2m5 0h0M308 938h0m2 0h1m2 0h0m4 0h0m2 0h2m2 0h0m2 0h0m2 0h8m2 0h12m2 0h2m2 0h0m2 0h0m3 0h0m2 0h0M281 939h0m2 0h0m24 0h0m2 0h1m4 0h8m3 0h1m3 0h0m3 0h6m2 0h7m3 0h2m2 0h0m2 0h3m4 0h0m4 0h1M281 940h0m21 0h0m5 0h0m2 0h0m4 0h0m3 0h0m2 0h0m2 0h3m3 0h10m2 0h7m2 0h0m2 0h2m3 0h2m2 0h1m3 0h1m7 0h0M305 941h2m5 0h0m2 0h4m2 0h0m2 0h0m2 0h0m4 0h0m2 0h2m2 0h2m2 0h0m2 0h2m2 0h4m2 0h0m4 0h1m2 0h0m4 0h0m3 0h0M298 942h1m7 0h0m2 0h1m5 0h0m2 0h1m2 0h0m5 0h0m3 0h5m5 0h11m2 0h3m2 0h1m2 0h1m5 0h0m10 0h0m2 0h0M304 943h0m2 0h0m11 0h0m2 0h1m4 0h0m2 0h0m2 0h1m2 0h0m2 0h6m2 0h4m2 0h1m3 0h0m2 0h0m2 0h0m3 0h0m2 0h0m5 0h0M300 944h0m3 0h0m2 0h0m4 0h0m3 0h0m5 0h0m2 0h2m2 0h8m2 0h4m2 0h0m2 0h1m3 0h1m2 0h4m3 0h0m4 0h1M304 945h1m4 0h0m2 0h2m3 0h1m2 0h4m2 0h1m2 0h0m2 0h0m2 0h8m2 0h0m3 0h0m4 0h2m2 0h1m2 0h0m6 0h0m3 0h1m6 0h0M298 946h0m4 0h1m9 0h0m4 0h0m4 0h3m3 0h2m2 0h0m2 0h3m2 0h0m2 0h1m2 0h0m3 0h0m2 0h1m2 0h0m3 0h0m2 0h0m11 0h0m5 0h0M302 947h0m3 0h1m2 0h0m2 0h0m4 0h2m2 0h5m2 0h0m3 0h2m2 0h0m2 0h1m2 0h2m2 0h3m2 0h3m2 0h0m7 0h0m5 0h0m31 0h0M306 948h0m9 0h0m6 0h2m2 0h7m2 0h3m2 0h2m4 0h0m12 0h1M301 949h3m2 0h0m3 0h0m7 0h2m4 0h3m2 0h0m2 0h0m2 0h6m4 0h0m2 0h4m2 0h0m3 0h2m6 0h0m9 0h0M300 950h1m10 0h0m2 0h2m2 0h2m2 0h1m3 0h4m2 0h1m2 0h0m4 0h4m4 0h0m3 0h0m2 0h0m3 0h0m13 0h0m4 0h0M311 951h0m5 0h0m2 0h4m2 0h1m2 0h2m2 0h1m3 0h14m3 0h0m2 0h2M310 952h0m2 0h1m3 0h1m2 0h1m2 0h0m2 0h1m2 0h1m2 0h3m3 0h3m2 0h0m3 0h1m2 0h0m4 0h2m5 0h0M304 953h0m2 0h0m6 0h1m2 0h0m2 0h6m3 0h0m4 0h0m3 0h0m2 0h0m2 0h1m3 0h3m2 0h2m2 0h3m14 0h0M306 954h1m3 0h0m6 0h0m2 0h1m2 0h7m4 0h0m2 0h3m2 0h0m2 0h0m7 0h2m9 0h0M297 955h0m10 0h0m6 0h0m12 0h1m2 0h0m3 0h1m2 0h0m2 0h1m2 0h0m2 0h2m2 0h0m2 0h0m3 0h1m6 0h1M311 956h0m5 0h0m3 0h0m4 0h1m3 0h0m2 0h0m4 0h0m3 0h1m5 0h0m2 0h3m2 0h1m28 0h0M307 957h0m2 0h0m3 0h0m7 0h0m4 0h0m2 0h0m2 0h2m3 0h1m2 0h4m5 0h0m3 0h1m9 0h0M294 958h0m7 0h0m7 0h0m4 0h0m3 0h0m5 0h0m2 0h1m2 0h4m2 0h0m2 0h2m2 0h0m5 0h0m2 0h0m4 0h0m3 0h0m7 0h0M312 959h0m5 0h3m4 0h0m2 0h0m3 0h1m3 0h0m4 0h1m2 0h0m3 0h0m4 0h0m4 0h0m15 0h0M305 960h0m15 0h1m6 0h1m10 0h0m5 0h1m7 0h1M298 961h0m17 0h0m2 0h3m13 0h1m2 0h1m6 0h0m3 0h0m2 0h0M310 962h0m2 0h1m2 0h0m8 0h0m3 0h0m2 0h0m2 0h0m3 0h0m3 0h0m2 0h0m7 0h0m3 0h0m12 0h0m14 0h0M306 963h0m4 0h0m4 0h0m5 0h0m12 0h0m19 0h0m3 0h0M316 964h0m9 0h0m4 0h0m4 0h0m20 0h0M321 965h0m12 0h0m4 0h1m10 0h0M317 966h0m2 0h0m9 0h0m5 0h1m15 0h2m2 0h1m3 0h0M304 967h0m2 0h2m7 0h0m5 0h1m2 0h1m4 0h3m7 0h0m4 0h0m4 0h0m4 0h3m4 0h0" stroke="#000" stroke-width="1.3" stroke-linecap="square" fill="none" transform="translate(0.5 0.5)"/>
<rect x="476.5" y="652.5" width="159" height="144" fill="none" stroke="#000" stroke-width="1"/>
<path d="M478.5 796.5v5.2M476.5 794.5h-4M483.5 796.5v5.2M476.5 789.5h-4M487.5 796.5v5.2M476.5 786.5h-4M490.5 796.5v5.2M476.5 783.5h-4M492.5 796.5v5.2M476.5 780.5h-4M495.5 796.5v5.2M476.5 778.5h-4M497.5 796.5v5.2M476.5 777.5h-4M499.5 796.5v8.5M476.5 775.5h-7.6M511.5 796.5v5.2M476.5 764.5h-4M518.5 796.5v5.2M476.5 758.5h-4M523.5 796.5v5.2M476.5 753.5h-4M526.5 796.5v5.2M476.5 750.5h-4M530.5 796.5v5.2M476.5 747.5h-4M532.5 796.5v5.2M476.5 744.5h-4M535.5 796.5v5.2M476.5 742.5h-4M537.5 796.5v5.2M476.5 741.5h-4M538.5 796.5v8.5M476.5 739.5h-7.6M550.5 796.5v5.2M476.5 728.5h-4M557.5 796.5v5.2M476.5 722.5h-4M562.5 796.5v5.2M476.5 717.5h-4M566.5 796.5v5.2M476.5 714.5h-4M569.5 796.5v5.2M476.5 711.5h-4M572.5 796.5v5.2M476.5 708.5h-4M574.5 796.5v5.2M476.5 706.5h-4M576.5 796.5v5.2M476.5 705.5h-4M578.5 796.5v8.5M476.5 703.5h-7.6M590.5 796.5v5.2M476.5 692.5h-4M597.5 796.5v5.2M476.5 686.5h-4M602.5 796.5v5.2M476.5 681.5h-4M606.5 796.5v5.2M476.5 678.5h-4M609.5 796.5v5.2M476.5 675.5h-4M612.5 796.5v5.2M476.5 672.5h-4M614.5 796.5v5.2M476.5 670.5h-4M616.5 796.5v5.2M476.5 669.5h-4M618.5 796.5v8.5M476.5 667.5h-7.6M630.5 796.5v5.2M476.5 656.5h-4" stroke="#111" stroke-width="1" fill="none"/>
<text x="499.1" y="814.3" font-size="8.6" font-family="Liberation Sans" text-anchor="middle" stroke="#000" stroke-width="0.25">10<tspan dy="-5" font-size="7">2</tspan></text>
<text x="467.5" y="773.9" font-size="8.6" font-family="Liberation Sans" text-anchor="middle" stroke="#000" stroke-width="0.25" transform="rotate(-90 467.5 773.9)">10<tspan dy="-5" font-size="7">2</tspan></text>
<text x="538.9" y="814.3" font-size="8.6" font-family="Liberation Sans" text-anchor="middle" stroke="#000" stroke-width="0.25">10<tspan dy="-5" font-size="7">3</tspan></text>
<text x="467.5" y="737.9" font-size="8.6" font-family="Liberation Sans" text-anchor="middle" stroke="#000" stroke-width="0.25" transform="rotate(-90 467.5 737.9)">10<tspan dy="-5" font-size="7">3</tspan></text>
<text x="578.8" y="814.3" font-size="8.6" font-family="Liberation Sans" text-anchor="middle" stroke="#000" stroke-width="0.25">10<tspan dy="-5" font-size="7">4</tspan></text>
<text x="467.5" y="701.9" font-size="8.6" font-family="Liberation Sans" text-anchor="middle" stroke="#000" stroke-width="0.25" transform="rotate(-90 467.5 701.9)">10<tspan dy="-5" font-size="7">4</tspan></text>
<text x="618.7" y="814.3" font-size="8.6" font-family="Liberation Sans" text-anchor="middle" stroke="#000" stroke-width="0.25">10<tspan dy="-5" font-size="7">5</tspan></text>
<text x="467.5" y="665.9" font-size="8.6" font-family="Liberation Sans" text-anchor="middle" stroke="#000" stroke-width="0.25" transform="rotate(-90 467.5 665.9)">10<tspan dy="-5" font-size="7">5</tspan></text>
<path d="M553 704h0M545 708h0M502 710h0M550 711h0M556 712h0m24 0h0M562 713h0M558 714h0M580 715h0m8 0h0M558 716h0m33 0h0M532 717h0m21 0h0m22 0h0m22 0h0M499 719h0m49 0h0m14 0h0m11 0h0M541 720h0m7 0h0M559 721h0M536 722h0m5 0h0m22 0h0m9 0h0M528 723h0m14 0h0m14 0h0m2 0h1m6 0h0m14 0h0m5 0h0M528 724h1m10 0h1m3 0h0m4 0h0m3 0h0m9 0h0m5 0h1m14 0h0m8 0h0m4 0h0M536 725h0m2 0h0m4 0h0m10 0h0m6 0h0m18 0h0m22 0h0m4 0h0M528 726h0m22 0h1m3 0h0m5 0h1m2 0h3m10 0h0m25 0h0M521 727h0m16 0h1m3 0h0m3 0h0m9 0h1m6 0h0m18 0h0m34 0h0m14 0h0M521 728h0m21 0h0m11 0h0m6 0h0m2 0h2m3 0h1m2 0h0m2 0h0m3 0h0m4 0h2m8 0h0m4 0h0m25 0h0M515 729h0m14 0h0m10 0h0m7 0h0m3 0h0m3 0h0m7 0h1m2 0h0m9 0h0m4 0h1m9 0h0m5 0h1m11 0h0M519 730h0m6 0h0m5 0h0m3 0h0m3 0h0m5 0h2m2 0h0m2 0h1m2 0h0m2 0h2m2 0h0m3 0h0m2 0h0m3 0h1m7 0h2m10 0h0m3 0h2m2 0h2M515 731h0m2 0h3m2 0h0m2 0h0m2 0h0m2 0h2m2 0h2m2 0h1m2 0h0m5 0h3m3 0h0m3 0h0m4 0h1m6 0h0m2 0h2m3 0h1m4 0h0m3 0h0m6 0h0M517 732h0m2 0h2m4 0h10m2 0h0m2 0h0m2 0h2m2 0h0m2 0h7m2 0h0m2 0h0m2 0h0m3 0h0m5 0h2m2 0h0m2 0h0m3 0h0m9 0h1m5 0h0m4 0h0m10 0h0M508 733h0m6 0h0m3 0h2m3 0h1m2 0h0m4 0h0m2 0h3m3 0h0m2 0h17m7 0h5m6 0h4m7 0h0m2 0h0m2 0h0m2 0h0m2 0h0m4 0h0M512 734h1m3 0h32m6 0h0m2 0h0m2 0h1m3 0h3m2 0h0m2 0h0m3 0h1m4 0h0m3 0h0m3 0h0m4 0h2m2 0h0m8 0h3M505 735h2m3 0h0m3 0h19m2 0h15m2 0h4m2 0h0m2 0h2m2 0h0m4 0h0m3 0h2m6 0h1m7 0h0m4 0h2m11 0h0m5 0h0M507 736h4m2 0h6m2 0h31m2 0h4m2 0h1m3 0h5m2 0h1m3 0h0m4 0h0m2 0h0m3 0h0m7 0h0m21 0h0M501 737h0m2 0h0m3 0h0m2 0h0m3 0h4m2 0h48m2 0h0m2 0h1m2 0h2m2 0h0m3 0h3m3 0h0m3 0h2m3 0h1m2 0h0m7 0h0m3 0h0m15 0h1M501 738h1m3 0h1m2 0h43m2 0h0m2 0h1m2 0h6m2 0h5m9 0h1m2 0h2m5 0h0m7 0h0m3 0h0M498 739h0m4 0h5m3 0h1m2 0h40m2 0h7m2 0h6m2 0h3m4 0h1m2 0h1m5 0h2m7 0h0m4 0h0m27 0h0M497 740h0m2 0h1m6 0h3m3 0h45m2 0h0m2 0h4m2 0h1m2 0h1m2 0h0m2 0h5m2 0h0m3 0h0m7 0h1m5 0h1m10 0h0m3 0h0M499 741h0m2 0h10m2 0h4m2 0h46m2 0h0m2 0h0m3 0h0m2 0h5m4 0h3m5 0h0m7 0h0M498 742h0m6 0h0m2 0h1m2 0h48m2 0h6m3 0h1m4 0h2m3 0h0m2 0h1m4 0h0m6 0h1M498 743h0m2 0h0m3 0h0m3 0h60m3 0h1m5 0h0m2 0h0m2 0h6m7 0h0m5 0h0m5 0h0M500 744h0m3 0h6m2 0h0m2 0h46m2 0h0m2 0h0m2 0h2m3 0h0m2 0h2m2 0h4m2 0h0m2 0h1m3 0h0m11 0h0M498 745h0m5 0h0m3 0h2m2 0h3m2 0h44m2 0h8m2 0h0m2 0h2m4 0h0m6 0h0m2 0h0m5 0h0m2 0h1m6 0h2M502 746h0m2 0h0m2 0h2m2 0h47m2 0h2m2 0h3m4 0h3m2 0h0m3 0h0m4 0h1m2 0h3m2 0h1M500 747h1m2 0h4m3 0h29m2 0h11m2 0h1m4 0h2m2 0h0m3 0h0m5 0h0m3 0h1m5 0h1M505 748h0m3 0h0m3 0h2m2 0h0m2 0h5m2 0h32m2 0h4m2 0h1m2 0h1m2 0h1m2 0h4m6 0h0m2 0h0m3 0h0m4 0h0m2 0h1M506 749h0m4 0h1m2 0h0m2 0h36m5 0h0m2 0h4m2 0h1m2 0h0m3 0h1m2 0h0m4 0h0m4 0h0m2 0h0m12 0h0M505 750h2m5 0h1m2 0h0m2 0h22m2 0h9m2 0h2m2 0h3m3 0h0m2 0h3m4 0h0m19 0h1M498 751h0m7 0h1m4 0h8m2 0h0m2 0h6m2 0h9m2 0h1m2 0h4m2 0h4m2 0h0m2 0h5m2 0h0m2 0h0m2 0h0m2 0h0m2 0h0m13 0h1m4 0h0M496 752h0m15 0h0m3 0h1m2 0h0m4 0h5m2 0h6m2 0h2m2 0h0m2 0h0m2 0h0m2 0h0m2 0h3m2 0h2m3 0h1m2 0h1m2 0h0m2 0h2m2 0h1m5 0h1m20 0h0M510 753h2m2 0h1m3 0h0m2 0h4m2 0h7m2 0h1m2 0h9m2 0h1m3 0h1m2 0h1m10 0h0m2 0h1m2 0h2m6 0h0m5 0h0m11 0h0M515 754h0m6 0h0m5 0h1m2 0h1m3 0h0m3 0h0m3 0h1m5 0h3m3 0h0m7 0h2m16 0h0m8 0h0m3 0h2M523 755h1m4 0h0m3 0h0m4 0h2m3 0h0m3 0h0m14 0h0m8 0h0m9 0h0m11 0h0M523 756h0m22 0h1m6 0h0M529 757h0m34 0h1m3 0h0m12 0h0M552 758h1m3 0h0m16 0h0M544 759h0m14 0h0M531 760h0m18 0h0m50 0h0M557 761h0m22 0h0M565 762h0M542 763h0m4 0h0M533 764h0M564 765h0M559 766h0M520 770h0M548 771h0M543 778h0M487 794h0" stroke="#000" stroke-width="1.3" stroke-linecap="square" fill="none" transform="translate(0.5 0.5)"/>
<rect x="665.5" y="652.5" width="158" height="143" fill="none" stroke="#000" stroke-width="1"/>
<path d="M667.5 795.5v5.2M665.5 793.5h-4M672.5 795.5v5.2M665.5 789.5h-4M676.5 795.5v5.2M665.5 785.5h-4M679.5 795.5v5.2M665.5 783.5h-4M682.5 795.5v5.2M665.5 780.5h-4M684.5 795.5v5.2M665.5 778.5h-4M686.5 795.5v5.2M665.5 776.5h-4M688.5 795.5v8.5M665.5 775.5h-7.6M700.5 795.5v5.2M665.5 764.5h-4M707.5 795.5v5.2M665.5 758.5h-4M712.5 795.5v5.2M665.5 753.5h-4M716.5 795.5v5.2M665.5 750.5h-4M719.5 795.5v5.2M665.5 747.5h-4M721.5 795.5v5.2M665.5 745.5h-4M724.5 795.5v5.2M665.5 742.5h-4M726.5 795.5v5.2M665.5 741.5h-4M727.5 795.5v8.5M665.5 739.5h-7.6M739.5 795.5v5.2M665.5 728.5h-4M746.5 795.5v5.2M665.5 722.5h-4M751.5 795.5v5.2M665.5 717.5h-4M755.5 795.5v5.2M665.5 714.5h-4M758.5 795.5v5.2M665.5 711.5h-4M761.5 795.5v5.2M665.5 709.5h-4M763.5 795.5v5.2M665.5 707.5h-4M765.5 795.5v5.2M665.5 705.5h-4M767.5 795.5v8.5M665.5 703.5h-7.6M779.5 795.5v5.2M665.5 693.5h-4M786.5 795.5v5.2M665.5 686.5h-4M791.5 795.5v5.2M665.5 682.5h-4M795.5 795.5v5.2M665.5 678.5h-4M798.5 795.5v5.2M665.5 675.5h-4M801.5 795.5v5.2M665.5 673.5h-4M803.5 795.5v5.2M665.5 671.5h-4M805.5 795.5v5.2M665.5 669.5h-4M807.5 795.5v8.5M665.5 668.5h-7.6M819.5 795.5v5.2M665.5 657.5h-4" stroke="#111" stroke-width="1" fill="none"/>
<text x="688.2" y="813.9" font-size="8.6" font-family="Liberation Sans" text-anchor="middle" stroke="#000" stroke-width="0.25">10<tspan dy="-5" font-size="7">2</tspan></text>
<text x="656.7" y="773.7" font-size="8.6" font-family="Liberation Sans" text-anchor="middle" stroke="#000" stroke-width="0.25" transform="rotate(-90 656.7 773.7)">10<tspan dy="-5" font-size="7">2</tspan></text>
<text x="728" y="813.9" font-size="8.6" font-family="Liberation Sans" text-anchor="middle" stroke="#000" stroke-width="0.25">10<tspan dy="-5" font-size="7">3</tspan></text>
<text x="656.7" y="738" font-size="8.6" font-family="Liberation Sans" text-anchor="middle" stroke="#000" stroke-width="0.25" transform="rotate(-90 656.7 738)">10<tspan dy="-5" font-size="7">3</tspan></text>
<text x="767.8" y="813.9" font-size="8.6" font-family="Liberation Sans" text-anchor="middle" stroke="#000" stroke-width="0.25">10<tspan dy="-5" font-size="7">4</tspan></text>
<text x="656.7" y="702.3" font-size="8.6" font-family="Liberation Sans" text-anchor="middle" stroke="#000" stroke-width="0.25" transform="rotate(-90 656.7 702.3)">10<tspan dy="-5" font-size="7">4</tspan></text>
<text x="807.5" y="813.9" font-size="8.6" font-family="Liberation Sans" text-anchor="middle" stroke="#000" stroke-width="0.25">10<tspan dy="-5" font-size="7">5</tspan></text>
<text x="656.7" y="666.6" font-size="8.6" font-family="Liberation Sans" text-anchor="middle" stroke="#000" stroke-width="0.25" transform="rotate(-90 656.7 666.6)">10<tspan dy="-5" font-size="7">5</tspan></text>
<path d="M739 710h0M750 715h1m11 0h0M710 716h0m15 0h0M775 718h0M725 719h0m21 0h0M716 720h0m25 0h0m20 0h0M716 721h0m8 0h0m4 0h0m6 0h0m23 0h0M725 722h1m9 0h0m20 0h0M700 723h0m18 0h0m6 0h0m5 0h0m4 0h1m3 0h0m2 0h0m10 0h0m5 0h0M711 724h0m5 0h0m11 0h0m9 0h0m4 0h1M731 725h2m5 0h0M701 726h0m3 0h0m5 0h0m9 0h1m2 0h1m2 0h0m5 0h0m2 0h0m3 0h0m2 0h1m2 0h0m2 0h0m18 0h0m34 0h0M712 727h0m2 0h0m4 0h0m11 0h0m4 0h1m5 0h0m11 0h0m5 0h0m8 0h0m13 0h0M688 728h0m2 0h0m8 0h0m12 0h0m7 0h0m10 0h2m3 0h0m2 0h3m8 0h0m7 0h0m3 0h0M696 729h0m29 0h0m7 0h1m3 0h1m3 0h0m2 0h0m8 0h1m32 0h0m2 0h0m7 0h0M711 730h0m4 0h0m3 0h0m2 0h1m3 0h0m8 0h0m9 0h0m5 0h0m8 0h0m19 0h0M705 731h0m4 0h1m3 0h0m7 0h0m2 0h0m3 0h1m5 0h1m2 0h0m2 0h2m5 0h0m6 0h0m5 0h0m2 0h0m8 0h0M701 732h0m9 0h0m8 0h0m6 0h3m7 0h0m10 0h0m2 0h0m11 0h0m3 0h0m8 0h2M702 733h0m5 0h0m6 0h0m6 0h2m4 0h1m3 0h0m5 0h0m5 0h0m3 0h0m2 0h0m2 0h1m3 0h0m5 0h0m5 0h0m3 0h0m3 0h0m9 0h0M711 734h2m2 0h0m2 0h1m5 0h1m4 0h0m2 0h0m2 0h0m4 0h0m2 0h2m4 0h0m2 0h5m2 0h1m2 0h0m5 0h0m11 0h1m4 0h0m5 0h0M716 735h0m3 0h0m3 0h3m2 0h3m2 0h1m2 0h0m2 0h3m2 0h0m4 0h1m4 0h0m2 0h0m2 0h0m5 0h0m4 0h0m2 0h0m3 0h0m6 0h0M712 736h0m3 0h1m3 0h0m2 0h1m2 0h2m2 0h3m4 0h0m3 0h2m8 0h1m2 0h0m6 0h1m3 0h0m2 0h0m10 0h0m9 0h0M694 737h0m12 0h0m13 0h1m3 0h1m3 0h0m4 0h0m3 0h1m2 0h1m2 0h0m2 0h3m2 0h2m3 0h0m2 0h2m4 0h2m5 0h0m5 0h0m3 0h0m2 0h0M704 738h0m8 0h0m6 0h0m5 0h5m4 0h1m2 0h0m2 0h0m2 0h3m3 0h1m2 0h3m3 0h0m2 0h1m3 0h2m7 0h0m3 0h0m10 0h0M707 739h0m3 0h0m3 0h0m7 0h0m3 0h0m2 0h0m2 0h1m6 0h0m2 0h0m2 0h0m3 0h1m2 0h1m2 0h1m2 0h0m3 0h5m3 0h0m3 0h3M702 740h0m10 0h0m8 0h1m3 0h0m2 0h1m2 0h0m2 0h0m2 0h1m4 0h2m3 0h0m2 0h2m3 0h1m2 0h1m4 0h0m3 0h1m3 0h2m8 0h0m2 0h0m2 0h0M698 741h0m7 0h0m5 0h1m12 0h1m4 0h1m2 0h3m3 0h3m2 0h1m2 0h1m5 0h0m2 0h3m2 0h1m3 0h0m2 0h0m3 0h0m2 0h0M698 742h2m20 0h0m4 0h0m3 0h0m2 0h0m2 0h2m2 0h1m2 0h3m2 0h5m2 0h0m3 0h0m2 0h0m2 0h0m2 0h0m3 0h0m8 0h1m2 0h1m3 0h0M709 743h0m6 0h2m6 0h0m2 0h6m2 0h2m2 0h0m2 0h0m2 0h1m2 0h1m4 0h4m2 0h0m3 0h2m2 0h2m2 0h0m3 0h2m8 0h0M704 744h0m8 0h0m5 0h1m6 0h0m2 0h3m2 0h1m3 0h0m3 0h0m2 0h1m2 0h4m2 0h1m3 0h4m3 0h0m2 0h1m2 0h0m2 0h0m7 0h0M712 745h0m8 0h0m2 0h0m2 0h0m3 0h0m2 0h1m2 0h1m2 0h0m4 0h0m2 0h1m2 0h5m3 0h4m3 0h0m4 0h2m3 0h1m2 0h0m6 0h0m5 0h0m22 0h0m4 0h0M697 746h0m3 0h0m2 0h0m2 0h0m3 0h0m5 0h0m2 0h0m2 0h0m8 0h1m4 0h0m6 0h0m2 0h2m3 0h0m2 0h0m2 0h3m3 0h0m2 0h1m2 0h1m3 0h0m2 0h1m7 0h0m3 0h1m8 0h0M706 747h0m13 0h2m2 0h2m2 0h1m3 0h1m2 0h4m2 0h0m3 0h5m3 0h0m2 0h5m2 0h1m2 0h3m2 0h1m3 0h0m5 0h1M703 748h1m4 0h0m4 0h1m8 0h0m8 0h0m3 0h0m2 0h0m4 0h0m2 0h4m2 0h2m2 0h1m2 0h0m2 0h1m2 0h0m2 0h0m3 0h1m7 0h1m2 0h2m18 0h0M709 749h0m2 0h0m2 0h0m7 0h1m2 0h0m2 0h0m4 0h1m2 0h1m2 0h1m4 0h0m2 0h1m2 0h6m3 0h1m2 0h1m2 0h2m5 0h1m2 0h2m2 0h0M717 750h1m2 0h0m3 0h2m2 0h1m3 0h2m4 0h0m2 0h1m2 0h5m3 0h3m3 0h1m4 0h0m2 0h5m5 0h3m5 0h0M709 751h0m5 0h0m7 0h0m4 0h1m2 0h0m2 0h1m3 0h0m2 0h1m6 0h2m3 0h3m2 0h0m3 0h4m2 0h3m4 0h0m4 0h0m4 0h0m3 0h0m2 0h0m6 0h0m3 0h1m6 0h0M706 752h0m13 0h0m3 0h1m3 0h1m8 0h0m2 0h0m2 0h0m3 0h1m3 0h0m3 0h4m2 0h0m2 0h0m2 0h0m2 0h6m2 0h3m2 0h0M718 753h0m4 0h0m3 0h1m2 0h1m4 0h0m5 0h7m3 0h8m8 0h1m5 0h1m3 0h0m5 0h0m5 0h0M710 754h0m4 0h0m6 0h0m5 0h0m2 0h1m4 0h0m2 0h1m3 0h2m4 0h1m6 0h1m2 0h0m2 0h1m5 0h0m9 0h0m6 0h2m3 0h0m3 0h0M728 755h0m2 0h0m3 0h2m2 0h0m2 0h0m2 0h2m7 0h0m5 0h1m2 0h0m3 0h2m4 0h3m8 0h0m15 0h0M717 756h0m3 0h2m8 0h0m3 0h1m2 0h0m2 0h0m2 0h0m2 0h2m8 0h0m9 0h0m3 0h0m4 0h1m9 0h0M698 757h0m5 0h0m13 0h1m10 0h1m11 0h0m2 0h2m4 0h0m3 0h0m2 0h0m2 0h3m3 0h1m3 0h1m5 0h1m2 0h0m7 0h0m9 0h0M721 758h0m6 0h0m7 0h0m2 0h0m3 0h0m2 0h0m7 0h1m2 0h1m2 0h1m4 0h1m2 0h0m2 0h1m2 0h0m4 0h2M720 759h0m4 0h0m12 0h0m2 0h1m2 0h1m3 0h0m4 0h0m4 0h1m10 0h1m3 0h0m10 0h0m2 0h0m2 0h0M705 760h0m13 0h0m2 0h0m2 0h0m13 0h0m5 0h1m2 0h0m4 0h2m2 0h1m2 0h0m3 0h0m2 0h1m4 0h1m6 0h1m16 0h0M714 761h0m8 0h0m2 0h0m6 0h0m20 0h0m13 0h0m9 0h0m2 0h0m4 0h0m7 0h0M714 762h0m14 0h0m6 0h0m7 0h0m3 0h1m4 0h1m7 0h0m6 0h0m3 0h0m2 0h0m12 0h0M740 763h0m8 0h0m10 0h2m2 0h2m2 0h0m3 0h0M730 764h0m7 0h1m7 0h0m2 0h0m6 0h0m16 0h1m7 0h0m5 0h0m7 0h0M746 765h0m14 0h0m2 0h0m8 0h0m3 0h0m9 0h0M743 766h0m3 0h0m3 0h0m3 0h0m6 0h0M743 767h0m22 0h0m13 0h0M729 768h0m14 0h0m2 0h0m9 0h0m5 0h0m13 0h0M752 769h1m10 0h0M768 770h0m12 0h1M748 771h1m2 0h0m3 0h0M724 772h0m25 0h0m12 0h0m8 0h0M792 774h0M762 776h0M773 778h0M720 779h0M750 780h0M730 781h0m54 0h0M738 787h0" stroke="#000" stroke-width="1.3" stroke-linecap="square" fill="none" transform="translate(0.5 0.5)"/>
<rect x="474.5" y="827.5" width="159" height="143" fill="none" stroke="#000" stroke-width="1"/>
<path d="M476.5 970.5v5.2M474.5 968.5h-4M481.5 970.5v5.2M474.5 964.5h-4M485.5 970.5v5.2M474.5 960.5h-4M488.5 970.5v5.2M474.5 957.5h-4M491.5 970.5v5.2M474.5 955.5h-4M493.5 970.5v5.2M474.5 953.5h-4M495.5 970.5v5.2M474.5 951.5h-4M497.5 970.5v8.5M474.5 949.5h-7.6M509.5 970.5v5.2M474.5 939.5h-4M516.5 970.5v5.2M474.5 932.5h-4M521.5 970.5v5.2M474.5 928.5h-4M525.5 970.5v5.2M474.5 924.5h-4M528.5 970.5v5.2M474.5 921.5h-4M531.5 970.5v5.2M474.5 919.5h-4M533.5 970.5v5.2M474.5 917.5h-4M535.5 970.5v5.2M474.5 915.5h-4M537.5 970.5v8.5M474.5 914.5h-7.6M549.5 970.5v5.2M474.5 903.5h-4M556.5 970.5v5.2M474.5 896.5h-4M561.5 970.5v5.2M474.5 892.5h-4M565.5 970.5v5.2M474.5 888.5h-4M568.5 970.5v5.2M474.5 886.5h-4M571.5 970.5v5.2M474.5 883.5h-4M573.5 970.5v5.2M474.5 881.5h-4M575.5 970.5v5.2M474.5 879.5h-4M577.5 970.5v8.5M474.5 878.5h-7.6M589.5 970.5v5.2M474.5 867.5h-4M596.5 970.5v5.2M474.5 861.5h-4M601.5 970.5v5.2M474.5 856.5h-4M605.5 970.5v5.2M474.5 853.5h-4M608.5 970.5v5.2M474.5 850.5h-4M611.5 970.5v5.2M474.5 847.5h-4M613.5 970.5v5.2M474.5 845.5h-4M615.5 970.5v5.2M474.5 843.5h-4M617.5 970.5v8.5M474.5 842.5h-7.6M629.5 970.5v5.2M474.5 831.5h-4" stroke="#111" stroke-width="1" fill="none"/>
<text x="497.6" y="988.7" font-size="8.6" font-family="Liberation Sans" text-anchor="middle" stroke="#000" stroke-width="0.25">10<tspan dy="-5" font-size="7">2</tspan></text>
<text x="465.9" y="948.4" font-size="8.6" font-family="Liberation Sans" text-anchor="middle" stroke="#000" stroke-width="0.25" transform="rotate(-90 465.9 948.4)">10<tspan dy="-5" font-size="7">2</tspan></text>
<text x="537.5" y="988.7" font-size="8.6" font-family="Liberation Sans" text-anchor="middle" stroke="#000" stroke-width="0.25">10<tspan dy="-5" font-size="7">3</tspan></text>
<text x="465.9" y="912.5" font-size="8.6" font-family="Liberation Sans" text-anchor="middle" stroke="#000" stroke-width="0.25" transform="rotate(-90 465.9 912.5)">10<tspan dy="-5" font-size="7">3</tspan></text>
<text x="577.5" y="988.7" font-size="8.6" font-family="Liberation Sans" text-anchor="middle" stroke="#000" stroke-width="0.25">10<tspan dy="-5" font-size="7">4</tspan></text>
<text x="465.9" y="876.7" font-size="8.6" font-family="Liberation Sans" text-anchor="middle" stroke="#000" stroke-width="0.25" transform="rotate(-90 465.9 876.7)">10<tspan dy="-5" font-size="7">4</tspan></text>
<text x="617.5" y="988.7" font-size="8.6" font-family="Liberation Sans" text-anchor="middle" stroke="#000" stroke-width="0.25">10<tspan dy="-5" font-size="7">5</tspan></text>
<text x="465.9" y="840.8" font-size="8.6" font-family="Liberation Sans" text-anchor="middle" stroke="#000" stroke-width="0.25" transform="rotate(-90 465.9 840.8)">10<tspan dy="-5" font-size="7">5</tspan></text>
<path d="M554 858h0M544 861h0M550 867h0M529 868h0M550 870h0M605 871h0M521 872h0M563 873h0M566 874h0M549 875h0m12 0h0m9 0h0m5 0h0m8 0h0M566 876h0m8 0h0M541 877h0m11 0h1m3 0h0m36 0h0M519 878h0m24 0h0m15 0h2m2 0h0m2 0h0m3 0h0m3 0h0m3 0h0M528 879h0m26 0h0m16 0h0m2 0h0M537 880h0m20 0h0m2 0h0m4 0h0m14 0h0M532 881h0m9 0h0m5 0h0m2 0h1m4 0h0m2 0h0m3 0h0m5 0h1m2 0h0m5 0h0m20 0h0m3 0h0M541 882h0m8 0h1m4 0h0m2 0h0m4 0h0m3 0h0m2 0h0m2 0h0M519 883h0m26 0h0m7 0h0m2 0h1m8 0h0m2 0h0m6 0h0m13 0h0M519 884h0m22 0h0m10 0h0m4 0h0m2 0h0m3 0h0m7 0h0m14 0h0M510 885h0m31 0h0m11 0h0m5 0h2m11 0h0m3 0h0m9 0h0M524 886h0m6 0h0m19 0h1m6 0h0m5 0h0m2 0h0m2 0h1m2 0h0m7 0h0m3 0h0M545 887h0m7 0h1m3 0h0m3 0h0m2 0h0m7 0h0m5 0h0m7 0h0m10 0h0M540 888h0m2 0h0m3 0h1m5 0h0m2 0h0m2 0h1m6 0h1m4 0h0m2 0h3m2 0h0m2 0h1m8 0h0m3 0h0m10 0h1M533 889h0m11 0h0m3 0h1m3 0h0m2 0h0m2 0h1m5 0h0m3 0h0m2 0h0m4 0h1m9 0h1m4 0h1M541 890h1m6 0h0m3 0h0m2 0h0m2 0h0m2 0h0m2 0h0m2 0h0m2 0h0m3 0h0m10 0h1m3 0h0m8 0h1m5 0h0m15 0h0M516 891h0m14 0h1m6 0h0m2 0h1m4 0h0m6 0h2m2 0h0m8 0h1m3 0h1m4 0h0m5 0h0m5 0h0m2 0h0m2 0h0m4 0h0m9 0h0M522 892h0m2 0h0m9 0h0m5 0h0m4 0h0m4 0h0m2 0h1m2 0h1m3 0h2m3 0h1m2 0h0m2 0h0m2 0h4m3 0h0m2 0h0m3 0h1m2 0h0m3 0h0m9 0h0m2 0h0M528 893h0m6 0h0m3 0h0m2 0h0m4 0h0m5 0h0m2 0h3m2 0h0m2 0h1m2 0h1m4 0h2m5 0h0m2 0h0m4 0h3m2 0h0m2 0h0m2 0h0m2 0h1m6 0h0m2 0h0m25 0h0M528 894h0m3 0h0m9 0h0m3 0h0m2 0h2m2 0h0m3 0h2m3 0h0m3 0h0m2 0h0m2 0h0m4 0h4m3 0h1m3 0h0m5 0h0m4 0h1m3 0h0m3 0h0m2 0h0m4 0h0M531 895h0m2 0h0m3 0h0m3 0h0m7 0h1m3 0h4m2 0h2m3 0h4m2 0h2m2 0h0m2 0h1m3 0h1m3 0h0m2 0h1m10 0h3M519 896h0m5 0h0m4 0h0m3 0h0m5 0h0m4 0h2m2 0h1m7 0h0m2 0h1m2 0h2m3 0h0m3 0h4m3 0h3m4 0h1m2 0h0m2 0h1m2 0h0m3 0h0m3 0h0m2 0h0M508 897h0m10 0h0m11 0h0m4 0h0m5 0h1m2 0h1m2 0h0m2 0h0m3 0h0m3 0h2m2 0h1m6 0h1m3 0h0m2 0h1m2 0h0m2 0h0m3 0h0m2 0h4m4 0h0m2 0h0m2 0h0m2 0h1M511 898h0m16 0h0m6 0h0m7 0h1m2 0h0m3 0h1m2 0h1m2 0h1m2 0h1m2 0h0m3 0h1m2 0h0m2 0h1m2 0h1m2 0h0m2 0h3m3 0h1m2 0h0m4 0h0m2 0h0m2 0h1m9 0h0M518 899h0m10 0h0m6 0h1m5 0h0m2 0h0m3 0h0m3 0h0m3 0h0m3 0h0m2 0h1m2 0h5m3 0h1m5 0h2m2 0h0m2 0h0m3 0h1m2 0h1m4 0h0m2 0h1M522 900h0m2 0h0m8 0h1m4 0h4m2 0h2m4 0h0m2 0h2m2 0h2m2 0h1m3 0h2m2 0h0m4 0h0m6 0h1m2 0h1m2 0h2m3 0h0m5 0h0m7 0h1M516 901h0m6 0h0m4 0h0m2 0h0m4 0h1m2 0h0m2 0h0m2 0h4m2 0h0m2 0h0m2 0h2m2 0h1m2 0h0m3 0h2m5 0h1m2 0h0m2 0h1m4 0h0m3 0h3m2 0h0m2 0h4m7 0h0m3 0h0M526 902h0m2 0h0m2 0h0m4 0h2m2 0h2m3 0h1m4 0h0m2 0h0m3 0h0m4 0h4m3 0h1m2 0h1m2 0h0m2 0h0m3 0h0m2 0h2m2 0h1m2 0h0m2 0h0m3 0h0m6 0h0m8 0h0M520 903h0m5 0h0m10 0h0m5 0h0m5 0h3m2 0h1m2 0h1m3 0h0m2 0h2m4 0h0m2 0h1m2 0h0m2 0h0m2 0h0m2 0h3m3 0h0m5 0h0m2 0h0m15 0h0M516 904h0m10 0h0m2 0h0m3 0h0m4 0h2m4 0h0m2 0h0m4 0h0m3 0h7m3 0h2m2 0h0m2 0h0m2 0h1m3 0h2m2 0h0m3 0h1m2 0h0m3 0h2m15 0h0M531 905h1m6 0h1m6 0h2m2 0h4m3 0h1m3 0h4m2 0h0m2 0h8m2 0h2m2 0h0m3 0h2m2 0h0m4 0h0m11 0h0M516 906h0m10 0h0m2 0h1m10 0h3m4 0h1m4 0h1m3 0h0m2 0h6m4 0h0m3 0h0m3 0h0m3 0h0m6 0h1m2 0h0m4 0h0m6 0h2M515 907h0m12 0h1m2 0h0m2 0h0m4 0h0m2 0h1m2 0h1m2 0h3m2 0h3m2 0h2m2 0h2m3 0h1m4 0h1m2 0h0m3 0h1m4 0h1m5 0h1m4 0h2m10 0h0m4 0h0M528 908h0m7 0h0m5 0h1m3 0h1m2 0h0m2 0h0m4 0h1m2 0h3m2 0h1m3 0h0m2 0h10m2 0h0m2 0h0m3 0h0m3 0h0m2 0h0m3 0h0m5 0h0M526 909h0m5 0h1m3 0h0m2 0h0m2 0h2m5 0h0m2 0h2m3 0h6m3 0h2m2 0h1m2 0h1m2 0h1m2 0h0m3 0h0m2 0h2m2 0h0m3 0h1m3 0h0m7 0h0m9 0h0M522 910h0m4 0h0m3 0h1m5 0h1m2 0h3m4 0h0m2 0h0m2 0h2m2 0h0m4 0h3m4 0h0m3 0h2m2 0h4m2 0h1m2 0h0m3 0h0m3 0h0m6 0h0M519 911h0m15 0h0m5 0h0m4 0h2m2 0h5m2 0h2m2 0h3m2 0h0m3 0h0m2 0h2m2 0h0m4 0h1m2 0h1m2 0h0m2 0h1m6 0h0m12 0h0M514 912h0m20 0h0m5 0h0m3 0h2m2 0h2m4 0h0m3 0h0m3 0h1m2 0h0m2 0h7m3 0h2m2 0h4m5 0h2m9 0h0M525 913h0m5 0h0m5 0h0m3 0h1m3 0h0m2 0h1m4 0h0m2 0h3m2 0h2m2 0h9m5 0h0m4 0h1m2 0h0m3 0h0m3 0h0m7 0h0M526 914h1m3 0h2m7 0h2m8 0h1m5 0h0m3 0h0m3 0h0m2 0h2m2 0h0m2 0h0m2 0h0m4 0h1m5 0h0m8 0h0m4 0h0m8 0h0M520 915h0m6 0h0m7 0h0m6 0h0m4 0h1m2 0h0m2 0h0m6 0h0m2 0h0m3 0h1m3 0h0m2 0h0m2 0h0m2 0h1m3 0h0m3 0h1m2 0h0m3 0h0m7 0h1m8 0h0m3 0h0M519 916h0m3 0h0m6 0h0m8 0h0m3 0h0m8 0h1m6 0h0m3 0h1m2 0h0m2 0h0m3 0h1m2 0h1m4 0h0m3 0h0m4 0h0m2 0h1m10 0h0M536 917h0m4 0h3m4 0h0m2 0h0m5 0h2m2 0h0m2 0h0m2 0h0m2 0h1m2 0h0m3 0h2m2 0h0m2 0h4m7 0h1m6 0h0m7 0h0M534 918h0m7 0h0m2 0h0m5 0h2m3 0h0m4 0h2m2 0h6m2 0h0m4 0h2m4 0h3m6 0h0m4 0h0m4 0h1M517 919h0m7 0h0m2 0h0m13 0h0m4 0h0m3 0h1m6 0h1m2 0h0m6 0h0m2 0h3m3 0h0m3 0h0m3 0h2m5 0h0m2 0h0m4 0h0m3 0h0M530 920h0m2 0h0m5 0h0m7 0h0m2 0h0m5 0h2m7 0h0m2 0h1m2 0h3m5 0h0m2 0h0m6 0h3m17 0h0M506 921h0m18 0h0m5 0h0m15 0h0m5 0h0m2 0h0m11 0h3m3 0h0m2 0h0m6 0h0m8 0h3m8 0h0M503 922h0m37 0h1m2 0h0m4 0h3m4 0h0m2 0h0m2 0h0m20 0h0m8 0h0m2 0h0M543 923h0m2 0h0m6 0h0m8 0h0m6 0h1m3 0h0m8 0h1m7 0h0M533 924h0m5 0h0m10 0h0m3 0h0m12 0h2m5 0h0m2 0h0m10 0h0m8 0h0M536 925h0m20 0h0m2 0h1m7 0h0m2 0h0m4 0h0m8 0h0M540 926h0m5 0h0m15 0h0m5 0h0m6 0h0m4 0h1m3 0h0m6 0h0m23 0h0M544 927h0m7 0h0m13 0h0m8 0h0M547 928h0m5 0h0m9 0h0m2 0h0m10 0h0m6 0h0m4 0h0M550 929h0m6 0h1m8 0h0m18 0h0M514 930h0m23 0h0m9 0h0m2 0h0m2 0h0m2 0h0m9 0h0m21 0h0m7 0h0M536 931h0m25 0h0m9 0h0m3 0h1M540 932h0m17 0h0m4 0h0M522 933h0m40 0h1M556 934h1M567 935h1M552 936h0M529 938h0m10 0h0m2 0h0m20 0h0M571 939h0M604 940h0M565 942h0M567 948h0M579 949h0" stroke="#000" stroke-width="1.3" stroke-linecap="square" fill="none" transform="translate(0.5 0.5)"/>
<rect x="665.5" y="827.5" width="157" height="144" fill="none" stroke="#000" stroke-width="1"/>
<path d="M667.5 971.5v5.2M665.5 970.5h-4M672.5 971.5v5.2M665.5 965.5h-4M676.5 971.5v5.2M665.5 962.5h-4M679.5 971.5v5.2M665.5 959.5h-4M681.5 971.5v5.2M665.5 956.5h-4M684.5 971.5v5.2M665.5 954.5h-4M686.5 971.5v5.2M665.5 952.5h-4M688.5 971.5v8.5M665.5 951.5h-7.6M699.5 971.5v5.2M665.5 940.5h-4M706.5 971.5v5.2M665.5 934.5h-4M711.5 971.5v5.2M665.5 929.5h-4M715.5 971.5v5.2M665.5 926.5h-4M718.5 971.5v5.2M665.5 923.5h-4M721.5 971.5v5.2M665.5 920.5h-4M723.5 971.5v5.2M665.5 918.5h-4M725.5 971.5v5.2M665.5 916.5h-4M727.5 971.5v8.5M665.5 915.5h-7.6M739.5 971.5v5.2M665.5 904.5h-4M746.5 971.5v5.2M665.5 898.5h-4M751.5 971.5v5.2M665.5 893.5h-4M754.5 971.5v5.2M665.5 890.5h-4M757.5 971.5v5.2M665.5 887.5h-4M760.5 971.5v5.2M665.5 884.5h-4M762.5 971.5v5.2M665.5 882.5h-4M764.5 971.5v5.2M665.5 880.5h-4M766.5 971.5v8.5M665.5 879.5h-7.6M778.5 971.5v5.2M665.5 868.5h-4M785.5 971.5v5.2M665.5 862.5h-4M790.5 971.5v5.2M665.5 857.5h-4M794.5 971.5v5.2M665.5 854.5h-4M797.5 971.5v5.2M665.5 851.5h-4M799.5 971.5v5.2M665.5 848.5h-4M802.5 971.5v5.2M665.5 846.5h-4M804.5 971.5v5.2M665.5 844.5h-4M806.5 971.5v8.5M665.5 843.5h-7.6M817.5 971.5v5.2M665.5 832.5h-4" stroke="#111" stroke-width="1" fill="none"/>
<text x="688" y="990.1" font-size="8.6" font-family="Liberation Sans" text-anchor="middle" stroke="#000" stroke-width="0.25">10<tspan dy="-5" font-size="7">2</tspan></text>
<text x="656.7" y="949.7" font-size="8.6" font-family="Liberation Sans" text-anchor="middle" stroke="#000" stroke-width="0.25" transform="rotate(-90 656.7 949.7)">10<tspan dy="-5" font-size="7">2</tspan></text>
<text x="727.4" y="990.1" font-size="8.6" font-family="Liberation Sans" text-anchor="middle" stroke="#000" stroke-width="0.25">10<tspan dy="-5" font-size="7">3</tspan></text>
<text x="656.7" y="913.7" font-size="8.6" font-family="Liberation Sans" text-anchor="middle" stroke="#000" stroke-width="0.25" transform="rotate(-90 656.7 913.7)">10<tspan dy="-5" font-size="7">3</tspan></text>
<text x="766.7" y="990.1" font-size="8.6" font-family="Liberation Sans" text-anchor="middle" stroke="#000" stroke-width="0.25">10<tspan dy="-5" font-size="7">4</tspan></text>
<text x="656.7" y="877.8" font-size="8.6" font-family="Liberation Sans" text-anchor="middle" stroke="#000" stroke-width="0.25" transform="rotate(-90 656.7 877.8)">10<tspan dy="-5" font-size="7">4</tspan></text>
<text x="806.1" y="990.1" font-size="8.6" font-family="Liberation Sans" text-anchor="middle" stroke="#000" stroke-width="0.25">10<tspan dy="-5" font-size="7">5</tspan></text>
<text x="656.7" y="841.8" font-size="8.6" font-family="Liberation Sans" text-anchor="middle" stroke="#000" stroke-width="0.25" transform="rotate(-90 656.7 841.8)">10<tspan dy="-5" font-size="7">5</tspan></text>
<path d="M771 859h0M785 861h0M718 865h0M747 869h0M739 871h0M751 872h0M755 873h0m20 0h0m9 0h0M734 874h0m10 0h0m39 0h0M750 875h0m7 0h0m32 0h0M737 876h0m13 0h0m28 0h0m24 0h0M737 877h0m6 0h0m10 0h0m37 0h0M784 878h0M757 879h0m10 0h0M740 880h0m20 0h0M738 881h0m9 0h0m12 0h2m4 0h0M724 882h0m4 0h0m3 0h0m31 0h0m8 0h0M741 883h0m19 0h1m4 0h0m12 0h1M743 884h0m5 0h1m3 0h0m5 0h0m34 0h0M741 885h0m9 0h0m4 0h0m4 0h1m2 0h1m3 0h0M746 886h0m11 0h0m7 0h0m10 0h0m6 0h0m4 0h0M737 887h0m2 0h0m3 0h1m4 0h0m16 0h0m4 0h0m2 0h0M731 888h0m8 0h0m5 0h0m6 0h1m27 0h0m3 0h0m14 0h0M730 889h0m27 0h0m13 0h0M737 890h0m5 0h0m2 0h0m7 0h0m18 0h0m4 0h0m8 0h0M711 891h0m19 0h0m5 0h1m5 0h1m5 0h0m3 0h0m4 0h0m14 0h0m4 0h0m4 0h0m3 0h1m21 0h0M741 892h1m13 0h0m6 0h0m2 0h0m9 0h0m4 0h0m6 0h1M743 893h0m4 0h0m21 0h0M723 894h0m8 0h0m6 0h0m5 0h0m4 0h0m2 0h0m17 0h0m6 0h0M714 895h0m39 0h0m6 0h0m5 0h0m11 0h0m3 0h0m4 0h0m7 0h0M744 896h1m3 0h1m2 0h0m4 0h0m6 0h0m2 0h0m9 0h2M724 897h0m6 0h0m11 0h0m3 0h0m5 0h0m4 0h0m5 0h0m11 0h0M714 898h0m4 0h0m12 0h0m6 0h1m7 0h0m3 0h1m5 0h0m7 0h0m10 0h0m4 0h1m4 0h0M727 899h0m4 0h0m12 0h1m5 0h1m6 0h0m5 0h1m7 0h0m3 0h0m4 0h0m22 0h0M721 900h0m5 0h0m8 0h0m5 0h0m7 0h0m20 0h0m3 0h0m2 0h0m4 0h0m2 0h0M710 901h0m14 0h0m9 0h0m12 0h0m8 0h1m2 0h0m5 0h0m3 0h0m2 0h0m4 0h0m13 0h0m5 0h0M732 902h0m9 0h0m17 0h0m15 0h0m4 0h1m3 0h0m15 0h0m4 0h0M749 903h0m4 0h0m5 0h0m5 0h0m3 0h0m3 0h0m3 0h0m13 0h0m2 0h0m12 0h0M704 904h0m13 0h0m6 0h0m9 0h0m7 0h0m16 0h1m12 0h0m6 0h0m3 0h0m14 0h0m4 0h0M725 905h0m9 0h0m9 0h1m3 0h0m5 0h0m3 0h1m22 0h0M715 906h0m29 0h0m4 0h0m3 0h0m2 0h0m7 0h0m2 0h0m5 0h0m4 0h1m8 0h0m2 0h0M735 907h0m2 0h0m8 0h0m4 0h2m13 0h0m2 0h0m21 0h0M724 908h1m7 0h0m2 0h0m2 0h1m2 0h0m3 0h0m4 0h0m6 0h0m2 0h0m6 0h0m10 0h1m5 0h0m3 0h0m15 0h0m9 0h0M730 909h0m11 0h0m2 0h0m3 0h0m5 0h1m26 0h0m5 0h0M727 910h0m3 0h0m11 0h0m2 0h0m10 0h0m4 0h0m3 0h0m3 0h0m2 0h0m6 0h0m2 0h0m6 0h0m6 0h0m3 0h0M729 911h0m6 0h0m12 0h1m5 0h1m6 0h0m9 0h0m2 0h0m6 0h0m15 0h0M731 912h0m5 0h0m3 0h1m3 0h0m6 0h0m4 0h0m3 0h0m3 0h0m5 0h0m2 0h1m6 0h0m2 0h0m14 0h0m4 0h0m5 0h0M727 913h1m10 0h1m4 0h0m9 0h1m2 0h0m2 0h0m2 0h0m14 0h0m7 0h0m4 0h0m3 0h0m4 0h0m8 0h0M739 914h0m2 0h0m5 0h0m5 0h0m5 0h1m2 0h0m5 0h0m7 0h0m5 0h0m2 0h1m2 0h1m10 0h0M736 915h1m2 0h0m12 0h0m12 0h0m2 0h0m29 0h0m5 0h0M722 916h0m17 0h1m2 0h0m2 0h0m3 0h0m5 0h0m5 0h3m6 0h0m4 0h1m5 0h0m13 0h0m6 0h0M711 917h0m25 0h0m3 0h0m6 0h0m3 0h0m4 0h0m4 0h1m7 0h0m9 0h1m6 0h0m12 0h0M733 918h0m4 0h0m11 0h0m3 0h0m4 0h0m4 0h0m3 0h1m6 0h0m9 0h0m6 0h0m3 0h0m7 0h0M702 919h0m7 0h0m7 0h0m10 0h0m10 0h1m17 0h0m2 0h0m3 0h0m6 0h1m3 0h0m4 0h0m12 0h2m2 0h0m8 0h0m8 0h0M708 920h0m21 0h0m8 0h0m2 0h0m2 0h1m2 0h0m4 0h0m3 0h0m8 0h0m4 0h0m7 0h0m8 0h0M716 921h0m25 0h0m5 0h0m2 0h1m2 0h1m4 0h0m2 0h0m4 0h1m20 0h0m3 0h0M713 922h0m7 0h0m18 0h0m12 0h2m2 0h0m15 0h0m2 0h0m5 0h0M739 923h2m2 0h1m6 0h0m16 0h0m6 0h0M731 924h1m12 0h0m15 0h0m4 0h0m5 0h0m8 0h0m3 0h0m8 0h0m10 0h0M736 925h0m4 0h0m23 0h0m4 0h0m3 0h0m8 0h0m2 0h1M725 926h0m36 0h1m4 0h0m4 0h0m14 0h0m36 0h0M723 927h0m13 0h0m3 0h0m6 0h0m5 0h1m13 0h0m3 0h0m4 0h0m23 0h0M728 928h0m10 0h0m13 0h0m16 0h0m2 0h0M734 929h0m6 0h0m14 0h0m13 0h0m5 0h0m3 0h0m5 0h0m19 0h0M734 930h0m14 0h0m2 0h0m23 0h0m16 0h0M755 931h0m6 0h0m3 0h1m3 0h0M734 932h1m12 0h1m11 0h0m7 0h1M751 933h0m6 0h0m4 0h0m8 0h0m5 0h0m8 0h0m9 0h0M748 934h0m6 0h0m24 0h0M714 935h0m14 0h0m3 0h0m8 0h0m32 0h0m19 0h0M728 936h0m11 0h0m3 0h0m5 0h0m26 0h0M749 937h1m26 0h0M724 938h0m21 0h0m23 0h0m29 0h0M756 939h0m25 0h0M752 940h0m19 0h0m5 0h0m5 0h0M757 941h0m2 0h0m9 0h0M732 942h0m14 0h0m44 0h0M724 943h0M727 944h0m29 0h0m5 0h0m10 0h0M757 945h0m17 0h0M742 946h0m22 0h0m7 0h0M730 947h0M755 950h0M752 954h0" stroke="#000" stroke-width="1.3" stroke-linecap="square" fill="none" transform="translate(0.5 0.5)"/>
<rect x="455.6" y="142.2" width="29" height="40.2" fill="none" stroke="#000" stroke-width="1.8"/>
<polyline points="470,140.6 470,128.9 672,128.9 672,133" fill="none" stroke="#000" stroke-width="1.8"/>
<polygon points="667.3,130.6 676,130.6 671.8,147.5" fill="#000"/>
<text x="758.4" y="67" font-size="14.3" font-family="Liberation Serif" font-weight="bold" stroke="#000" stroke-width="0.3" text-anchor="start" >0 hr</text>
<text x="557.6" y="257.3" font-size="14.3" font-family="Liberation Serif" font-weight="bold" stroke="#000" stroke-width="0.3" text-anchor="start" >12 hr</text>
<text x="749.4" y="256.5" font-size="14.3" font-family="Liberation Serif" font-weight="bold" stroke="#000" stroke-width="0.3" text-anchor="start" >48 hr</text>
<text x="555.4" y="436.8" font-size="14.3" font-family="Liberation Serif" font-weight="bold" stroke="#000" stroke-width="0.3" text-anchor="start" >96 hr</text>
<text x="740.6" y="433.9" font-size="14.3" font-family="Liberation Serif" font-weight="bold" stroke="#000" stroke-width="0.3" text-anchor="start" >168 hr</text>
<text x="162.6" y="678.5" font-size="14.3" font-family="Liberation Serif" font-weight="bold" stroke="#000" stroke-width="0.3" text-anchor="start" >0 hr</text>
<text x="348.4" y="676.3" font-size="14.3" font-family="Liberation Serif" font-weight="bold" stroke="#000" stroke-width="0.3" text-anchor="start" >12 hr</text>
<text x="152.9" y="853.5" font-size="14.3" font-family="Liberation Serif" font-weight="bold" stroke="#000" stroke-width="0.3" text-anchor="start" >48 hr</text>
<text x="346.2" y="852" font-size="14.3" font-family="Liberation Serif" font-weight="bold" stroke="#000" stroke-width="0.3" text-anchor="start" >96 hr</text>
<text x="585.9" y="678.5" font-size="14.3" font-family="Liberation Serif" font-weight="bold" stroke="#000" stroke-width="0.3" text-anchor="start" >0 hr</text>
<text x="771.5" y="677.4" font-size="14.3" font-family="Liberation Serif" font-weight="bold" stroke="#000" stroke-width="0.3" text-anchor="start" >12 hr</text>
<text x="576.2" y="853.7" font-size="14.3" font-family="Liberation Serif" font-weight="bold" stroke="#000" stroke-width="0.3" text-anchor="start" >48 hr</text>
<text x="770.7" y="852.5" font-size="14.3" font-family="Liberation Serif" font-weight="bold" stroke="#000" stroke-width="0.3" text-anchor="start" >96 hr</text></svg>
</body></html>
